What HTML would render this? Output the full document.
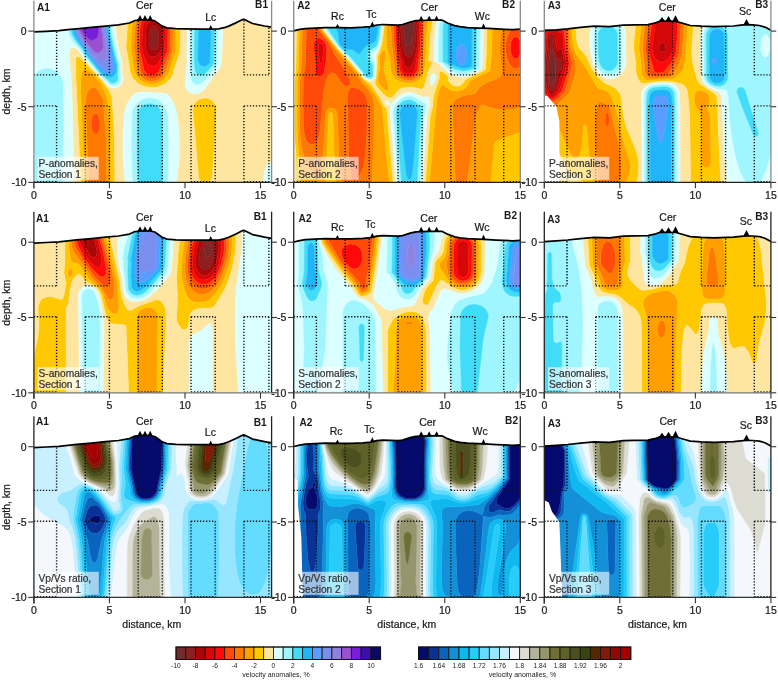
<!DOCTYPE html>
<html><head><meta charset="utf-8"><style>html,body{margin:0;padding:0;background:#fff;}svg{display:block;}text{filter:grayscale(1)}</style></head><body>
<svg width="778" height="680" viewBox="0 0 778 680">
<rect width="778" height="680" fill="#fff"/>
<clipPath id="cp00"><polygon points="33.9,31.9 46.0,31.4 59.0,30.7 70.2,29.4 76.7,28.8 91.3,27.4 105.5,26.1 118.5,24.9 129.5,23.0 135.0,20.5 139.7,19.9 145.0,19.8 150.2,19.9 154.8,20.9 158.6,23.6 161.7,25.9 166.9,27.9 175.9,28.7 184.8,28.9 200.1,29.1 207.7,29.1 218.7,28.9 224.3,27.7 228.7,26.1 236.5,22.6 241.7,19.9 243.5,19.2 245.4,19.9 252.5,23.5 264.5,26.0 271.6,27.2 271.6,182.4 33.9,182.4"/></clipPath>
<g clip-path="url(#cp00)">
<path d="M153.3 26.1l2.5 .5 1.2 1.4 1.2 3.5 .7 4.7 -.1 4.9 -.9 4.8 -1.8 3.7 -1.5 .5 -2.5 -.3 -1.5 -1.4 -1.7 -7.3 .1 -4.9 .8 -4.8 1.5 -3.6z" fill="#8c2020" stroke="#8c2020" stroke-width=".5"/>
<path d="M152.1 20.2l3.7 0 3.1 1.5 2 2.4 1.1 3.7 .1 10.9 -.7 10.9 -3.2 5.1 -3.6 2.1 -3.7 -.4 -2.4 -1.7 -3.2 -6.3 .9 -21.9 .9 -2.4 1.4 -1.8zM152.4 26.5l-1.5 1.8 -1.4 4.3 -.6 4.9 .1 4.8 1.6 6.1 1.5 1.4 2.5 .3 1.5 -.5 .9 -1.2 1.2 -3.6 .7 -4.9 -.1 -4.9 -.6 -3.6 -1.4 -3.6 -2.2 -1.7z" fill="#a80808" stroke="#a80808" stroke-width=".5"/>
<path d="M152.1 16.8l4.9 .3 4.2 2.2 2.9 3.6 1.2 4.9 -.8 23 -2.7 6 -3.6 6 -2.4 2.3 -2.5 .8 -3.6 -.5 -2.8 -2.5 -2.4 -4.8 -2.7 -9.7 .9 -20.6 .7 -3.7 1.5 -2.7 2 -2.1 2.8 -1.7zM151.3 20.5l-3.3 2.4 -1.8 3.6 -.9 21.9 3.2 6.3 2.4 1.7 3.7 .4 3.6 -2.1 3.2 -5.1 .7 -10.9 -.1 -10.9 -1.1 -3.7 -2.7 -2.9 -3.6 -1.2z" fill="#d40808" stroke="#d40808" stroke-width=".5"/>
<path d="M150.9 14.4l6.1 -.1 5.4 2.5 2.5 2.5 1.6 2.4 1.5 6.1 -.7 23 -8.5 20.6 -3 2.8 -3.7 1 -2.4 -.3 -2.4 -1 -1.6 -1.3 -1.6 -2.4 -5 -21.8 1 -21.9 .9 -3.6 1.4 -2.7 2.5 -2.7 2.7 -1.9zM152.1 16.8l-2.4 .8 -2.8 1.7 -2 2.1 -1.5 2.7 -.7 3.7 -.9 20.6 2.7 9.7 2.4 4.8 2.8 2.5 3.6 .5 2.5 -.8 2.4 -2.3 3.6 -6 2.7 -6 .8 -23 -1.2 -4.9 -2.9 -3.6 -4.2 -2.2z" fill="#ff0a0a" stroke="#ff0a0a" stroke-width=".5"/>
<path d="M150.9 11.8l3.7 -.3 3.6 .6 6.1 3 2.4 2.4 2 3 1.3 3.6 .5 3.7 -.5 23 -7 19.7 -1.7 3.3 -2.4 2.5 -3.1 1.6 -3.7 .7 -3.6 -.5 -2.4 -1 -2.9 -2.1 -2 -2.7 -1.1 -3.3 -3.5 -21.8 1 -20.7 1.2 -4.8 2.1 -3.6 2.7 -2.9 3.7 -2.2zM150.8 14.4l-3.2 1.2 -2.7 1.9 -2.5 2.7 -1.4 2.7 -.9 3.6 -1 21.9 5 21.8 1.6 2.4 1.6 1.3 2.4 1 2.4 .3 3.7 -1 3 -2.8 8.5 -20.6 .7 -23 -1.5 -6.1 -1.6 -2.4 -2.5 -2.5 -5.4 -2.5zM95.1 113.5l1.3 .1 1.2 1 1 1.7 1.3 6 0 4.9 -.8 3.6 -1.5 2.6 -1.2 .7 -2.5 -.7 -1.2 -1.6 -1.2 -3.4 -.5 -3.6 .8 -7.3 1.3 -2.4z" fill="#ff4a0a" stroke="#ff4a0a" stroke-width=".5"/>
<path d="M149.7 9.5l3.6 -.5 4.9 .4 3.6 1.2 3.7 2.2 3 2.8 2.4 3.7 1.5 3.6 .7 4.9 -.4 23 -7.3 21.8 -2.3 3.7 -2.7 2.4 -3.4 1.7 -4.9 1 -3.6 -.4 -3.6 -1.3 -3.7 -2.6 -2.5 -3.3 -1.6 -4.8 -3.2 -21.8 1.2 -20.7 1.5 -6 2.2 -3.9 3.3 -3.4 4 -2.5zM150.3 12l-3.4 1.2 -3.3 2 -2.7 2.9 -2.1 3.6 -1.2 4.8 -1 20.7 3.5 21.8 1.1 3.3 2 2.7 2.9 2.1 2.4 1 3.6 .5 3.7 -.7 3.1 -1.6 2.4 -2.5 1.7 -3.3 7 -19.7 .5 -23 -.5 -3.7 -1.3 -3.6 -2 -3 -2.4 -2.4 -3.1 -1.9 -3.4 -1.2 -3.2 -.5zM93.9 87.1l2.5 1.2 2.4 2.9 4.3 8.1 2.9 37.6 .5 48.5 -17.7 0 -3.3 -82.5 1.1 -8.5 1.3 -3.5 2.4 -2.5zM94.5 113.8l-1.8 1.7 -1.2 3.1 -.4 7.4 1.6 5.8 1.2 1.6 2.5 .7 1.2 -.7 1.5 -2.6 .8 -3.6 0 -4.9 -.9 -4.8 -1.1 -2.4 -1.5 -1.5z" fill="#ff7800" stroke="#ff7800" stroke-width=".5"/>
<path d="M142.4 9.2l1.6 -.8 20.1 0 3.8 2.4 3.6 3.8 2.8 4.7 1.5 4.8 0 26.7 -7 21.8 -2.1 4 -3.7 3.8 -3.6 2.2 -4.8 1.4 -3.7 .2 -3.6 -.6 -6.1 -2.7 -4.6 -4.6 -2.5 -6.1 -3.3 -23 1.3 -21.9 1.2 -4.8 2.5 -4.9 3 -3.6zM149.3 9.6l-3.4 1.2 -3.8 2.4 -3.3 3.4 -2.2 3.9 -1.5 6 -1.2 20.7 3.2 21.8 1.6 4.8 2.5 3.3 3.7 2.6 3.6 1.3 3.6 .4 4.9 -1 3.4 -1.7 2.7 -2.4 2.3 -3.7 7.3 -21.8 .4 -23 -.7 -4.9 -1.5 -3.6 -2.4 -3.7 -3 -2.8 -3.7 -2.2 -3.6 -1.2 -4.9 -.4zM83 69.9l2.4 -.6 3.7 1.6 3.6 3.1 6.1 6.6 2.4 3.2 6.3 14.3 2.7 38.8 .5 48.5 -4.2 0 -.5 -48.5 -2.9 -37.6 -4.3 -8.1 -2.4 -2.9 -2.5 -1.2 -3.6 1.3 -2.4 2.5 -1.3 3.5 -1.1 8.5 3.3 82.5 -4.1 0 -4 -95.8 .2 -10.9 .9 -6z" fill="#ffa000" stroke="#ffa000" stroke-width=".5"/>
<path d="M135.2 9.1l.7 -.7 8.1 0 -4 2.6 -3.6 3.8 -2.6 4.5 -1.5 4.8 -1.5 23.1 3.3 23 1.8 4.8 2.6 3.7 3.9 3 4.9 1.9 4.8 .6 4.9 -.8 4.8 -2.1 3.7 -3.1 3.3 -5.6 7 -21.8 .3 -23 -.6 -4.9 -1.8 -4.8 -2.3 -3.7 -3.5 -3.6 -3.8 -2.4 8.1 0 4.1 4.8 3 6.1 1.3 7.2 -.4 25.5 -6 17 -1.1 4.8 -1.8 3.7 -4.6 5 -3.7 2.4 -3.6 1.5 -4.8 1 -4.9 0 -4.8 -.8 -3.7 -1.4 -3.6 -2.2 -3.5 -3.1 -2.5 -3.6 -1.4 -3.7 -4.1 -25.4 1.3 -20.7 .7 -4.8 1.7 -4.9 2 -3.6zM77 56.5l2.4 .8 8.5 7.9 15.4 17.1 6.1 8.5 2.6 6.1 2.4 38.8 .5 49.7 -4.2 0 -.5 -48.5 -2.7 -38.8 -4 -9.7 -2.4 -4.9 -1.9 -2.4 -8.9 -9.3 -3.6 -2.2 -2.5 -.4 -1.4 1 -1 2.5 -.9 6 -.2 8.5 .2 15.7 3.8 82.5 -3.8 0 -4.8 -104.3 -.4 -19.4 .3 -3.6zM204.3 98l4.8 .6 3.7 2.3 2.4 3.2 1.4 4.9 -4.2 67.9 -.7 2.4 -1.4 1.9 -2.4 1.6 -2.4 .5 -2.4 -.4 -2.1 -1.2 -2.3 -3.6 -5.9 -67.9 .8 -4.8 2.2 -3.6 3.6 -2.5z" fill="#ffc800" stroke="#ffc800" stroke-width=".5"/>
<path d="M106.1 8.4l29.8 0 -3.2 3.6 -2.9 4.8 -1.4 3.7 -.9 4.8 -1.4 21.9 3.3 18.1 .4 6.1 2.5 6.1 5.3 5.5 3.6 2.2 3.7 1.4 7.2 .9 4.9 -.5 4.8 -1.5 4.9 -3 3.7 -3.8 2.7 -4.9 1.1 -4.8 6 -17 .4 -24.2 -.4 -4.9 -.9 -3.6 -2.2 -4.9 -4.9 -6 102.4 0 0 155.2 -2.4 -1.9 -2.4 .2 -2 1.7 -1.6 2.4 -2.3 8.5 -.3 10.9 -87.6 0 3.1 -24.3 .6 -16.9 -1.5 -20.7 -1.4 -9.7 -1.9 -7.2 -4 -8.5 -1.9 -2.4 -2.3 -1.7 -6.1 -1.3 -17 -.6 -6 .5 -3.9 1.8 -4.8 6.1 -3.3 7.3 -1.1 4.8 -.8 7.3 -.9 25.5 .7 19.4 2 20.6 -10.6 0 -.5 -49.7 -2.4 -38.8 -2.6 -6.1 -6.1 -8.5 -15.4 -17.1 -8.5 -7.9 -2.4 -.8 -1 1.6 -.3 3.6 .4 19.4 4.8 104.3 -6.8 0 -1.9 -82.5 -1 -23 -2 -25.5 .8 -4.8 .9 -1.3 2.4 -.9 2.4 .5 2.5 1.8 5.7 8.4 7.6 8.3 7.3 9.1 5.6 5.6 2.9 3.9 2.4 1.9 2.4 1.1 2.4 .3 3.7 -1.1 2.9 -2.5 1.4 -2.4 .6 -2.4 -.1 -3.6 -1 -3.7 0 -8.5 -4.5 -20.6 .2 -1.2 -4 -23 -3.2 -6.1zM203.2 14.4l-6.2 1.6 -4.9 3.4 -3.2 4.7 -1.6 6.1 -.6 26.7 .5 2.4 -2.2 25.4 .8 3.7 1.6 2.4 2.3 2 3.7 1.2 6 -1.1 2.4 -1.2 2.4 -2.1 15.9 -21.8 1.3 -4.9 1.5 -30.3 -1.1 -6.1 -2.5 -4.8 -4.1 -4 -6.1 -2.8zM203.5 98.1l-4.1 1.2 -3.6 2.5 -2.2 3.6 -.8 4.8 5.9 67.9 2.3 3.6 2.1 1.2 2.4 .4 2.4 -.5 2.4 -1.6 1.4 -1.9 .7 -2.4 4.2 -67.9 -1.4 -4.9 -2.9 -3.6 -4.4 -2.3z" fill="#ffe6a0" stroke="#ffe6a0" stroke-width=".5"/>
<path d="M32.1 8.4l49.4 0 -3.3 1.7 -3.7 2.9 -4.4 6.3 -1.3 3.6 -.7 4.9 1.1 7.2 4.4 7.3 6.3 6.1 5.5 8.7 14.7 17.9 6.4 6.1 2 2.6 2.4 1.5 2.4 .5 2.5 -.5 2.4 -1.7 2 -3.6 -.8 -15.8 -4.8 -19.4 -4.5 -24.2 -1.8 -3.7 -2.9 -3.6 -3 -2.6 -4.1 -2.2 7.6 0 4.6 4.8 3.2 6.1 4 23 -.2 1.2 4.5 20.6 0 8.5 1.2 4.9 -.7 4.8 -3.1 4.1 -2.4 1.4 -2.5 .5 -3.6 -.7 -2.4 -1.5 -24.6 -28 -5.7 -8.4 -2.5 -1.8 -2.4 -.5 -2.4 .9 -1.4 2.5 -.3 3.6 2 25.5 1 23 1.9 82.5 -12.3 0 1.5 -53.4 -.1 -48.5 -1.8 -6 -3.7 -4.9 -5 -3.1 -4.8 -1 -6.1 1 -4.8 3.1 -3.6 4.9 -1.8 6 0 48.5 1.7 53.4 -2.4 0 0 -177zM204.3 14.4l6 .8 4.9 2.5 4.1 4 2.5 4.8 1.1 6.1 -1.5 30.3 -1.3 4.9 -15.9 21.8 -2.4 2.1 -2.4 1.2 -6 1.1 -3.7 -1.2 -2.3 -2 -1.6 -2.4 -.8 -3.7 2.2 -25.4 -.5 -2.4 .6 -26.7 1.6 -6.1 3.4 -4.8 4.7 -3.3 3.6 -1.2zM203.1 19.3l-3.7 .9 -4 2.7 -2.7 3.6 -1.3 4.9 -.4 26.7 .5 1.2 -.6 15.9 1.2 5.8 1.3 2 2.4 1.7 4.8 -1 4.9 -4.1 10 -13 1.2 -3.7 1.3 -30.3 -.5 -3.6 -2.3 -4.7 -3.7 -3.2 -3.6 -1.5zM136.4 92.9l7.2 -.8 20.9 1.1 2.2 .8 2.4 1.8 4.4 7.1 2.2 6.1 1.3 6.1 1.6 12.1 1 13.3 -.4 19.4 -3.2 25.5 -8.3 0 .6 -41.2 -.7 -26.7 -.8 -6.1 -2.1 -4.8 -4.1 -4.8 -4.8 -2.7 -6.1 -1 -6.1 1 -4.6 2.6 -3.8 4.2 -2.5 5.5 -.7 4.9 -.4 26.6 1.5 42.5 -7.6 0 -1.8 -18.2 -.8 -15.8 .2 -20.6 1 -15.7 1.5 -7.3 2.6 -6.1 4.2 -6zM269.8 161.9l2.4 -.2 2.4 1.9 0 21.8 -11 0 -.1 -7.3 1 -7.3 2.4 -6z" fill="#dcffff" stroke="#dcffff" stroke-width=".5"/>
<path d="M79.4 9.4l2.1 -1 16.8 0 2.9 1.4 3.6 2.8 4.2 5.5 1.4 3.6 4.2 23 5 20.6 .6 14.6 -2 3.6 -2.4 1.7 -3.7 .4 -2.4 -1 -9.6 -9.6 -14.7 -17.9 -5.5 -8.7 -6.3 -6.1 -3.8 -6.1 -1 -2.4 -.7 -4.8 1 -7.3 1.6 -3.6 2.5 -3.7 2.5 -2.5zM85.3 9.6l-3.5 1.2 -3.6 2.3 -2.7 2.5 -2.5 3.7 -1.4 3.6 -.7 3.6 .2 4.9 1.1 3.6 3.6 6.1 6.9 8.5 4.4 7.3 14.1 17.5 7 5.5 2.1 2.4 1.8 .8 2.4 -.2 2.5 -1.8 .9 -2.4 -.5 -3.7 .4 -9.7 -4.8 -19.4 -5.2 -25.4 -2.1 -3.7 -2.1 -2.4 -4.8 -3.4 -6.1 -1.9 -3.6 -.1zM203.1 19.3l4.8 .3 3.6 1.5 3.7 3.2 2.3 4.7 .5 3.6 -1.3 30.3 -1.2 3.7 -10 13 -4.9 4.1 -4.8 1 -2.4 -1.7 -1.3 -2 -1.2 -5.8 .6 -15.9 -.5 -1.2 .4 -26.7 1.3 -4.9 2.7 -3.6 4 -2.7zM201.9 22.9l-2.7 1.2 -2.6 2.4 -1.3 2.5 -.7 3.6 -.4 26.7 .8 9.7 .8 3.1 1.2 1.7 3.6 1.5 2.5 -.5 2.4 -1.6 3.6 -3.7 4.1 -5.4 1.5 -31.5 -1.3 -4.8 -3.1 -3.5 -3.6 -1.6zM44.2 68.8l6.1 0 6 2.7 4.4 4.8 2.3 6 .4 47.3 -1.6 55.8 -28.5 0 -1.7 -53.4 0 -48.5 1.3 -4.8 2.8 -4.7 3.7 -3.2zM143.6 99.1l3.7 -.8 3.6 -.1 3.7 .6 3.6 1.4 3.6 2.7 2.1 2.5 2.9 6 .8 6.1 .7 26.7 -.6 41.2 -5.5 0 .3 -32.8 -.8 -38.8 -1.3 -3.6 -2.9 -3.6 -4.2 -2.4 -3.6 -.6 -3.6 .5 -4.3 2.5 -2.9 3.6 -1.3 3.6 -.3 35.2 1.2 36.4 -5.4 0 -1.4 -36.4 .5 -35.2 1.3 -4.8 2.9 -4.7 3.6 -3.3z" fill="#a0f6ff" stroke="#a0f6ff" stroke-width=".5"/>
<path d="M85.4 9.5l3.7 -.5 3.6 .1 6.1 1.9 4.8 3.4 2.1 2.4 2.1 3.7 5.2 25.4 4.8 19.4 -.4 9.7 .5 3.7 -.9 2.4 -2.5 1.8 -2.4 .2 -1.8 -.8 -2.1 -2.4 -7 -5.5 -14.1 -17.5 -4.4 -7.3 -6.9 -8.5 -3.6 -6.1 -1.1 -3.6 -.2 -4.9 .7 -3.6 1.4 -3.6 2.5 -3.7 2.7 -2.5 3.6 -2.3zM88.7 10.8l-3.3 .6 -3.6 1.5 -3.6 2.6 -2.5 2.9 -1.7 3.3 -1 3.6 -.1 4.9 .9 3.6 3.4 6.1 6.4 8.5 4.3 7.2 14.5 18 4.9 3.2 3.6 .2 2.4 -1.1 1.9 -2.1 .7 -2.4 .4 -4.8 -5 -20.7 -4.9 -24.2 -2.9 -4.9 -4.3 -3.6 -5.3 -2.1zM203.1 22.6l3.6 .1 3.6 1.6 2.5 2.4 1.6 3.5 -.8 31.5 -.8 3.2 -4.9 5.9 -3.6 3.3 -3.7 1.2 -3.6 -1.5 -1.2 -1.7 -.8 -3.1 -.8 -9.7 .4 -26.7 .7 -3.6 1.7 -2.9 2.4 -2.1zM203.4 26.5l-2.8 1.4 -2 3.5 -.6 27.9 1.4 4.2 1.2 1.5 3.7 1.3 2.4 -.8 2.9 -2.6 1.2 -30.3 -.5 -2.4 -1.8 -2.4 -2.6 -1.3zM147.3 103.8l4.8 .1 4.9 2.2 2.7 2.9 2 4.8 .8 38.8 -.3 32.8 -23.7 0 -1.2 -32.8 .1 -37.5 .9 -3.7 2.3 -3.6 3 -2.6z" fill="#40dcf8" stroke="#40dcf8" stroke-width=".5"/>
<path d="M89.1 10.7l6 .7 4.9 2.3 3.6 3.3 2.8 4.7 4.9 24.2 5 20.7 -.4 4.8 -.7 2.4 -1.9 2.1 -2.4 1.1 -3.6 -.2 -4.9 -3.2 -14.5 -18 -4.3 -7.2 -6.4 -8.5 -3.4 -6.1 -.9 -3.6 .1 -4.9 1 -3.6 1.7 -3.3 2.5 -2.9 3.6 -2.6 3.6 -1.5zM85 13.2l-5.6 3.4 -3.6 5.1 -1.4 6.1 1.2 6 3.4 6.1 6.2 8.5 4.3 7.2 14.1 16.6 1.2 .9 2.5 .7 3.6 -.9 2.4 -2 1.1 -3.1 -.1 -1.2 -9.5 -44.9 -3.4 -4.9 -5 -3.3 -6.1 -1.2zM204.3 26.4l2.4 .4 2.4 1.6 1.2 1.8 .5 2.4 -1.2 30.3 -2.9 2.6 -2.4 .8 -3.7 -1.3 -1.2 -1.5 -1.4 -4.2 .6 -27.9 2 -3.5z" fill="#20b4f8" stroke="#20b4f8" stroke-width=".5"/>
<path d="M85.4 13l6.1 -.7 4.9 1.2 5 3.3 3.4 4.9 9.5 44.9 .1 1.2 -1.1 3.1 -2.4 2 -3.6 .9 -2.5 -.7 -1.2 -.9 -14.1 -16.6 -4.3 -7.2 -6.2 -8.5 -3.4 -6.1 -1.2 -6 1.4 -6.1 3.6 -5.1 2.4 -1.9zM86.2 14.4l-4.7 2.4 -4 4.9 -1.4 4.8 .7 6.1 4.8 8.5 4.5 6.1 4.4 7.2 3.4 4.2 6.1 6.4 3.6 3 2.5 1 2.4 -.3 1.2 -.6 1 -1.5 .2 -5.2 -7.3 -38.5 -3.1 -4.8 -4.1 -2.9 -4.9 -1.3z" fill="#5a9cff" stroke="#5a9cff" stroke-width=".5"/>
<path d="M86.7 14.3l4.8 -.4 4.9 1.3 4.1 2.9 3.1 4.8 7.3 38.5 -.2 5.2 -1 1.5 -1.2 .6 -2.4 .3 -2.5 -1 -3.6 -3 -6.1 -6.4 -3.4 -4.2 -4.4 -7.2 -4.5 -6.1 -4.8 -8.5 -.7 -6.1 1.4 -4.8 4 -4.9zM88 15.6l-5 2.1 -3.6 4 -1.7 4.8 .5 5.2 4.6 8.2 9.9 14.5 6.1 5.4 2.4 1.1 2.4 -.3 2.1 -1.3 .8 -1.2 .4 -4.9 -.8 -8.6 -3.8 -20.5 -2.3 -4.2 -3.6 -2.9 -3.7 -1.4z" fill="#7a8ef0" stroke="#7a8ef0" stroke-width=".5"/>
<path d="M89.1 15.5l4.8 .5 3.7 1.7 2.8 2.8 1.9 3.6 3.8 20.5 .8 8.6 -.4 4.9 -.8 1.2 -2.1 1.3 -2.4 .3 -2.4 -1.1 -6.1 -5.4 -9.9 -14.5 -4.6 -8.2 -.5 -5.2 1.7 -4.8 3.6 -4 2.4 -1.3zM86.3 18.1l-3.3 2 -2.4 3.2 -1.1 4.5 .5 3.6 5.4 8.9 7.3 9.4 3.7 3 2.4 -.3 2.6 -1.6 1.4 -2.4 .2 -1.2 -.5 -9.7 -2.2 -13.4 -2.3 -3.6 -3.7 -2.4 -4 -.8z" fill="#9080e0" stroke="#9080e0" stroke-width=".5"/>
<path d="M86.7 17.9l3.6 -.6 4 .8 3.7 2.4 2.3 3.6 2.2 13.4 .5 9.7 -.2 1.2 -1.4 2.4 -2.6 1.6 -2.4 .3 -3.7 -3 -7.3 -9.4 -5.4 -8.9 -.5 -3.6 1.1 -4.5 2.4 -3.2zM87 20.5l-2 1.2 -2 2.4 -1 3.7 .3 2.4 1.9 3.3 3.7 4.4 2.4 1.9 2.4 .4 3.7 -1.9 1.2 -1.7 .7 -4 -.3 -7.3 -1.6 -2.8 -2.9 -2 -3.2 -.7z" fill="#9a50d0" stroke="#9a50d0" stroke-width=".5"/>
<path d="M87.9 20.2l3.6 -.3 2.4 .8 2.5 1.8 1.6 2.8 .3 7.3 -.7 4 -1.2 1.7 -3.7 1.9 -2.4 -.4 -2.4 -1.9 -3.7 -4.4 -1.9 -3.3 -.3 -2.4 1 -3.7 2 -2.4z" fill="#7820d8" stroke="#7820d8" stroke-width=".5"/>
</g>
<line x1="56.6" y1="31.8" x2="56.6" y2="74.9" stroke="#111" stroke-width="1.4" stroke-dasharray="1.3 1.7" fill="none"/>
<line x1="33.9" y1="74.9" x2="56.6" y2="74.9" stroke="#111" stroke-width="1.4" stroke-dasharray="1.3 1.7" fill="none"/>
<line x1="56.6" y1="105.9" x2="56.6" y2="181.6" stroke="#111" stroke-width="1.4" stroke-dasharray="1.3 1.7" fill="none"/>
<line x1="33.9" y1="105.9" x2="56.6" y2="105.9" stroke="#111" stroke-width="1.4" stroke-dasharray="1.3 1.7" fill="none"/>
<line x1="33.9" y1="181.6" x2="56.6" y2="181.6" stroke="#111" stroke-width="1.4" stroke-dasharray="1.3 1.7" fill="none"/>
<line x1="85.3" y1="29.0" x2="85.3" y2="74.9" stroke="#111" stroke-width="1.4" stroke-dasharray="1.3 1.7" fill="none"/>
<line x1="109.4" y1="26.7" x2="109.4" y2="74.9" stroke="#111" stroke-width="1.4" stroke-dasharray="1.3 1.7" fill="none"/>
<line x1="85.3" y1="74.9" x2="109.4" y2="74.9" stroke="#111" stroke-width="1.4" stroke-dasharray="1.3 1.7" fill="none"/>
<line x1="85.3" y1="105.9" x2="85.3" y2="181.6" stroke="#111" stroke-width="1.4" stroke-dasharray="1.3 1.7" fill="none"/>
<line x1="109.4" y1="105.9" x2="109.4" y2="181.6" stroke="#111" stroke-width="1.4" stroke-dasharray="1.3 1.7" fill="none"/>
<line x1="85.3" y1="105.9" x2="109.4" y2="105.9" stroke="#111" stroke-width="1.4" stroke-dasharray="1.3 1.7" fill="none"/>
<line x1="85.3" y1="181.6" x2="109.4" y2="181.6" stroke="#111" stroke-width="1.4" stroke-dasharray="1.3 1.7" fill="none"/>
<line x1="138.2" y1="21.0" x2="138.2" y2="74.9" stroke="#111" stroke-width="1.4" stroke-dasharray="1.3 1.7" fill="none"/>
<line x1="162.3" y1="27.1" x2="162.3" y2="74.9" stroke="#111" stroke-width="1.4" stroke-dasharray="1.3 1.7" fill="none"/>
<line x1="138.2" y1="74.9" x2="162.3" y2="74.9" stroke="#111" stroke-width="1.4" stroke-dasharray="1.3 1.7" fill="none"/>
<line x1="138.2" y1="105.9" x2="138.2" y2="181.6" stroke="#111" stroke-width="1.4" stroke-dasharray="1.3 1.7" fill="none"/>
<line x1="162.3" y1="105.9" x2="162.3" y2="181.6" stroke="#111" stroke-width="1.4" stroke-dasharray="1.3 1.7" fill="none"/>
<line x1="138.2" y1="105.9" x2="162.3" y2="105.9" stroke="#111" stroke-width="1.4" stroke-dasharray="1.3 1.7" fill="none"/>
<line x1="138.2" y1="181.6" x2="162.3" y2="181.6" stroke="#111" stroke-width="1.4" stroke-dasharray="1.3 1.7" fill="none"/>
<line x1="191.0" y1="30.0" x2="191.0" y2="74.9" stroke="#111" stroke-width="1.4" stroke-dasharray="1.3 1.7" fill="none"/>
<line x1="215.2" y1="30.0" x2="215.2" y2="74.9" stroke="#111" stroke-width="1.4" stroke-dasharray="1.3 1.7" fill="none"/>
<line x1="191.0" y1="74.9" x2="215.2" y2="74.9" stroke="#111" stroke-width="1.4" stroke-dasharray="1.3 1.7" fill="none"/>
<line x1="191.0" y1="105.9" x2="191.0" y2="181.6" stroke="#111" stroke-width="1.4" stroke-dasharray="1.3 1.7" fill="none"/>
<line x1="215.2" y1="105.9" x2="215.2" y2="181.6" stroke="#111" stroke-width="1.4" stroke-dasharray="1.3 1.7" fill="none"/>
<line x1="191.0" y1="105.9" x2="215.2" y2="105.9" stroke="#111" stroke-width="1.4" stroke-dasharray="1.3 1.7" fill="none"/>
<line x1="191.0" y1="181.6" x2="215.2" y2="181.6" stroke="#111" stroke-width="1.4" stroke-dasharray="1.3 1.7" fill="none"/>
<line x1="243.9" y1="20.4" x2="243.9" y2="74.9" stroke="#111" stroke-width="1.4" stroke-dasharray="1.3 1.7" fill="none"/>
<line x1="268.9" y1="27.7" x2="268.9" y2="74.9" stroke="#111" stroke-width="1.4" stroke-dasharray="1.3 1.7" fill="none"/>
<line x1="243.9" y1="74.9" x2="268.9" y2="74.9" stroke="#111" stroke-width="1.4" stroke-dasharray="1.3 1.7" fill="none"/>
<line x1="243.9" y1="105.9" x2="243.9" y2="181.6" stroke="#111" stroke-width="1.4" stroke-dasharray="1.3 1.7" fill="none"/>
<line x1="268.9" y1="105.9" x2="268.9" y2="181.6" stroke="#111" stroke-width="1.4" stroke-dasharray="1.3 1.7" fill="none"/>
<line x1="243.9" y1="105.9" x2="268.9" y2="105.9" stroke="#111" stroke-width="1.4" stroke-dasharray="1.3 1.7" fill="none"/>
<line x1="243.9" y1="181.6" x2="268.9" y2="181.6" stroke="#111" stroke-width="1.4" stroke-dasharray="1.3 1.7" fill="none"/>
<polyline points="33.9,31.9 46.0,31.4 59.0,30.7 70.2,29.4 76.7,28.8 91.3,27.4 105.5,26.1 118.5,24.9 129.5,23.0 135.0,20.5 139.7,19.9 145.0,19.8 150.2,19.9 154.8,20.9 158.6,23.6 161.7,25.9 166.9,27.9 175.9,28.7 184.8,28.9 200.1,29.1 207.7,29.1 218.7,28.9 224.3,27.7 228.7,26.1 236.5,22.6 241.7,19.9 243.5,19.2 245.4,19.9 252.5,23.5 264.5,26.0 271.6,27.2" fill="none" stroke="#000" stroke-width="1.7" stroke-linejoin="round"/>
<polygon points="137.4,20.3 140.0,15.1 142.6,20.3" fill="#000"/>
<polygon points="142.4,20.2 145.0,15.1 147.6,20.2" fill="#000"/>
<polygon points="147.6,20.4 150.2,15.1 152.8,20.4" fill="#000"/>
<polygon points="208.5,29.5 210.7,24.9 212.9,29.5" fill="#000"/>
<line x1="33.9" y1="0.8" x2="33.9" y2="188.4" stroke="#8a8a8a" stroke-width="1.3"/>
<line x1="271.6" y1="0.8" x2="271.6" y2="182.4" stroke="#8a8a8a" stroke-width="1.3"/>
<line x1="33.9" y1="182.4" x2="271.6" y2="182.4" stroke="#222" stroke-width="1.3"/>
<line x1="28.3" y1="31.1" x2="33.9" y2="31.1" stroke="#333" stroke-width="1.1"/>
<line x1="271.6" y1="31.1" x2="276.9" y2="31.1" stroke="#333" stroke-width="1.1"/>
<text x="26.6" y="34.9" font-size="10.50" text-anchor="end" font-weight="normal" fill="#1a1a1a" stroke="#1a1a1a" stroke-width="0.22" font-family="Liberation Sans, sans-serif" >0</text>
<line x1="28.3" y1="106.7" x2="33.9" y2="106.7" stroke="#333" stroke-width="1.1"/>
<line x1="271.6" y1="106.7" x2="276.9" y2="106.7" stroke="#333" stroke-width="1.1"/>
<text x="26.6" y="110.5" font-size="10.50" text-anchor="end" font-weight="normal" fill="#1a1a1a" stroke="#1a1a1a" stroke-width="0.22" font-family="Liberation Sans, sans-serif" >-5</text>
<line x1="28.3" y1="182.4" x2="33.9" y2="182.4" stroke="#333" stroke-width="1.1"/>
<line x1="271.6" y1="182.4" x2="276.9" y2="182.4" stroke="#333" stroke-width="1.1"/>
<text x="26.6" y="186.2" font-size="10.50" text-anchor="end" font-weight="normal" fill="#1a1a1a" stroke="#1a1a1a" stroke-width="0.22" font-family="Liberation Sans, sans-serif" >-10</text>
<line x1="33.9" y1="182.4" x2="33.9" y2="188.2" stroke="#333" stroke-width="1.1"/>
<text x="33.9" y="198.8" font-size="10.50" text-anchor="middle" font-weight="normal" fill="#1a1a1a" stroke="#1a1a1a" stroke-width="0.22" font-family="Liberation Sans, sans-serif" >0</text>
<line x1="109.4" y1="182.4" x2="109.4" y2="188.2" stroke="#333" stroke-width="1.1"/>
<text x="109.4" y="198.8" font-size="10.50" text-anchor="middle" font-weight="normal" fill="#1a1a1a" stroke="#1a1a1a" stroke-width="0.22" font-family="Liberation Sans, sans-serif" >5</text>
<line x1="185.0" y1="182.4" x2="185.0" y2="188.2" stroke="#333" stroke-width="1.1"/>
<text x="185.0" y="198.8" font-size="10.50" text-anchor="middle" font-weight="normal" fill="#1a1a1a" stroke="#1a1a1a" stroke-width="0.22" font-family="Liberation Sans, sans-serif" >10</text>
<line x1="260.5" y1="182.4" x2="260.5" y2="188.2" stroke="#333" stroke-width="1.1"/>
<text x="260.5" y="198.8" font-size="10.50" text-anchor="middle" font-weight="normal" fill="#1a1a1a" stroke="#1a1a1a" stroke-width="0.22" font-family="Liberation Sans, sans-serif" >15</text>
<text x="36.9" y="10.8" font-size="10.10" text-anchor="start" font-weight="bold" fill="#1a1a1a" font-family="Liberation Sans, sans-serif" >A1</text>
<text x="268.0" y="7.9" font-size="10.10" text-anchor="end" font-weight="bold" fill="#1a1a1a" font-family="Liberation Sans, sans-serif" >B1</text>
<text x="144.4" y="9.4" font-size="10.50" text-anchor="middle" font-weight="normal" fill="#1a1a1a" stroke="#1a1a1a" stroke-width="0.22" font-family="Liberation Sans, sans-serif" >Cer</text>
<text x="210.7" y="20.6" font-size="10.50" text-anchor="middle" font-weight="normal" fill="#1a1a1a" stroke="#1a1a1a" stroke-width="0.22" font-family="Liberation Sans, sans-serif" >Lc</text>
<rect x="37.6" y="156.8" width="61.2" height="23.0" fill="#ffffff" fill-opacity="0.6"/>
<text x="38.5" y="166.7" font-size="10.20" text-anchor="start" font-weight="normal" fill="#333" stroke="#333" stroke-width="0.22" font-family="Liberation Sans, sans-serif" >P-anomalies,</text>
<text x="38.5" y="177.9" font-size="10.20" text-anchor="start" font-weight="normal" fill="#333" stroke="#333" stroke-width="0.22" font-family="Liberation Sans, sans-serif" >Section 1</text>
<clipPath id="cp01"><polygon points="293.7,30.9 299.7,29.4 305.3,28.6 314.9,28.1 325.4,27.6 339.0,27.7 351.7,27.8 363.2,27.2 370.8,26.5 376.8,25.0 382.8,24.5 390.4,24.8 398.0,25.1 402.5,24.5 411.1,21.8 415.9,20.6 422.1,20.5 429.7,20.2 437.2,20.1 441.8,20.1 448.1,23.2 454.6,25.6 459.9,26.6 467.5,27.6 478.0,28.1 488.6,28.4 496.3,28.9 512.5,29.7 520.3,29.2 520.3,182.4 293.7,182.4"/></clipPath>
<g clip-path="url(#cp01)">
<path d="M407 20.1l2.4 0 2.5 1 1.7 1.8 .8 2.4 -1.3 8.6 -2.4 10.5 -1 1.5 -1.5 .3 -1.2 -.4 -1.2 -2.8 -3.2 -16.5 .8 -3.8 1.2 -1.3z" fill="#722a2a" stroke="#722a2a" stroke-width=".5"/>
<path d="M407 18l3.7 .2 2.4 1.1 2.2 2.4 1.2 3.6 -1.6 20.6 -.6 2.8 -2.4 6.1 -1.2 1.3 -2.5 .7 -2.4 -1.2 -1.2 -1.8 -2.4 -7.1 -1.8 -20.2 .5 -3.6 1.3 -2.1 2.4 -2zM406 20.5l-2.7 2.4 -.7 3.6 3.2 16.5 1.2 2.8 2.4 .3 1.3 -1.7 1.2 -4.3 2.5 -14.8 -1.3 -3.1 -2.2 -1.7 -2.7 -.5z" fill="#8c2020" stroke="#8c2020" stroke-width=".5"/>
<path d="M405.8 16.5l4.9 -.1 3.6 1.7 3 3.6 .8 3.6 -1 20.6 -1.6 8.8 -1.5 5.8 -2.1 5 -1.2 1.4 -2.5 1 -1.2 -.4 -2.4 -3 -2.4 -7 -2.4 -11.6 -1.1 -19.4 .4 -3.6 1.2 -2.4 2.3 -2.4zM406.8 18.1l-2.2 .7 -2.4 2 -1.3 2.1 -.5 3.6 1.8 20.2 2.4 7.1 1.2 1.8 2.4 1.2 2.5 -.7 1.2 -1.3 2.4 -6.1 .6 -2.8 1.6 -20.6 -1.2 -3.6 -2.2 -2.4 -3 -1.2z" fill="#a80808" stroke="#a80808" stroke-width=".5"/>
<path d="M404.6 15.2l4.8 -.7 4.9 1.6 3.4 3.2 1.9 4.8 -.7 21.8 -3.9 23.1 -1.9 3.3 -3.7 1.7 -3.6 -.5 -2.4 -1.8 -1 -1.5 -4.4 -24.3 -.9 -19.4 .3 -3.6 1 -2.4 1.7 -2.4zM404.8 16.8l-3.8 2.8 -2.2 4.5 1 21.8 3.6 15.7 2.4 4.7 2.4 1.6 2.5 -1 1.2 -1.4 2.1 -5 1.5 -5.8 1.6 -8.8 1 -20.6 -.8 -3.6 -3 -3.6 -4.9 -1.9zM319.8 43.4l2.4 .2 1.4 2.3 -1.4 15.5 -1.2 3.3 -1.2 -2.3 -1.7 -14 .3 -3.7z" fill="#d40808" stroke="#d40808" stroke-width=".5"/>
<path d="M405.8 13l4.9 -.1 4.8 1.9 2.4 2 1.8 2.5 1.5 4.8 -.6 21.8 -3.1 23.1 -.8 2.4 -1.7 2.4 -3.1 2.1 -2.5 .6 -3 -.2 -2.9 -1.3 -3.2 -3.6 -.8 -2.4 -3.3 -23.1 -.8 -20.6 .6 -3.6 1.3 -2.9 2.5 -2.8 2.4 -1.7zM403.5 15.6l-2.5 1.7 -1.9 2 -1.9 4.8 .8 21.8 4.4 24.3 1 1.5 2.4 1.8 3.6 .5 3.7 -1.7 1.9 -3.3 3.9 -23.1 .7 -21.8 -1.9 -4.8 -3.4 -3.2 -4.9 -1.6 -3.6 .3zM513.7 37.4l2.4 -.8 2.4 1.4 1.8 3.1 .9 3.6 .1 4.9 -1.1 4.8 -1.7 3.1 -2.4 1.4 -2.4 -.8 -1.2 -1.5 -1.5 -3.4 -.6 -3.6 .6 -7.3 1.5 -3.5zM317.3 38.3l2.5 -.3 3.6 2.2 2.5 3.3 .9 3.7 -.2 9.7 -2.3 15.7 -2.1 3 -2.4 .9 -2.5 -.4 -1.7 -2.3 .1 -8.5 -1.9 -15.7 .2 -6.1 1.8 -3.6zM319.6 43.5l-1.2 1.2 -.3 1.2 .1 3.7 1.6 12.8 1.2 2.3 1.2 -3.3 1.4 -15.5 -1.4 -2.3 -1.2 -.4z" fill="#ff0a0a" stroke="#ff0a0a" stroke-width=".5"/>
<path d="M407 10.7l6.1 .7 5.3 3 3.4 4.9 1.1 6 -.6 20.6 -2.9 24.3 -1.6 3.6 -2.4 2.5 -3.5 1.8 -3.7 .5 -3.6 -.7 -3.1 -1.6 -2.3 -2.5 -1.7 -3.6 -3.2 -24.3 -.9 -20.6 .8 -4.8 3.1 -5.1 3.7 -2.8zM405.1 13.2l-2.9 1.1 -3.3 2.5 -1.9 2.5 -1.4 3.6 .6 23 3.3 23.1 .8 2.4 3.2 3.6 2.9 1.3 3 .2 2.5 -.6 3.1 -2.1 1.7 -2.4 .8 -2.4 3.1 -23.1 .6 -21.8 -1.5 -4.8 -1.8 -2.5 -2.4 -2 -4.8 -1.9zM311.3 15.4l2.4 -.7 2.4 0 2.3 .9 .9 1.2 -.7 4.9 .4 8.5 9.3 12.1 6 11.7 9.7 14.2 6.1 11.5 .3 2.6 -.3 1.7 -1.2 1.9 -1.3 .4 -2.4 -.3 -2.4 -1.4 -5.8 -8.3 -2.7 -3 -2.4 -.6 -1.2 .5 -2.5 2.9 -2.4 5.5 -2.2 10.4 -3.8 41 -1.4 5.1 -2.3 4.2 -2.4 1.9 -2.4 .3 -2.4 -.9 -2.5 -2.7 -2.4 -8.3 -.6 -6.6 -.4 -26.7 .3 -21.8 2.3 -15.8 .8 -38.8 1.2 -4.2 1.5 -1.9zM316.9 38.7l-2.5 3.6 -.7 3.6 2 19.4 -.2 7.3 .7 2.4 1.1 1.1 2.5 .4 2.4 -.9 2.1 -3 2.3 -15.7 .2 -9.7 -.9 -3.7 -2.5 -3.3 -3.6 -2.2 -1.2 -.1zM513.7 27.6l2.4 -.5 2.4 .8 2.4 2 2.5 3.9 0 28 -3.7 5.5 -3.6 1.8 -3.6 -1.2 -3.1 -3.8 -2.5 -6 -1.2 -7.3 .1 -7.3 1.5 -7.3 2.7 -5.5zM513.7 37.5l-1.2 1.3 -1.5 3.5 -.6 7.3 .6 3.6 1.5 3.4 1.2 1.5 2.4 .8 2.4 -1.4 1.7 -3.1 1.1 -4.8 -.1 -4.9 -.9 -3.6 -1.8 -3.1 -2.4 -1.4zM350.1 88.1l1.2 -.4 3.6 .2 3.6 1.2 3.1 1.7 2.7 2.4 1.5 2.4 1.3 4.9 -.2 32.7 -1.1 17.5 -1.2 10 -1.2 6 -2.4 6.6 -3.7 5.6 -2.4 2.4 -1.2 0 -1.2 -1.4 -1.2 -3.4 -1.5 -8.1 -1.2 -14.5 -.8 -46.1 -.7 -9.7 1 -6.1z" fill="#ff4a0a" stroke="#ff4a0a" stroke-width=".5"/>
<path d="M310.1 9.3l3.6 -.8 4.9 .3 3.6 1.4 3.8 3 1.1 2.4 -.3 1.2 -1.1 1.3 -3.5 1.4 -1.7 2.2 .4 8.5 8.6 10.9 6.7 9.7 13.9 15.8 8.4 10.7 3.1 5 6.6 7.3 2.5 3.6 2.3 4.9 1.1 6 0 27.9 -2.1 53.4 -29.6 0 -3.2 -23.8 -1.9 -47.8 -1.4 -3.6 -2.8 -2 -2.4 -.3 -2.5 1 -1.3 1.3 -1.1 2.4 -1.4 25.5 -2.2 22.7 -2.4 14.3 -1.2 2.6 -1.3 .9 -2.4 -.9 -3.6 -4.3 -6.1 -12.3 -3.7 -13.3 -1.3 -9.7 -.6 -17 .2 -38.8 1.7 -20.6 1.1 -41.2 .9 -3.7 1.7 -3.8 2.4 -2.5zM310.8 15.6l-3.2 3.1 -1.2 4.2 -.8 38.8 -2.3 15.8 -.3 25.4 .5 25.5 .5 4.2 2.4 8.3 2.5 2.7 2.4 .9 2.4 -.3 2.4 -1.9 2.3 -4.2 1.4 -5.1 3.8 -41 2.2 -10.4 2.4 -5.5 2.5 -2.9 1.2 -.5 2.4 .6 2.7 3 5.8 8.3 2.4 1.4 2.4 .3 1.3 -.4 1.2 -1.9 .3 -1.7 -.3 -2.6 -6.1 -11.5 -9.7 -14.2 -6 -11.7 -9.3 -12.1 -.4 -8.5 .7 -4.9 -.9 -1.2 -2.3 -.9 -2.4 0zM349.8 88.4l-1.7 3.6 -1 6.1 .7 9.7 .8 47.3 1.4 14.5 1.3 6.9 1.2 3.4 1.2 1.4 1.2 0 2.4 -2.4 3.7 -5.6 2.4 -6.6 1.2 -6 1.2 -10 1.1 -17.5 .2 -32.7 -1.3 -4.9 -1.5 -2.4 -2.7 -2.4 -3.1 -1.7 -3.6 -1.2 -3.6 -.2zM399.8 9.3l2.2 -.9 13.5 .3 3.6 2.2 2.5 2.4 2 3.5 1.1 3.7 .3 3.6 -.8 21.8 -2.5 24.3 -1.3 3.6 -2.5 3.3 -3.6 2.4 -3.6 1.1 -4.9 -.1 -4.9 -1.8 -3.8 -3.7 -2.1 -4.8 -3.1 -24.3 -1.3 -23 1.1 -4.8 1.1 -2.5 3.1 -3.6zM406.7 10.8l-5.7 1.8 -3.9 3 -2.9 4.9 -.8 4.8 .9 20.6 3.2 24.3 1.7 3.6 3 2.9 3.6 1.6 3.6 .2 3.7 -.9 2.4 -1.4 2.3 -2.4 1.6 -3.6 2.9 -24.3 .6 -21.8 -1.7 -6 -3.3 -4.1 -4.8 -2.6zM514.9 14.3l4.8 .9 3.7 2.7 0 15.9 -2.5 -3.9 -3.6 -2.5 -3.6 .2 -2.4 1.7 -2.5 3.4 -2.2 6 -.9 6 .1 7.3 1.1 6.1 1.8 4.8 2.6 3.9 2.4 1.8 2.4 .5 2.4 -.9 2.4 -2.2 2.5 -4.2 0 44.9 -9.7 2.7 -9.7 .6 -8.5 -.9 -12.1 -3.9 -2.4 .3 -3.7 6.8 -2.4 9.5 -7.8 62.4 -.5 1.2 -10.3 0 -.8 -2.4 -3.2 -75.2 .6 -3.7 1.8 -3.6 2.8 -2.4 6.5 -2.5 10.9 -1.7 4.8 -6.4 3.4 -2.8 4.6 -2.4 9 -3.3 3.7 -2.7 1.3 -2.5 .3 -2.4 -2.3 -21.8 .4 -8.5 1.3 -8.5 2.3 -7.3 2.7 -5.1 3.6 -3.9 2.5 -1.3z" fill="#ff7800" stroke="#ff7800" stroke-width=".5"/>
<path d="M297.9 8.4l104.1 0 -3.5 1.6 -3.6 2.9 -2.1 2.7 -1.5 3.7 -.7 6 1.3 20.6 3.1 24.3 .8 2.4 2.2 3.7 2.9 2.4 3.7 1.6 3.6 .4 3.7 -.4 4 -1.6 2.8 -2.4 2.3 -3.7 .9 -3.6 2.3 -23.1 .8 -21.8 -.6 -4.8 -1.6 -4.2 -2.4 -3.1 -2.5 -2 -3.3 -1.6 19 0 -3.5 4.9 -1.6 4.8 -1.4 12.1 -.7 15.7 -1.3 13.4 .6 2.4 -1.7 10.9 -2.4 4.9 -2.5 2.6 -3.6 2 -4.8 1.1 -6.1 -.1 -4.8 -1.4 -4.6 -3 -3.4 -4.9 -.9 -3.6 -.8 -10 -3.6 -13 -.3 -14.6 .4 -10.9 -1.4 -2.8 -2.4 -.7 -47.3 .4 -7.3 1.1 -6 1.5 -.5 .5 .5 8.5 14.9 19.4 14.2 15.7 8.5 10.2 3.6 5.2 5.7 5.3 6.6 9.7 4.7 8.4 2.1 6.1 4.4 49.7 2.9 25.5 -17.8 0 2.1 -55.8 0 -25.5 -.4 -3.6 -1.1 -3.6 -4.4 -7.3 -6.6 -7.3 -3.1 -5 -8.4 -10.7 -13.9 -15.8 -6.7 -9.7 -8.6 -10.9 -.4 -8.5 1.7 -2.2 3.5 -1.4 1.1 -1.3 0 -2.4 -2 -2.4 -2.6 -1.8 -3.6 -1.4 -3.7 -.4 -4.8 .9 -3.7 2.2 -2.4 3.9 -1.5 6.3 -1 40 -1.5 15.8 -.4 13.3 .1 37.6 1.2 15.8 3.1 12.7 2.4 7.1 6.1 11.1 2.4 2.6 2.4 .9 1.3 -.9 1.2 -2.6 2.4 -14.3 2.2 -22.7 1.4 -25.5 1.2 -2.5 2.5 -1.9 3.6 0 2.4 1.6 1.2 1.6 .6 2.4 1.9 47.8 3.2 23.8 -6.4 0 -1.8 -30.3 -1.4 -41.3 -.9 -1.3 -1.2 -.2 -1.7 1.5 -3.6 71.6 -24.9 0 -.8 -23.1 -2 -20.6 -.6 -13.3 .1 -44.9 1.4 -19.4 .9 -42.4 .7 -7.3 -1 -3.6 -2.3 -2.4zM487 8.4l36.4 0 0 9.5 -4.9 -3.2 -2.4 -.4 -3.6 .7 -2.5 1.3 -2.4 2.3 -3.9 6.7 -2.5 8.5 -1.3 9.7 .1 10.9 2 17 -.3 2.4 -1.4 2.5 -3.6 2.7 -9 3.3 -4.6 2.4 -3.4 2.8 -4.8 6.4 -8.5 1.1 -6.5 1.9 -4 2.4 -2.6 3.6 -1 4.9 3.2 75.2 .8 2.4 -27.5 0 .8 -3.7 5.3 -63 2.1 -19.4 1.5 -7.6 2.3 -5.7 1.4 -1.4 1.2 .1 4.8 4.1 4.9 2.2 3.6 .3 3.7 -.7 3.6 -1.7 2.1 -1.7 1.9 -2.5 2 -3.9 18.8 -9.4 1.1 -1.2 1.1 -8.5 1.4 -35.2 -1.4 -8.4 -2 -4.9 -3 -4.8zM382.8 50.6l1.2 -.6 1.2 .7 .5 1.3 -.1 4.9 -1.8 10.9 .9 4.8 3.8 13.4 0 3.6 -.9 1.3 -2.4 -.5 -2.4 -2.1 -3.6 -4.3 -1.3 -2.9 .1 -3.6 2 -9.7 -.8 -9.7 1.2 -4.1zM482.2 105l10.9 3.6 9.7 1.4 10.9 -.6 9.7 -2.7 0 24.4 -28.6 10.6 -4.2 43.7 -24 0 .8 -2.4 7.6 -61.9 1.1 -4.9 2.1 -6 1.9 -3.6 .9 -1.1z" fill="#ffa000" stroke="#ffa000" stroke-width=".5"/>
<path d="M291.9 8.4l5 0 2.3 2.4 1 3.6 -.7 7.3 -.9 42.4 -1.3 18.2 -.3 31.5 .4 24.3 2.2 23 .9 24.3 -3.6 0 -.9 -30.3 -1.3 -14.6 -.4 -12.1 .2 -42.4 1.4 -21.9 1.1 -48.5 -.7 -2.4 -1.1 -1.2 -2.1 -1 -2.4 .2 0 -2.8zM433.7 8.4l7.2 0 -5.6 7.2 -2.3 4.9 -1.4 4.8 -1.5 12.2 -1.4 23 3.5 1.2 .1 1.2 -4.3 9.7 -4 14.5 -1.2 1.7 -1.2 .5 -8.5 -2 -6.1 0 -4.8 .7 -3.7 2 -6 7.1 -2.4 1 -3.7 -1.4 -4 -3.5 -6.2 -7.2 -1.4 -3.7 1.1 -3.6 1.3 -10.9 .1 -10.9 3.7 -9.7 1.4 -6.1 2.2 -18.2 .1 -1.2 -.7 -1 -1.2 -.5 -48.5 .3 -10.9 1.6 -.7 .8 .2 6.1 .6 1.2 14.4 18.7 11 11.7 12.1 14.4 2.4 3.7 6.8 4.8 2.2 2.5 7.1 10.9 4.2 8.5 3 3.6 6.3 71.5 1.1 4.9 -4.3 0 -2.9 -25.5 -4.4 -49.7 -2.1 -6.1 -4.7 -8.4 -6.6 -9.7 -5.7 -5.3 -3.6 -5.2 -8.5 -10.2 -14.2 -15.7 -14.9 -19.4 -.5 -8.5 .5 -.5 6 -1.5 7.3 -1.1 47.3 -.4 2.4 .7 1.4 2.8 -.4 10.9 .3 14.6 3.6 13 .8 10 .9 3.6 3.4 4.9 4.6 3 4.8 1.4 6.1 .1 4.8 -1.1 3.6 -2 2.5 -2.6 2.4 -4.9 1.7 -10.9 -.6 -2.4 1.3 -13.4 .7 -15.7 1.4 -12.1 1.6 -4.9zM382.7 50.8l-2.3 3.2 -1.2 4.1 .8 9.7 -2 9.7 -.1 3.6 1.3 2.9 3.6 4.3 2.4 2.1 2.4 .5 .9 -1.3 0 -3.6 -3.8 -13.4 -.9 -4.8 1.8 -10.9 .1 -4.9 -.5 -1.3 -1.2 -.7zM479.7 8.4l6.3 0 4.1 7.2 2 7.3 .3 4.9 -1.3 31.5 -1.2 10.9 -1.1 1.2 -18.8 9.4 -2 3.9 -1.9 2.5 -2.1 1.7 -3.6 1.7 -3.7 .7 -3.6 -.3 -4.9 -2.2 -4.8 -4.1 -1.2 -.1 -1.2 1.1 -2.5 6 -1.7 8.8 -7.4 82.5 -.6 2.4 -4.3 0 1.1 -4.9 4.6 -64.2 2.5 -9.7 .5 -7.3 1.1 -6.1 5.2 -15.7 -.4 -3.7 .6 -2.1 1.3 -.5 1.2 .3 3.6 2.5 2.3 2.3 .2 3.6 2 3.6 2.8 2 3.6 .8 2.4 -.4 2.5 -1.3 2.2 -2.3 1.1 -2.4 18.5 -9 1.2 -.7 .8 -1.2 .8 -10.9 .9 -32.8 -.9 -4.8 -1.4 -3.7 -2.8 -4.8 -3.1 -3.6zM330.7 112.3l1.2 .2 .9 1.3 1.4 41.3 1.8 30.3 -10.6 0 3.6 -71.6zM520.9 132l2.5 -.9 0 54.3 -32.8 0 4.2 -43.7z" fill="#ffc800" stroke="#ffc800" stroke-width=".5"/>
<path d="M441 8.4l5.8 0 -3.4 2.8 -2.8 3.2 -2.8 4.9 -1.7 4.8 -1.7 19.4 -.3 17 2 1.8 2.4 .6 3.2 3.7 9 7.6 3.6 1.6 4.8 1.1 3.7 .3 4.8 -1.1 7.3 -3.3 6.9 -3.8 .9 -13.4 .8 -27.8 -.3 -3.7 -1.4 -4.8 -2.1 -4.1 -2.5 -3.2 -4.2 -3.6 5.9 0 3.1 3.6 2.2 3.6 2 4.9 .9 4.8 -.9 32.8 -.8 10.9 -.8 1.2 -1.2 .7 -18.5 9 -1.1 2.4 -2.2 2.3 -2.5 1.3 -2.4 .4 -3.6 -.8 -2.8 -2 -2 -3.6 -.2 -3.6 -2.3 -2.3 -3.6 -2.5 -1.2 -.3 -1.3 .5 -.6 2.1 .4 3.7 -5.2 15.7 -1.1 6.1 -.5 7.3 -2.5 9.7 -4.6 64.2 -1.1 4.9 -3.1 0 1.3 -4.9 4 -63 .9 -5.1 2.4 -7 -1.2 -8.1 -1.2 -.8 -3.6 .9 -2.4 -.3 -8.5 -4.2 -6.1 -.4 -3.6 .9 -3.6 2.1 -8.5 8.3 -1.2 .1 -1.1 -2.2 -1.4 -.7 -1.2 -.2 -1.2 .8 0 1.3 1.2 1.4 1.2 .3 2.5 -.4 .6 2.4 -.4 8.5 5.5 65.4 1.4 4.9 -3.1 0 -1.1 -4.9 -6.3 -71.5 -3 -3.6 -4.2 -8.5 -7.1 -10.9 -2.2 -2.5 -6.8 -4.8 -2.4 -3.7 -12.1 -14.4 -11 -11.7 -14.4 -18.7 -.6 -1.2 -.2 -6.1 .7 -.8 10.9 -1.6 48.5 -.3 1.2 .5 .7 1 -.1 1.2 -2.2 18.2 -1.4 6.1 -3.7 9.7 -.1 10.9 -1.3 10.9 -1.1 3.6 1.4 3.7 6.2 7.2 4 3.5 3.7 1.4 2.4 -1 6 -7.1 3.7 -2 4.8 -.7 6.1 0 8.5 2 1.2 -.5 1.2 -1.6 4 -14.6 4.3 -9.7 -.1 -1.2 -3.5 -1.2 1.4 -23 1.5 -12.2 1.4 -4.8 2.3 -4.9zM338.6 21.7l-7.9 .3 -6.1 1.2 -.8 .9 .2 4.9 14.7 19.4 10.4 10.9 12.3 14.5 3.2 4.8 3.6 1.8 2.5 .4 3.6 -1.7 1.7 -12.5 -.6 -11 3.5 -7.2 1.5 -4.9 2.7 -21.8zM432.5 73.8l-1.8 2.5 -.2 6 .8 3.6 1.2 -.8 1.2 -2.1 2.4 -6.3 -1.2 -2.6 -1.2 -.6zM291.9 10.9l2.4 .5 1.2 .9 1.5 3.3 -1.1 48.5 -1.4 19.4 -.3 27.9 .4 26.7 1.4 17 .9 30.3 -6.2 0 0 -174.2z" fill="#ffe6a0" stroke="#ffe6a0" stroke-width=".5"/>
<path d="M445.8 9.1l1 -.7 8.2 0 -4.3 1.6 -4.9 3.5 -3.6 4.6 -2.1 4.8 -.8 4.9 -.6 20.6 .2 13.3 3.4 1.2 7.1 6.8 4.9 2.6 7.3 1.7 4.8 -.3 4.9 -1.6 6.5 -3.1 1 -1.2 .2 -1.2 1.2 -38.8 -.7 -4.9 -2.2 -5.2 -3.6 -4.5 -3.7 -2.7 -5.2 -2.1 8.2 0 .7 .4 5.5 5.6 3.4 7.3 .9 6.1 -1 35.1 -.7 6.1 -8.1 4.4 -7.3 3.1 -6 .6 -8.5 -2.2 -3.7 -2.5 -6.5 -5.8 -3.2 -3.7 -2.4 -.6 -2 -1.8 .2 -15.8 1.5 -19.4 1.5 -4.8 2.4 -4.9 2.9 -3.6zM339.2 21.7l43.9 0 -2.7 21.8 -1.5 4.9 -3.5 7.2 .6 9.7 -1.4 13.4 -2.7 1.9 -3.7 -.2 -3.6 -1.8 -3.2 -4.8 -12.3 -14.5 -10.4 -10.9 -14.7 -19.4 -.2 -4.9 .8 -.9 7.3 -1.3zM334.9 22.9l-9.1 1.5 -.7 .9 .5 3.7 13.6 18.5 10.4 10.6 12.3 14.5 3.3 4.9 4.3 1.7 3.6 -1 .7 -1.9 .7 -12.2 -.5 -2.4 -2.7 -4.8 0 -2.5 .6 -1.2 4.8 -4.1 1.6 -3.2 1.7 -7.2 2 -15.8zM433.7 73.5l1.8 1.5 .7 1.3 -.2 1.2 -2.3 5.5 -1.2 2.1 -1.2 .8 -.8 -3.6 .2 -6 1.8 -2.5zM404.6 93l3.6 -.6 3.7 .2 10.9 4.7 4.8 -.8 1.2 .8 .6 2 .6 6.1 -2.4 7 -.9 5.1 -4 63 -1.3 4.9 -3 0 1.7 -4.9 3.6 -61.8 2.3 -13.3 -.8 -1.5 -9.7 -5.7 -4.8 -1.7 -3.7 0 -2.4 .6 -4.8 2.8 -4.5 5.5 -2 6 -.1 3.7 5.2 65.4 1.8 4.9 -3 0 -1.2 -3.7 -5.7 -66.6 .2 -9.7 -.4 -1.2 -2.5 .4 -1.2 -.3 -1.2 -1.4 0 -1.2 1.2 -.9 1.2 .2 1.4 .7 1.1 2.2 1.2 -.1 8.5 -8.3z" fill="#dcffff" stroke="#dcffff" stroke-width=".5"/>
<path d="M451.9 9.4l3.1 -1 9.8 0 4 1.4 3.7 2.3 3.4 3.5 2.3 3.7 1.5 4.6 .4 5.1 -1.3 38.8 -1 1.2 -2.9 1.4 -8.5 3.3 -6 .1 -7.3 -1.9 -4.9 -3.1 -5.9 -5.9 -3.4 -1.2 -.2 -17 .6 -16.9 .5 -3.7 1.8 -4.8 2.3 -3.7 3.6 -3.6zM455.2 12l-4.5 2.1 -3.2 2.7 -2.5 3.7 -1.4 3.6 -.5 3.7 0 33.9 2.7 1.2 4.9 4.1 4.8 2.3 7.3 1.7 4.8 -.4 7.3 -2.6 .7 -1.4 1 -38.8 -.4 -3.7 -2.9 -6 -2.2 -2.5 -3.4 -2.4 -6.1 -1.8zM335.5 22.9l46.5 0 -2 15.8 -1.7 7.2 -1.6 3.2 -4.8 4.1 -.6 1.2 0 2.5 2.7 4.8 .5 2.4 -.7 12.2 -.7 1.9 -3.6 1 -4.3 -1.7 -3.3 -4.9 -12.3 -14.5 -10.4 -10.6 -13.6 -18.5 -.5 -3.7 .7 -.9 4.9 -1.1zM351.2 24.1l-19.3 .6 -2.5 .6 -2.1 1.2 0 1.3 12.9 19.4 10.5 9.7 12.2 14.5 2.8 4.9 2.5 1.2 2.8 0 1.6 -1.2 .2 -9.7 -.9 -2.9 -3.7 -4.5 -.7 -2.3 -.1 -2.5 .8 -2.4 1.3 -1.7 6 -3.5 1.5 -2.1 1.4 -4.8 2.2 -15.8zM405.8 96.7l4.9 -.2 3.6 1.1 10.9 6.3 .8 1.5 -2.3 13.3 -3.6 61.8 -1.7 4.9 -3.9 0 1.9 -2.4 .8 -2.5 3.9 -70.3 -1.1 -3.6 -2.1 -2.5 -3.6 -2.7 -3.6 -1.3 -4.9 .2 -3.6 1.8 -3.7 3.8 -2.2 5.5 -.1 3.7 5.2 65.4 .8 2.5 1.9 2.4 -3.9 0 -1.8 -4.9 -5.2 -67.9 1 -4.8 2.7 -4.9 4.1 -4z" fill="#a0f6ff" stroke="#a0f6ff" stroke-width=".5"/>
<path d="M455.5 11.9l3.6 -.6 3.7 .2 6 2.4 4.5 4.2 2.9 6 .4 3.7 -1 38.8 -.7 1.4 -7.3 2.6 -4.8 .4 -7.3 -1.7 -4.8 -2.3 -4.9 -4.1 -2.7 -1.2 0 -33.9 .5 -3.7 2.1 -4.8 2.5 -3.2 3.7 -2.7zM455.4 16.8l-2.3 1.3 -2.6 2.4 -1.5 2.4 -1.1 3.6 .2 36.4 13.5 5 3.6 .1 4.8 -.9 1.2 -.5 .4 -7.3 .3 -31.5 -.6 -3.7 -2.5 -4.1 -3.6 -2.8 -4.8 -1.2zM351.3 24.1l29.3 0 -2.2 15.8 -1.4 4.8 -1.5 2.1 -6 3.5 -1.3 1.7 -.8 2.4 .1 2.5 .7 2.3 3.7 4.5 .9 2.9 -.2 9.7 -1.6 1.2 -2.8 0 -2.5 -1.2 -2.8 -4.9 -12.2 -14.5 -10.5 -9.7 -12.9 -19.4 0 -1.3 2.1 -1.2 2.5 -.6zM365 26.5l-23.5 1.3 -4.3 1.2 -.4 1.2 1.6 3.6 .4 7.3 2.3 4.8 2.9 2.5 2.4 1 7.3 .6 4.8 3.8 1.3 -.2 3.8 -5.2 2.4 -2.5 2.2 -1.4 6.1 -2.5 1.2 -1.7 .8 -2.8 1.6 -11zM367.9 71.4l0 2.4 2 1.2 .8 -1.2 -1.2 -2 -1.3 -1zM405.8 100.3l4.9 -.2 4.8 2.1 4.5 4.4 1.1 3.6 -3.9 70.3 -.8 2.5 -1.9 2.4 -10.4 0 -1.9 -2.4 -.8 -2.5 -5.2 -67.9 1.1 -4.4 2.5 -3.9 2.4 -2.2zM406.9 104.1l-2.7 1.3 -2.5 2.4 -1.2 2.4 -.7 3.6 6 55.8 1.2 6.2 1.2 3 1.2 .5 1.3 -1 1.2 -4.4 1.2 -8.8 4.2 -52.5 -.9 -3.6 -2.1 -2.8 -3.6 -2z" fill="#40dcf8" stroke="#40dcf8" stroke-width=".5"/>
<path d="M455.5 16.8l4.9 -.8 4.8 1.2 3.6 2.8 2.5 4.1 .6 3.7 -.3 31.5 -.4 7.3 -1.2 .5 -4.8 .9 -3.6 -.1 -13.5 -5 -.2 -36.4 1.1 -3.6 1.5 -2.4 2.6 -2.4zM460 44.7l-2 2.5 -.9 2.4 -.6 3.6 .1 4.9 .8 3.6 1.4 2.4 4 .8 1.7 -.8 1.4 -3.6 .5 -3.6 -.1 -4.9 -1.1 -4.4 -1.2 -2.2 -2.4 -1.3zM365.8 26.5l12.1 0 -1.3 9.7 -1.1 4.1 -1.2 1.7 -6.1 2.5 -2.2 1.4 -2.4 2.5 -3.8 5.2 -1.3 .2 -5.9 -4.2 -5 0 -2.4 -.6 -2.4 -1.4 -2.4 -2.7 -1.6 -3.8 -.4 -7.3 -1.6 -3.6 .4 -1.2 4.3 -1.2zM368.2 70.8l2.5 3 -.8 1.2 -2 -1.2 -.2 -1.2zM407 104.1l3.7 .1 3.6 2 2.1 2.8 .9 3.6 -4.2 52.5 -1.2 8.8 -1.2 4.4 -1.3 1 -1.2 -.5 -1.2 -3 -1.2 -6.2 -6 -55.8 .7 -3.6 1.2 -2.4 2.5 -2.4z" fill="#20b4f8" stroke="#20b4f8" stroke-width=".5"/>
<path d="M460.4 44.5l2.4 -.1 1.2 1 1.2 2.2 1.1 4.4 .1 4.9 -.5 3.6 -1.4 3.6 -1.7 .8 -4 -.8 -1.4 -2.4 -.8 -3.6 -.1 -4.9 .6 -3.6 1.7 -3.7z" fill="#5a9cff" stroke="#5a9cff" stroke-width=".5"/>
</g>
<line x1="316.4" y1="29.0" x2="316.4" y2="74.9" stroke="#111" stroke-width="1.4" stroke-dasharray="1.3 1.7" fill="none"/>
<line x1="293.7" y1="74.9" x2="316.4" y2="74.9" stroke="#111" stroke-width="1.4" stroke-dasharray="1.3 1.7" fill="none"/>
<line x1="316.4" y1="105.9" x2="316.4" y2="181.6" stroke="#111" stroke-width="1.4" stroke-dasharray="1.3 1.7" fill="none"/>
<line x1="293.7" y1="105.9" x2="316.4" y2="105.9" stroke="#111" stroke-width="1.4" stroke-dasharray="1.3 1.7" fill="none"/>
<line x1="293.7" y1="181.6" x2="316.4" y2="181.6" stroke="#111" stroke-width="1.4" stroke-dasharray="1.3 1.7" fill="none"/>
<line x1="345.1" y1="28.7" x2="345.1" y2="74.9" stroke="#111" stroke-width="1.4" stroke-dasharray="1.3 1.7" fill="none"/>
<line x1="369.2" y1="27.6" x2="369.2" y2="74.9" stroke="#111" stroke-width="1.4" stroke-dasharray="1.3 1.7" fill="none"/>
<line x1="345.1" y1="74.9" x2="369.2" y2="74.9" stroke="#111" stroke-width="1.4" stroke-dasharray="1.3 1.7" fill="none"/>
<line x1="345.1" y1="105.9" x2="345.1" y2="181.6" stroke="#111" stroke-width="1.4" stroke-dasharray="1.3 1.7" fill="none"/>
<line x1="369.2" y1="105.9" x2="369.2" y2="181.6" stroke="#111" stroke-width="1.4" stroke-dasharray="1.3 1.7" fill="none"/>
<line x1="345.1" y1="105.9" x2="369.2" y2="105.9" stroke="#111" stroke-width="1.4" stroke-dasharray="1.3 1.7" fill="none"/>
<line x1="345.1" y1="181.6" x2="369.2" y2="181.6" stroke="#111" stroke-width="1.4" stroke-dasharray="1.3 1.7" fill="none"/>
<line x1="398.0" y1="26.1" x2="398.0" y2="74.9" stroke="#111" stroke-width="1.4" stroke-dasharray="1.3 1.7" fill="none"/>
<line x1="422.1" y1="21.5" x2="422.1" y2="74.9" stroke="#111" stroke-width="1.4" stroke-dasharray="1.3 1.7" fill="none"/>
<line x1="398.0" y1="74.9" x2="422.1" y2="74.9" stroke="#111" stroke-width="1.4" stroke-dasharray="1.3 1.7" fill="none"/>
<line x1="398.0" y1="105.9" x2="398.0" y2="181.6" stroke="#111" stroke-width="1.4" stroke-dasharray="1.3 1.7" fill="none"/>
<line x1="422.1" y1="105.9" x2="422.1" y2="181.6" stroke="#111" stroke-width="1.4" stroke-dasharray="1.3 1.7" fill="none"/>
<line x1="398.0" y1="105.9" x2="422.1" y2="105.9" stroke="#111" stroke-width="1.4" stroke-dasharray="1.3 1.7" fill="none"/>
<line x1="398.0" y1="181.6" x2="422.1" y2="181.6" stroke="#111" stroke-width="1.4" stroke-dasharray="1.3 1.7" fill="none"/>
<line x1="450.8" y1="25.3" x2="450.8" y2="74.9" stroke="#111" stroke-width="1.4" stroke-dasharray="1.3 1.7" fill="none"/>
<line x1="475.0" y1="28.9" x2="475.0" y2="74.9" stroke="#111" stroke-width="1.4" stroke-dasharray="1.3 1.7" fill="none"/>
<line x1="450.8" y1="74.9" x2="475.0" y2="74.9" stroke="#111" stroke-width="1.4" stroke-dasharray="1.3 1.7" fill="none"/>
<line x1="450.8" y1="105.9" x2="450.8" y2="181.6" stroke="#111" stroke-width="1.4" stroke-dasharray="1.3 1.7" fill="none"/>
<line x1="475.0" y1="105.9" x2="475.0" y2="181.6" stroke="#111" stroke-width="1.4" stroke-dasharray="1.3 1.7" fill="none"/>
<line x1="450.8" y1="105.9" x2="475.0" y2="105.9" stroke="#111" stroke-width="1.4" stroke-dasharray="1.3 1.7" fill="none"/>
<line x1="450.8" y1="181.6" x2="475.0" y2="181.6" stroke="#111" stroke-width="1.4" stroke-dasharray="1.3 1.7" fill="none"/>
<line x1="503.7" y1="30.3" x2="503.7" y2="74.9" stroke="#111" stroke-width="1.4" stroke-dasharray="1.3 1.7" fill="none"/>
<line x1="503.7" y1="74.9" x2="520.3" y2="74.9" stroke="#111" stroke-width="1.4" stroke-dasharray="1.3 1.7" fill="none"/>
<line x1="503.7" y1="105.9" x2="503.7" y2="181.6" stroke="#111" stroke-width="1.4" stroke-dasharray="1.3 1.7" fill="none"/>
<line x1="503.7" y1="105.9" x2="520.3" y2="105.9" stroke="#111" stroke-width="1.4" stroke-dasharray="1.3 1.7" fill="none"/>
<line x1="503.7" y1="181.6" x2="520.3" y2="181.6" stroke="#111" stroke-width="1.4" stroke-dasharray="1.3 1.7" fill="none"/>
<polyline points="293.7,30.9 299.7,29.4 305.3,28.6 314.9,28.1 325.4,27.6 339.0,27.7 351.7,27.8 363.2,27.2 370.8,26.5 376.8,25.0 382.8,24.5 390.4,24.8 398.0,25.1 402.5,24.5 411.1,21.8 415.9,20.6 422.1,20.5 429.7,20.2 437.2,20.1 441.8,20.1 448.1,23.2 454.6,25.6 459.9,26.6 467.5,27.6 478.0,28.1 488.6,28.4 496.3,28.9 512.5,29.7 520.3,29.2" fill="none" stroke="#000" stroke-width="1.7" stroke-linejoin="round"/>
<polygon points="335.3,28.1 337.5,23.9 339.7,28.1" fill="#000"/>
<polygon points="369.9,26.6 372.3,21.6 374.7,26.6" fill="#000"/>
<polygon points="418.6,21.0 421.2,15.7 423.8,21.0" fill="#000"/>
<polygon points="426.6,20.8 429.2,15.7 431.8,20.8" fill="#000"/>
<polygon points="434.0,20.7 436.6,15.7 439.2,20.7" fill="#000"/>
<polygon points="481.1,28.8 483.5,23.2 485.9,28.8" fill="#000"/>
<line x1="293.7" y1="0.8" x2="293.7" y2="188.4" stroke="#8a8a8a" stroke-width="1.3"/>
<line x1="520.3" y1="0.8" x2="520.3" y2="182.4" stroke="#8a8a8a" stroke-width="1.3"/>
<line x1="293.7" y1="182.4" x2="520.3" y2="182.4" stroke="#222" stroke-width="1.3"/>
<line x1="288.1" y1="31.1" x2="293.7" y2="31.1" stroke="#333" stroke-width="1.1"/>
<line x1="520.3" y1="31.1" x2="525.6" y2="31.1" stroke="#333" stroke-width="1.1"/>
<text x="286.4" y="34.9" font-size="10.50" text-anchor="end" font-weight="normal" fill="#1a1a1a" stroke="#1a1a1a" stroke-width="0.22" font-family="Liberation Sans, sans-serif" >0</text>
<line x1="288.1" y1="106.7" x2="293.7" y2="106.7" stroke="#333" stroke-width="1.1"/>
<line x1="520.3" y1="106.7" x2="525.6" y2="106.7" stroke="#333" stroke-width="1.1"/>
<text x="286.4" y="110.5" font-size="10.50" text-anchor="end" font-weight="normal" fill="#1a1a1a" stroke="#1a1a1a" stroke-width="0.22" font-family="Liberation Sans, sans-serif" >-5</text>
<line x1="288.1" y1="182.4" x2="293.7" y2="182.4" stroke="#333" stroke-width="1.1"/>
<line x1="520.3" y1="182.4" x2="525.6" y2="182.4" stroke="#333" stroke-width="1.1"/>
<text x="286.4" y="186.2" font-size="10.50" text-anchor="end" font-weight="normal" fill="#1a1a1a" stroke="#1a1a1a" stroke-width="0.22" font-family="Liberation Sans, sans-serif" >-10</text>
<line x1="293.7" y1="182.4" x2="293.7" y2="188.2" stroke="#333" stroke-width="1.1"/>
<text x="293.7" y="198.8" font-size="10.50" text-anchor="middle" font-weight="normal" fill="#1a1a1a" stroke="#1a1a1a" stroke-width="0.22" font-family="Liberation Sans, sans-serif" >0</text>
<line x1="369.2" y1="182.4" x2="369.2" y2="188.2" stroke="#333" stroke-width="1.1"/>
<text x="369.2" y="198.8" font-size="10.50" text-anchor="middle" font-weight="normal" fill="#1a1a1a" stroke="#1a1a1a" stroke-width="0.22" font-family="Liberation Sans, sans-serif" >5</text>
<line x1="444.8" y1="182.4" x2="444.8" y2="188.2" stroke="#333" stroke-width="1.1"/>
<text x="444.8" y="198.8" font-size="10.50" text-anchor="middle" font-weight="normal" fill="#1a1a1a" stroke="#1a1a1a" stroke-width="0.22" font-family="Liberation Sans, sans-serif" >10</text>
<line x1="520.3" y1="182.4" x2="520.3" y2="188.2" stroke="#333" stroke-width="1.1"/>
<text x="520.3" y="198.8" font-size="10.50" text-anchor="middle" font-weight="normal" fill="#1a1a1a" stroke="#1a1a1a" stroke-width="0.22" font-family="Liberation Sans, sans-serif" >15</text>
<text x="297.3" y="8.8" font-size="10.10" text-anchor="start" font-weight="bold" fill="#1a1a1a" font-family="Liberation Sans, sans-serif" >A2</text>
<text x="515.0" y="8.2" font-size="10.10" text-anchor="end" font-weight="bold" fill="#1a1a1a" font-family="Liberation Sans, sans-serif" >B2</text>
<text x="337.5" y="20.1" font-size="10.50" text-anchor="middle" font-weight="normal" fill="#1a1a1a" stroke="#1a1a1a" stroke-width="0.22" font-family="Liberation Sans, sans-serif" >Rc</text>
<text x="371.3" y="17.5" font-size="10.50" text-anchor="middle" font-weight="normal" fill="#1a1a1a" stroke="#1a1a1a" stroke-width="0.22" font-family="Liberation Sans, sans-serif" >Tc</text>
<text x="429.3" y="10.9" font-size="10.50" text-anchor="middle" font-weight="normal" fill="#1a1a1a" stroke="#1a1a1a" stroke-width="0.22" font-family="Liberation Sans, sans-serif" >Cer</text>
<text x="482.4" y="19.9" font-size="10.50" text-anchor="middle" font-weight="normal" fill="#1a1a1a" stroke="#1a1a1a" stroke-width="0.22" font-family="Liberation Sans, sans-serif" >Wc</text>
<rect x="297.4" y="156.8" width="61.2" height="23.0" fill="#ffffff" fill-opacity="0.6"/>
<text x="298.3" y="166.7" font-size="10.20" text-anchor="start" font-weight="normal" fill="#333" stroke="#333" stroke-width="0.22" font-family="Liberation Sans, sans-serif" >P-anomalies,</text>
<text x="298.3" y="177.9" font-size="10.20" text-anchor="start" font-weight="normal" fill="#333" stroke="#333" stroke-width="0.22" font-family="Liberation Sans, sans-serif" >Section 2</text>
<clipPath id="cp02"><polygon points="544.3,30.4 556.4,29.8 567.7,28.9 580.6,27.4 594.0,26.1 609.4,26.6 623.3,25.1 635.0,24.8 648.0,24.6 654.6,23.1 660.0,21.2 662.2,21.2 675.8,21.4 682.1,23.1 690.3,25.5 701.4,26.2 714.3,26.6 733.5,26.0 740.7,25.2 746.5,24.6 752.8,24.9 759.3,25.5 764.9,27.1 770.9,30.2 770.9,182.4 544.3,182.4"/></clipPath>
<g clip-path="url(#cp02)">
<path d="M551 49l1.2 .5 1.2 4.4 1.9 7.8 .4 6.1 -.5 9.7 -1.8 5.8 -1.2 1.7 -1.2 -.3 -1.2 -3.2 -1 -8.9 .3 -12.1z" fill="#722a2a" stroke="#722a2a" stroke-width=".5"/>
<path d="M551 34.9l1.2 .2 1 1.1 1.1 12.2 2.7 10 1.2 1.4 2.5 -2.3 1.4 4.2 -.5 7.3 -3.4 3.1 -.7 5.4 -2.9 10.9 -1.2 1.8 -1.2 .7 -1.2 -.2 -1.2 -1.1 -1.2 -2.4 -1.4 -13.4 .3 -12.1 1.4 -13.3 .2 -10.9 .7 -2zM550.9 49.6l-1.8 10.9 -.2 13.3 .9 7.7 1.2 3.2 1.2 .3 1.2 -1.7 2.1 -7 .2 -9.7 -.4 -4.9 -3.1 -12.2 -1.2 -.5z" fill="#8c2020" stroke="#8c2020" stroke-width=".5"/>
<path d="M549.8 33.5l2.4 -.3 2.3 1.8 .5 1.2 .8 8.8 1.2 4.8 1.2 1.3 2.5 -3.4 1.2 2 2.2 12 -.6 7.3 -2.5 4.8 -4 15.8 -2.4 3.3 -2.4 1.8 -1.2 -.1 -1.2 -.9 -3.2 -6.5 -1 -10.9 .2 -12.2 1.5 -15 .5 -12.9 .7 -1.6zM550.6 35l-1.3 1.2 -.2 1.3 -.2 10.9 -1.5 14.5 -.2 12.1 1.4 12.2 1.2 2.4 1.2 1.1 1.2 .2 1.2 -.7 1.2 -1.8 2.9 -10.9 .7 -5.4 3.4 -3.1 .5 -7.3 -1.4 -4.2 -2.5 2.3 -1.2 -1.4 -2.7 -10 -1.1 -12.2 -1 -1.1zM661.3 43.2l1.2 -.6 1.2 .2 1.2 1.5 1.3 6.5 -1.3 .9 -4.9 -.5 -1.6 -1.6 1.6 -4.6z" fill="#a80808" stroke="#a80808" stroke-width=".5"/>
<path d="M661.3 17.6l4.8 -.3 3.6 1.5 2.8 2.9 1 2.4 .3 2.4 -1.1 25.5 -1.7 3.1 -3.7 4.5 -2.4 1.8 -2.4 .6 -3.7 -.5 -3 -2.2 -2.5 -4.9 -1.4 -6 3.4 -24.3 2.3 -4.1zM661.1 43.5l-2.7 6.1 1.6 1.6 4.9 .5 1.3 -.9 -1.3 -6.5 -1.2 -1.5 -1.2 -.2zM552.2 19.8l2.4 -.5 2.5 1.2 1.2 2.4 -.2 8.5 1.1 1.2 2.7 .9 1 1.5 .8 13.4 2.9 14.5 -1.3 7.3 -6.1 20.6 -4.6 5.6 -2.4 1.1 -2.4 -.5 -1.6 -1.3 -3.5 -8.5 -.9 -14.6 .4 -12.1 1.5 -10.9 .5 -13.4 1.1 -3.3 2.6 -3.9 .5 -7.3zM549.4 33.8l-1.6 2.4 -.5 12.9 -1.5 15 -.2 12.2 1 10.9 3.2 6.5 1.2 .9 1.2 .1 2.4 -1.8 2.4 -3.3 4 -15.8 2.5 -4.8 .6 -7.3 -2.2 -12 -1.2 -2 -2.5 3.4 -1.2 -1.3 -1.2 -4.8 -.8 -8.8 -.5 -1.2 -2.3 -1.8z" fill="#d40808" stroke="#d40808" stroke-width=".5"/>
<path d="M663.7 13.2l4.8 .6 3.7 1.8 2.6 2.5 2.2 4 .8 4.4 -1.6 25.5 -.4 1.8 -4.8 9.1 -6.7 8.5 -1.9 1.2 -4.8 .5 -2.4 -.6 -1.8 -2.3 -.2 -2.4 -2.8 -8.5 -2.1 -10.9 3.7 -26.7 2 -3.5 2.4 -2.4 3.6 -1.9zM660.3 18.1l-3.1 2.4 -1.9 3.6 -3.4 25.5 2.1 6.5 2.4 3.9 2.4 1.5 3.7 .5 2.4 -.6 2.4 -1.8 3.7 -4.5 1.7 -3.1 1.1 -25.5 -.3 -2.4 -1 -2.4 -2.8 -2.9 -2.4 -1.2 -2.4 -.5zM551 14.4l3.6 -.5 3.6 .9 2.9 2 2 3.2 .6 2.9 .1 7.3 .9 4.8 .6 10.9 4.1 17 -1.7 8.5 -5.5 19.4 -6.4 7.3 -3.6 1.5 -2.4 -.5 -1.8 -1 -2.6 -3.7 -2.7 -8.4 -.8 -12.2 .2 -13.3 1.7 -14.6 .9 -24.2 .8 -2.4 1.6 -2.5zM551.2 20.5l-1.2 2.4 -.1 6.1 -2.6 3.9 -1.1 3.3 -.5 13.4 -1.5 10.9 -.4 13.3 .9 13.4 3.5 8.5 1.6 1.3 2.4 .5 2.4 -1.1 4.6 -5.6 6.1 -20.6 1.3 -7.3 -2.9 -14.5 -.8 -13.4 -1 -1.5 -2.7 -.9 -1.1 -1.2 .2 -8.5 -1.2 -2.4 -2.5 -1.2 -1.2 .1z" fill="#ff0a0a" stroke="#ff0a0a" stroke-width=".5"/>
<path d="M660 10.5l6.1 -.5 4.9 1.3 4.8 3.2 3.6 5.1 1.2 3.3 .4 3.6 -1.7 26.7 -4.7 10.9 -5.8 9.7 -1.8 1.2 -3.3 .9 -8.5 .5 -4.5 -1.4 -1.8 -2.4 -3.6 -24.2 2.8 -24.3 .9 -3.6 2 -3.7 2.1 -2.4 3.3 -2.4zM663.3 13.2l-3.3 .7 -3.6 1.9 -2.4 2.4 -2 3.5 -3.7 26.7 2.1 10.9 2.8 8.5 .2 2.4 1.8 2.3 2.4 .6 4.8 -.5 1.9 -1.2 6.7 -8.5 4.8 -9.1 .4 -1.8 1.6 -25.5 -.8 -4.4 -2.2 -4 -2.6 -2.5 -4.9 -2.1zM549.8 11.8l4.8 -.8 4.3 1 3.8 2.4 2.8 4.1 1.1 4.4 .9 21.8 4.7 18.2 -1.4 8.5 -6.1 20.6 -7.7 8 -2.4 1.5 -3.6 .9 -2.5 -1.1 -3.6 -3.6 -1.5 -3.3 -2.1 -7.3 .5 -65.4 1.1 -3.6 1.6 -2.5 2.6 -2.4zM550.8 14.4l-3.7 2.4 -1.6 2.5 -.8 2.4 -.9 24.2 -1.7 14.6 -.2 13.3 .8 12.2 2.7 8.4 2.6 3.7 1.8 1 2.4 .5 3.6 -1.5 6.4 -7.3 5.5 -19.4 1.7 -8.5 -4.1 -17 -.6 -10.9 -.9 -4.8 -.1 -7.3 -.6 -2.9 -2 -3.2 -2.9 -2 -3.6 -.9zM606.7 112.7l1.2 .1 .5 1 .8 2.5 .2 3.6 -.6 4.9 -.9 1.9 -1.2 .1 -1.2 -3 -.4 -3.9 .4 -4.2z" fill="#ff4a0a" stroke="#ff4a0a" stroke-width=".5"/>
<path d="M549.8 9.2l4.8 -.6 4.9 1 4.8 3 3.2 4.2 1.4 4.9 1.2 23 5.7 19.4 -.1 6.1 -1 6.1 -5.2 16.9 -10.7 9.7 -1.9 2.5 -2.3 1.5 -2.4 .6 -2.4 -.2 -2.5 -1.1 -2.9 -3.3 -3.1 -8.4 0 -7.4 2.6 8.6 1.3 2.4 2.1 2.2 2.5 1.7 2.4 .4 4.8 -2.4 7.7 -8 6.1 -20.6 1.4 -8.5 -4.9 -19.4 -1.1 -23 -1.9 -4.2 -3.6 -3.4 -4.9 -1.8 -4.8 .3 -3.9 1.8 -3.5 3.6 -1.2 2.5 -.7 3.6 -.4 22.3 0 -29.3 3.6 -4.2zM655.2 9.1l1.6 -.7 15.3 0 1.3 .5 3.6 2.4 3 3.1 2.2 3.7 1.6 4.8 .3 4.9 -1.9 26.6 -3.7 10.9 -4.9 8.5 -2.3 2.5 -3.5 1.2 -11.4 .9 -6 -.2 -2 -.7 -1.5 -1.2 -2 -4.9 -.1 -4.8 -2.4 -19.4 2.7 -24.3 1.5 -4.8 2.3 -3.7 2.7 -2.8zM659.3 10.8l-2.9 1.2 -3.3 2.4 -2.1 2.4 -2 3.7 -.9 3.6 -2.8 24.3 3.6 24.2 1.8 2.4 4.5 1.4 7.3 -.3 4.8 -1.2 2.4 -2.3 4.9 -8.5 4.7 -10.9 1.6 -25.4 -.1 -3.7 -1.4 -4.5 -2.4 -3.8 -2.4 -2.4 -3.6 -2.1 -3.7 -1.1 -3.6 -.2zM600.7 101.4l7.2 3.7 1.8 2.7 1.5 4.8 2.4 12.2 5.2 19 2.5 15.1 .5 8.3 -.7 9.7 -2.6 8.5 -18.8 0 -1.4 -4.9 -2.9 -36.3 -.3 -19.4 .6 -9.7 1.1 -7.3 1.4 -4.3 1.3 -1.7zM606.1 113.8l-.9 3.7 .1 4.8 1.4 4.5 1.2 -.1 1.4 -4.4 -.1 -6 -1.3 -3.5 -1.2 -.1z" fill="#ff7800" stroke="#ff7800" stroke-width=".5"/>
<path d="M543.7 9.3l1.5 -.9 17.9 0 4.8 4.2 2 3 1.3 3.7 1.5 24.2 1.3 5.2 2.4 5.7 9.7 13.7 10.9 18.7 2.1 1.6 5.2 1.5 3.6 2 2.2 2.5 1.8 3.7 4.5 12.3 8.5 36 4.3 12.3 1.2 4.9 .2 4.8 -.8 5.7 -5 11.3 -6.3 0 1.8 -4.9 1.2 -7.2 .3 -7.3 -.6 -7.3 -3.6 -20.4 -4.3 -14.8 -2.4 -12.1 -1.2 -3.6 -1.8 -2.7 -7.2 -3.7 -1.2 .4 -2 3.6 -1.2 4.8 -1.2 12.1 .1 17 2.3 35.2 .8 6 1.4 4.9 -5.4 0 -2.5 -8.5 -1.8 -10.9 -3.5 -40 -1.6 -1.1 -1.3 1.1 -1.7 19.4 -1.8 8.5 -2.5 4.2 -2.4 .8 -2.4 -1.6 -2.4 -3.5 -17.9 -38.7 -2 -2.5 -6.6 -4.8 -2.6 -3.7 0 -9.6 3.8 9.6 3.4 2.8 3.7 .6 2.4 -.6 2.3 -1.5 1.9 -2.5 10.7 -9.7 5.2 -16.9 1.1 -8.5 -.1 -4.9 -4.1 -11.9 -1.5 -6.3 -1.2 -23 -1.4 -4.9 -2.6 -3.6 -2.9 -2.4 -3.8 -1.7 -3.6 -.5 -3.6 .3 -3.7 1.3 -3.6 2.6 -2.4 3.1 0 -4.4zM649.1 8.9l.6 -.5 7.1 0 -4 2.2 -2.4 2.1 -2.4 2.9 -1.9 3.7 -1.2 4.8 -2.5 23.1 2.7 25.4 1.8 3.7 1.5 1.2 2 .7 6 .2 11.4 -.9 3.5 -1.2 2.3 -2.5 4.9 -8.5 3.7 -10.9 1.9 -27.9 -.9 -6 -2.3 -4.9 -3.9 -4.3 -4.9 -2.9 7 0 4.5 4.8 2.6 4.9 1.3 4.8 .2 4.9 -1.6 26.6 -1.6 10.9 -.7 2.5 -1.5 2.4 -5 6.1 -3.5 2.4 -4.1 .6 -21.8 1 -1.9 -.4 -1.7 -1.1 -2.2 -3.8 -.9 -3.6 0 -6.1 -2.4 -18.1 2.4 -23.1 1 -4.8 1.6 -3.7 2.3 -3.6zM697.6 90.8l3.7 -.5 4.1 1.7 2.9 2.4 1.7 3.7 -.3 4.1 -2.2 6.8 2.8 6.1 .7 47.2 -1 3.7 -2.7 1.8 -2.4 -.1 -1.2 -.7 -1.2 -1.2 -.9 -2.2 -.3 -46.1 -1 -4.9 -2.7 -3.3 -2.4 -4.4 -1.2 -5.6 .7 -4.9 1.4 -2.4z" fill="#ffa000" stroke="#ffa000" stroke-width=".5"/>
<path d="M542.5 8.4l2.7 0 -3.9 3.1 0 -3.1zM563.1 8.4l6.3 0 4.3 6 1.7 6.1 1 18.2 1.2 6.1 2.5 4.3 6 6.8 5.3 11.9 2.7 4.8 4.1 5 4.9 4.4 2.4 1.6 7.3 3.1 3.6 2.4 2.4 2.7 1.5 2.6 1.1 3.7 2.3 18.5 2.4 10.1 9.7 23.1 2.4 8.7 .6 7.5 -.4 8.5 -1.4 6.8 -1.7 4.1 -10.5 0 5 -11.3 .8 -5.7 -.2 -4.8 -1.2 -4.9 -4.3 -12.3 -7.3 -31.6 -4.6 -14.3 -2.9 -6.1 -2 -2.4 -3.8 -2.1 -5.2 -1.5 -2.1 -1.6 -10.9 -18.7 -9.7 -13.7 -2.4 -5.7 -1.3 -5.2 -1.1 -21.8 -.7 -3.6 -3 -5.5zM641.9 8.4l7.8 0 -4.5 4.8 -3.3 7.3 -3.1 26.7 2.4 18.1 -.1 4.9 .6 3.6 2.5 4.9 1.8 1.2 1.9 .4 21.8 -1 4.1 -.6 3.5 -2.4 5.9 -7.3 1.3 -3.7 1.6 -10.9 1.6 -29.1 -.7 -4.8 -1.9 -4.9 -2.4 -3.6 -3.6 -3.6 8 0 3.7 6 1.8 4.9 .8 6 -1.6 23.1 .3 10.9 1.7 8.5 3.1 10.9 1.7 3.6 2.5 2.4 13.3 8.5 1.9 2.5 1 3.6 1.2 38.8 2.3 47.3 -30.2 0 -.8 -70.3 -2.2 -23.1 -.5 -2.4 -1.6 -2.7 -2.2 -2.2 -2.4 -1.2 -11.2 -2.2 -12.1 .1 -14.5 2.1 -2.8 -1.2 -2.4 -3.6 -1.9 -6.1 -.1 -8.5 -2.5 -18.2 2.9 -26.6 2.3 -6.1zM697.6 90.8l-1.5 1.2 -1.4 2.4 -.7 4.9 1.2 5.6 2.4 4.4 2.7 3.3 1 4.9 .3 46.1 .9 2.2 1.2 1.2 1.2 .7 2.4 .1 2.7 -1.8 1 -3.7 -.7 -47.2 -2.8 -6.1 2.2 -6.8 .3 -4.1 -1.7 -3.7 -2.9 -2.4 -4.1 -1.7zM541.3 104.1l2.6 3.7 6.6 4.8 2 2.5 17.9 38.7 2.4 3.5 2.4 1.6 2.4 -.8 2.5 -4.2 1.8 -8.5 1.7 -19.4 1.3 -1.1 1.6 1.1 3.5 40 1.8 10.9 2.5 8.5 -8.2 0 -4.8 -4.9 -9.7 -5.2 -3.7 -4.3 -4.5 -8.7 -22.1 -48.5z" fill="#ffc800" stroke="#ffc800" stroke-width=".5"/>
<path d="M570.4 8.4l71.4 0 -3.8 6 -2 6.1 -2.6 25.4 2.5 18.2 -.1 6.1 .7 4.8 2.7 6.1 2.7 2.2 2.4 .1 14.5 -2.1 12.2 .1 10.9 2.5 2.8 2.1 2 2.8 .9 3.2 2.2 24.3 .8 69.1 -10.5 0 -.1 -81.3 -.7 -12.1 -1.5 -3.6 -3.2 -3.4 -3.6 -1.6 -6.1 -.7 -9.7 .6 -6.3 1.4 -4.1 2.5 -2 2.4 -.9 2.4 -.7 10.9 .2 34 1.1 29.1 -.6 19.4 -6.6 0 1.7 -4.1 1.4 -6.8 .4 -8.5 -.6 -7.5 -2.4 -8.7 -9.7 -23.1 -2.5 -10.4 -2.8 -20.6 -1.8 -3.7 -2.6 -2.9 -3.6 -2.4 -8.5 -3.8 -7.3 -6.6 -5 -7.3 -5.9 -13.1 -7.3 -8.5 -1.2 -2.7 -1.2 -5.4 -.8 -17.6 -.6 -3.6 -2 -4.9 -3.6 -4.8zM601.8 18.1l-3.6 1.6 -3.6 2.9 -2.2 2.7 -1.9 3.7 -1.2 6 .1 8.5 .9 7.3 2.9 13.3 3.9 7.3 3.6 3.6 3.6 2.3 3.6 1.2 4.9 .2 3.6 -1.2 3.7 -2.5 3.1 -3.6 2.2 -4.8 .7 -4.9 -.5 -30.3 -1.2 -3.6 -2.2 -3.7 -2.3 -2.4 -3.5 -2.5 -3.6 -1.4 -3.7 -.7 -3.6 .1zM687.9 8.4l31.2 0 -.7 6 -1 2.4 -1.2 1.3 -6.5 3 -3.6 2.4 -2.7 3 -1.9 3.7 -1 4.8 .1 30.3 .9 12.2 1.8 4.8 2.2 2.4 3 2.2 10.1 5.1 2.1 2.4 .9 2.5 .6 4.8 2.1 51.2 2.8 32.5 -6.3 0 -3.7 -87.3 -.8 -2.4 -1.9 -2.5 -13.3 -8.5 -2.5 -2.4 -1.7 -3.6 -3.1 -10.9 -1.7 -8.5 -.3 -10.9 1.6 -20.6 -.1 -4.9 -2.5 -8.5 -3.7 -6zM541.3 113.8l22.1 48.5 4.5 8.5 3.7 4.5 9.7 5.2 4.8 4.9 -44.8 0z" fill="#ffe6a0" stroke="#ffe6a0" stroke-width=".5"/>
<path d="M719.4 8.4l13.8 0 -2 12.1 -.9 2.8 -1.2 1.1 -10.9 -1.4 -6 1 -4.3 2.5 -2.9 3.7 -1.3 4.8 .4 42.5 2 4.7 3.6 3.2 6.1 2.6 9.7 1.6 1.7 1.2 .6 1.2 3.2 37.6 4.2 24.7 3.6 13.1 3.7 8.9 3.6 5.8 3.8 3.3 -22.8 0 -2.8 -32.5 -2.1 -51.2 -.6 -4.8 -.9 -2.5 -2.1 -2.4 -8.9 -4.3 -4.8 -3.5 -2.3 -3.1 -1.1 -3.6 -1.1 -24.3 .1 -18.2 .6 -3.6 2.3 -4.9 2.7 -3 3.6 -2.4 6.5 -3 1.2 -1.3 1 -2.4zM772.8 8.4l1.2 0 0 9.4zM601.9 18l3.6 -.8 4.9 0 3.6 1 3.6 1.7 3.6 3 1.9 2.4 2.5 6.1 .5 30.3 -.7 4.9 -2.2 4.8 -3.1 3.6 -3.7 2.5 -3.6 1.2 -4.9 -.2 -3.6 -1.2 -3.6 -2.3 -3.6 -3.6 -3.9 -7.3 -2.9 -13.3 -.9 -7.3 -.1 -8.5 1.2 -6 1.9 -3.7 2.2 -2.7 3.6 -2.9zM602.3 22.9l-2.8 1.6 -2.5 2.4 -2 3.3 -.9 3.6 .1 15.8 1.5 12.1 2.3 6.1 3.9 4.2 4.8 2.4 4.9 0 3.6 -1.5 2.4 -1.9 2.4 -3.2 1.3 -3.7 -.1 -31.5 -2.4 -5.3 -2.4 -2.5 -2.4 -1.6 -6.1 -1.4zM764.3 34.4l2.4 0 1.8 1.8 1.6 3.7 .6 4.8 -.2 3.7 -1.1 4.8 -1.5 2.7 -2.4 1.6 -2.4 -1.2 -1.2 -1.9 -1.5 -7.2 .2 -4.9 .9 -3.6 1.6 -3.2zM654 83.4l10.9 -.7 7.3 1.1 2.4 1.2 2.4 2.2 2.3 4.8 .7 12.1 .1 81.3 -3.3 0 .1 -82.5 -.4 -9.7 -1.2 -3.6 -3.1 -3.3 -3.7 -1.4 -4.8 -.4 -8.5 .6 -4.8 1.3 -3.7 2.7 -1.9 4.1 -.4 9.7 .6 63.1 -.3 19.4 -2.8 0 .6 -19.4 -1.2 -31.5 .1 -40.1 .8 -3.6 2.6 -3.6 4.1 -2.5zM774 135.1l0 50.3 -18.3 0 3.1 -2.4 3.1 -4.3 4.6 -10.3 3.8 -13.6z" fill="#dcffff" stroke="#dcffff" stroke-width=".5"/>
<path d="M734 8.4l38.4 0 1.6 9.4 0 117.3 -3.7 19.7 -3.8 13.6 -4.6 10.3 -3.1 4.3 -3.1 2.4 -5.8 0 -3.8 -3.3 -4.9 -8.4 -3.6 -10.1 -3.6 -14.9 -2.4 -14.7 -1.7 -15.3 -1.5 -23 -1.2 -4.9 -1.7 -1.2 -8.5 -1.2 -6.4 -2.4 -4.4 -3.7 -1.4 -2.4 -.7 -2.4 -.4 -41.3 .8 -4.8 1.2 -2.4 2.2 -2.5 5.5 -2.9 4.8 -.6 9.7 1.6 1.7 -.5 1.6 -3.6 2 -12.1zM713 26.5l-2.4 1.3 -2.1 1.8 -1.7 3 -.5 2.4 .3 42.5 1.5 3.6 2.5 2.4 4 2 4.8 .6 2.5 -.6 3.1 -2 1.8 -2.4 .9 -2.4 -.3 -43.7 -1 -3.6 -3.3 -3.7 -4.9 -1.7zM763.6 35l-1.7 2.5 -.8 2.4 -.6 3.6 -.1 4.9 1.5 6 1.2 1.9 2.4 1.2 2.4 -1.6 1.5 -2.7 1.1 -4.8 .2 -4.9 -1 -4.8 -1.8 -3.3 -2.4 -1.3zM738.3 88.4l-1.3 2.4 .2 2.4 8.7 23.1 7.5 18.5 1.2 1.4 2.4 0 1.2 -1.5 .1 -1.5 -13.6 -43.6 -1 -1.3 -2.5 -1zM603.1 22.6l6 -.8 3.7 .9 2.4 1.2 3.9 3.9 1.4 2.4 .9 3.6 .2 27.9 -.6 3.6 -1.7 3.7 -2.1 2.4 -3.2 2.2 -3.6 1 -3.7 -.2 -2.4 -.9 -4.4 -3.3 -3.1 -4.9 -1.7 -7.2 -1.1 -12.2 .3 -13.3 1.3 -3.6 1.7 -2.5 2.7 -2.4zM604.1 26.5l-3.5 2.5 -1.6 2.4 -.8 2.4 0 17 1.1 10.9 1.3 3.6 2.5 3.1 3.6 2 3.7 .1 2.4 -.9 2.2 -1.8 1.6 -2.5 .8 -2.4 -.1 -29.1 -1.4 -3.6 -3.1 -3 -4.9 -1.4zM658.8 84.7l7.3 -.1 4.9 1.1 3.5 2.7 2 4.8 .4 9.7 -.1 82.5 -2.6 0 .4 -82.5 -.5 -8.5 -1.1 -3.6 -2 -2.4 -2.8 -1.2 -4.5 -.4 -7.4 .4 -4.7 1.2 -3 2.4 -1.4 3.6 -.5 8.5 .4 82.5 -2.4 0 -.1 -91 1 -3.6 3.2 -3.6 4 -1.7z" fill="#a0f6ff" stroke="#a0f6ff" stroke-width=".5"/>
<path d="M604.3 26.5l4.8 -.6 3.7 1.3 3.1 3 1.4 3.6 .1 29.1 -.8 2.4 -1.6 2.5 -2.2 1.8 -2.4 .9 -3.7 -.1 -3.6 -2 -2.5 -3.1 -1.3 -3.6 -1.1 -10.9 0 -17 .8 -2.4 1.6 -2.4zM713.4 26.4l4.8 -.4 4.9 1.7 3.3 3.7 1 3.6 .3 43.7 -.9 2.4 -1.8 2.4 -3.1 2 -2.5 .6 -4.8 -.6 -4 -2 -2.5 -2.4 -1.5 -3.6 -.3 -42.5 .5 -2.4 1.7 -3 2.1 -1.8zM712.8 30.2l-2.2 2.4 -.8 2.4 -.6 26.7 .6 14.6 .5 2.4 1.9 2.6 2.4 1.4 3.6 .6 3.7 -1.6 1.5 -1.8 .8 -2.4 -.4 -42.5 -1.6 -3.6 -2.8 -1.9 -3.6 -.4zM656.4 87.2l8.5 -.4 3.6 .5 3.7 2.3 1.7 3.6 .7 9.7 -.4 82.5 -3.1 0 0 -55.8 .9 -25.5 -.3 -6 -.7 -4.1 -1.3 -2.1 -2.4 -1.5 -3.6 -.4 -7.3 .5 -3.6 1 -1.8 1.7 -1.2 3.7 -.5 6 .9 24.3 0 58.2 -3.1 0 -.4 -82.5 .4 -7.2 .8 -3.7 1.8 -2.4 3.1 -1.7zM738.8 88l1.2 -.6 2.5 .2 1.2 .8 1.2 1.8 13.4 43 -.1 1.5 -1.2 1.5 -2.4 0 -1.2 -1.4 -11.3 -28.2 -5.2 -14.6 .5 -2.4z" fill="#40dcf8" stroke="#40dcf8" stroke-width=".5"/>
<path d="M713.4 29.9l3.6 -.9 3.6 1.1 2.5 2.5 .7 2.4 .4 42.5 -.8 2.4 -1.5 1.8 -3.7 1.6 -3.6 -.6 -2.4 -1.4 -1.9 -2.6 -.5 -2.4 -.6 -14.6 .6 -26.7 1.2 -3zM714 58.1l-1 1.2 -.3 2.4 .7 2.6 1.2 .7 1.7 -2.1 .1 -2.4 -1.3 -2.4zM655.2 90.6l8.5 -.6 3.6 .4 2.5 1.6 1.5 3.7 .7 7.2 -.9 24.3 0 58.2 -20.9 0 0 -58.2 -.9 -25.5 .5 -4.8 1.2 -3.7 1.8 -1.7zM659.8 95.7l-3.4 .7 -1.9 1.7 -1.1 2.4 -.4 3.6 2.2 16.9 4 20.7 .8 1.2 1.3 0 .8 -1.2 3.5 -18.2 2.7 -20.6 -.7 -3.6 -1.5 -2.3 -2.4 -1.1z" fill="#20b4f8" stroke="#20b4f8" stroke-width=".5"/>
<path d="M714.6 57.8l1.5 1.5 .4 2.4 -.7 2.3 -1.2 1 -1.2 -.7 -.7 -2.6 .7 -3.3zM660 95.6l3.7 .3 2.4 1.1 1.5 2.3 .7 3.6 -2.7 20.6 -3.5 18.2 -.8 1.2 -1.3 0 -.8 -1.2 -4 -20.7 -2.2 -16.9 .4 -3.6 1.1 -2.4 1.9 -1.7z" fill="#5a9cff" stroke="#5a9cff" stroke-width=".5"/>
<polygon points="539.8,94.6 547.3,96.1 556.4,106.7 559.4,121.8 559.4,186.9 539.8,186.9" fill="#ffffff"/>
</g>
<line x1="567.0" y1="29.9" x2="567.0" y2="74.9" stroke="#111" stroke-width="1.4" stroke-dasharray="1.3 1.7" fill="none"/>
<line x1="544.3" y1="74.9" x2="567.0" y2="74.9" stroke="#111" stroke-width="1.4" stroke-dasharray="1.3 1.7" fill="none"/>
<line x1="567.0" y1="105.9" x2="567.0" y2="181.6" stroke="#111" stroke-width="1.4" stroke-dasharray="1.3 1.7" fill="none"/>
<line x1="544.3" y1="105.9" x2="567.0" y2="105.9" stroke="#111" stroke-width="1.4" stroke-dasharray="1.3 1.7" fill="none"/>
<line x1="544.3" y1="181.6" x2="567.0" y2="181.6" stroke="#111" stroke-width="1.4" stroke-dasharray="1.3 1.7" fill="none"/>
<line x1="595.7" y1="27.2" x2="595.7" y2="74.9" stroke="#111" stroke-width="1.4" stroke-dasharray="1.3 1.7" fill="none"/>
<line x1="619.8" y1="26.5" x2="619.8" y2="74.9" stroke="#111" stroke-width="1.4" stroke-dasharray="1.3 1.7" fill="none"/>
<line x1="595.7" y1="74.9" x2="619.8" y2="74.9" stroke="#111" stroke-width="1.4" stroke-dasharray="1.3 1.7" fill="none"/>
<line x1="595.7" y1="105.9" x2="595.7" y2="181.6" stroke="#111" stroke-width="1.4" stroke-dasharray="1.3 1.7" fill="none"/>
<line x1="619.8" y1="105.9" x2="619.8" y2="181.6" stroke="#111" stroke-width="1.4" stroke-dasharray="1.3 1.7" fill="none"/>
<line x1="595.7" y1="105.9" x2="619.8" y2="105.9" stroke="#111" stroke-width="1.4" stroke-dasharray="1.3 1.7" fill="none"/>
<line x1="595.7" y1="181.6" x2="619.8" y2="181.6" stroke="#111" stroke-width="1.4" stroke-dasharray="1.3 1.7" fill="none"/>
<line x1="648.6" y1="25.4" x2="648.6" y2="74.9" stroke="#111" stroke-width="1.4" stroke-dasharray="1.3 1.7" fill="none"/>
<line x1="672.7" y1="22.3" x2="672.7" y2="74.9" stroke="#111" stroke-width="1.4" stroke-dasharray="1.3 1.7" fill="none"/>
<line x1="648.6" y1="74.9" x2="672.7" y2="74.9" stroke="#111" stroke-width="1.4" stroke-dasharray="1.3 1.7" fill="none"/>
<line x1="648.6" y1="105.9" x2="648.6" y2="181.6" stroke="#111" stroke-width="1.4" stroke-dasharray="1.3 1.7" fill="none"/>
<line x1="672.7" y1="105.9" x2="672.7" y2="181.6" stroke="#111" stroke-width="1.4" stroke-dasharray="1.3 1.7" fill="none"/>
<line x1="648.6" y1="105.9" x2="672.7" y2="105.9" stroke="#111" stroke-width="1.4" stroke-dasharray="1.3 1.7" fill="none"/>
<line x1="648.6" y1="181.6" x2="672.7" y2="181.6" stroke="#111" stroke-width="1.4" stroke-dasharray="1.3 1.7" fill="none"/>
<line x1="701.4" y1="27.2" x2="701.4" y2="74.9" stroke="#111" stroke-width="1.4" stroke-dasharray="1.3 1.7" fill="none"/>
<line x1="725.6" y1="27.2" x2="725.6" y2="74.9" stroke="#111" stroke-width="1.4" stroke-dasharray="1.3 1.7" fill="none"/>
<line x1="701.4" y1="74.9" x2="725.6" y2="74.9" stroke="#111" stroke-width="1.4" stroke-dasharray="1.3 1.7" fill="none"/>
<line x1="701.4" y1="105.9" x2="701.4" y2="181.6" stroke="#111" stroke-width="1.4" stroke-dasharray="1.3 1.7" fill="none"/>
<line x1="725.6" y1="105.9" x2="725.6" y2="181.6" stroke="#111" stroke-width="1.4" stroke-dasharray="1.3 1.7" fill="none"/>
<line x1="701.4" y1="105.9" x2="725.6" y2="105.9" stroke="#111" stroke-width="1.4" stroke-dasharray="1.3 1.7" fill="none"/>
<line x1="701.4" y1="181.6" x2="725.6" y2="181.6" stroke="#111" stroke-width="1.4" stroke-dasharray="1.3 1.7" fill="none"/>
<line x1="754.3" y1="26.0" x2="754.3" y2="74.9" stroke="#111" stroke-width="1.4" stroke-dasharray="1.3 1.7" fill="none"/>
<line x1="754.3" y1="74.9" x2="770.9" y2="74.9" stroke="#111" stroke-width="1.4" stroke-dasharray="1.3 1.7" fill="none"/>
<line x1="754.3" y1="105.9" x2="754.3" y2="181.6" stroke="#111" stroke-width="1.4" stroke-dasharray="1.3 1.7" fill="none"/>
<line x1="754.3" y1="105.9" x2="770.9" y2="105.9" stroke="#111" stroke-width="1.4" stroke-dasharray="1.3 1.7" fill="none"/>
<line x1="754.3" y1="181.6" x2="770.9" y2="181.6" stroke="#111" stroke-width="1.4" stroke-dasharray="1.3 1.7" fill="none"/>
<polyline points="544.3,30.4 556.4,29.8 567.7,28.9 580.6,27.4 594.0,26.1 609.4,26.6 623.3,25.1 635.0,24.8 648.0,24.6 654.6,23.1 660.0,21.2 662.2,21.2 675.8,21.4 682.1,23.1 690.3,25.5 701.4,26.2 714.3,26.6 733.5,26.0 740.7,25.2 746.5,24.6 752.8,24.9 759.3,25.5 764.9,27.1 770.9,30.2" fill="none" stroke="#000" stroke-width="1.7" stroke-linejoin="round"/>
<polygon points="658.6,21.8 662.0,17.1 665.4,21.8" fill="#000"/>
<polygon points="665.1,21.8 668.5,16.1 671.9,21.8" fill="#000"/>
<polygon points="672.1,21.8 675.5,15.2 678.9,21.8" fill="#000"/>
<polygon points="743.3,25.1 746.5,19.0 749.7,25.1" fill="#000"/>
<line x1="544.3" y1="0.8" x2="544.3" y2="188.4" stroke="#8a8a8a" stroke-width="1.3"/>
<line x1="770.9" y1="0.8" x2="770.9" y2="182.4" stroke="#8a8a8a" stroke-width="1.3"/>
<line x1="544.3" y1="182.4" x2="770.9" y2="182.4" stroke="#222" stroke-width="1.3"/>
<line x1="538.7" y1="31.1" x2="544.3" y2="31.1" stroke="#333" stroke-width="1.1"/>
<line x1="770.9" y1="31.1" x2="776.2" y2="31.1" stroke="#333" stroke-width="1.1"/>
<text x="537.0" y="34.9" font-size="10.50" text-anchor="end" font-weight="normal" fill="#1a1a1a" stroke="#1a1a1a" stroke-width="0.22" font-family="Liberation Sans, sans-serif" >0</text>
<line x1="538.7" y1="106.7" x2="544.3" y2="106.7" stroke="#333" stroke-width="1.1"/>
<line x1="770.9" y1="106.7" x2="776.2" y2="106.7" stroke="#333" stroke-width="1.1"/>
<text x="537.0" y="110.5" font-size="10.50" text-anchor="end" font-weight="normal" fill="#1a1a1a" stroke="#1a1a1a" stroke-width="0.22" font-family="Liberation Sans, sans-serif" >-5</text>
<line x1="538.7" y1="182.4" x2="544.3" y2="182.4" stroke="#333" stroke-width="1.1"/>
<line x1="770.9" y1="182.4" x2="776.2" y2="182.4" stroke="#333" stroke-width="1.1"/>
<text x="537.0" y="186.2" font-size="10.50" text-anchor="end" font-weight="normal" fill="#1a1a1a" stroke="#1a1a1a" stroke-width="0.22" font-family="Liberation Sans, sans-serif" >-10</text>
<line x1="544.3" y1="182.4" x2="544.3" y2="188.2" stroke="#333" stroke-width="1.1"/>
<text x="544.3" y="198.8" font-size="10.50" text-anchor="middle" font-weight="normal" fill="#1a1a1a" stroke="#1a1a1a" stroke-width="0.22" font-family="Liberation Sans, sans-serif" >0</text>
<line x1="619.8" y1="182.4" x2="619.8" y2="188.2" stroke="#333" stroke-width="1.1"/>
<text x="619.8" y="198.8" font-size="10.50" text-anchor="middle" font-weight="normal" fill="#1a1a1a" stroke="#1a1a1a" stroke-width="0.22" font-family="Liberation Sans, sans-serif" >5</text>
<line x1="695.4" y1="182.4" x2="695.4" y2="188.2" stroke="#333" stroke-width="1.1"/>
<text x="695.4" y="198.8" font-size="10.50" text-anchor="middle" font-weight="normal" fill="#1a1a1a" stroke="#1a1a1a" stroke-width="0.22" font-family="Liberation Sans, sans-serif" >10</text>
<line x1="770.9" y1="182.4" x2="770.9" y2="188.2" stroke="#333" stroke-width="1.1"/>
<text x="770.9" y="198.8" font-size="10.50" text-anchor="middle" font-weight="normal" fill="#1a1a1a" stroke="#1a1a1a" stroke-width="0.22" font-family="Liberation Sans, sans-serif" >15</text>
<text x="547.7" y="9.4" font-size="10.10" text-anchor="start" font-weight="bold" fill="#1a1a1a" font-family="Liberation Sans, sans-serif" >A3</text>
<text x="768.1" y="7.9" font-size="10.10" text-anchor="end" font-weight="bold" fill="#1a1a1a" font-family="Liberation Sans, sans-serif" >B3</text>
<text x="667.3" y="10.6" font-size="10.50" text-anchor="middle" font-weight="normal" fill="#1a1a1a" stroke="#1a1a1a" stroke-width="0.22" font-family="Liberation Sans, sans-serif" >Cer</text>
<text x="745.1" y="14.6" font-size="10.50" text-anchor="middle" font-weight="normal" fill="#1a1a1a" stroke="#1a1a1a" stroke-width="0.22" font-family="Liberation Sans, sans-serif" >Sc</text>
<rect x="548.0" y="156.8" width="61.2" height="23.0" fill="#ffffff" fill-opacity="0.6"/>
<text x="548.9" y="166.7" font-size="10.20" text-anchor="start" font-weight="normal" fill="#333" stroke="#333" stroke-width="0.22" font-family="Liberation Sans, sans-serif" >P-anomalies,</text>
<text x="548.9" y="177.9" font-size="10.20" text-anchor="start" font-weight="normal" fill="#333" stroke="#333" stroke-width="0.22" font-family="Liberation Sans, sans-serif" >Section 3</text>
<clipPath id="cp10"><polygon points="33.9,243.1 46.0,242.5 59.0,241.8 70.2,240.6 76.7,239.9 91.3,238.6 105.5,237.2 118.5,236.0 129.5,234.1 135.0,231.6 139.7,231.0 145.0,230.9 150.2,231.0 154.8,232.0 158.6,234.7 161.7,237.0 166.9,239.1 175.9,239.8 184.8,240.1 200.1,240.2 207.7,240.2 218.7,240.1 224.3,238.8 228.7,237.2 236.5,233.7 241.7,231.0 243.5,230.4 245.4,231.0 252.5,234.6 264.5,237.1 271.6,238.3 271.6,392.8 33.9,392.8"/></clipPath>
<g clip-path="url(#cp10)">
<path d="M206.7 243.6l2.4 -.6 1.2 .7 1.6 3.7 -.1 3.6 -.8 2.4 -1.9 3.1 -1.2 .8 -1.2 0 -1.2 -1.5 -1 -4.8 .6 -4.8z" fill="#722a2a" stroke="#722a2a" stroke-width=".5"/>
<path d="M206.7 237.4l3.6 -.4 2.8 1.9 2.2 4.8 .5 6.1 -1.4 7.2 -3.2 8.5 -3.3 3.7 -3.6 .7 -2.5 -1.1 -1.6 -2.1 -1.1 -3.6 0 -3.7 1 -9.6 1.2 -4.8 2.4 -4.9zM206.6 243.7l-1.8 3.7 -.3 3.6 1 4.8 1.2 1.5 1.2 0 1.2 -.8 1.9 -3.1 .8 -2.4 .1 -3.6 -1.6 -3.7 -2.4 -.7z" fill="#8c2020" stroke="#8c2020" stroke-width=".5"/>
<path d="M210.3 231.7l2.5 .7 2.2 1.7 2.6 4.5 1.4 6.4 -.5 8.4 -2.9 10.9 -2.8 6 -2.5 2.8 -2.4 1.6 -2.4 .7 -2.4 -.1 -2.5 -1 -2.4 -2.2 -2.4 -5 -.5 -6.5 1.5 -10.8 1.9 -7.3 3.1 -5.9 3.7 -3.5 2.4 -1.2zM206.2 237.7l-3.1 3.3 -1.8 4 -1.2 4.8 -1.1 10.8 .3 3.7 1.3 3.2 2.5 2 2.4 .5 3.6 -1.8 2.4 -3.4 3.3 -9 1.1 -7.2 -.9 -6.1 -2.2 -4 -1.3 -1 -2.4 -.7zM85.4 233.7l2.5 -.7 2.4 .4 2.4 1.5 1.2 1.6 3.2 15.7 -.7 3.6 -1.3 1.3 -2.4 .3 -2.7 -1.6 -7.7 -14.5 -.3 -2.4 .7 -2.4z" fill="#a80808" stroke="#a80808" stroke-width=".5"/>
<path d="M206.7 227.8l3.6 -.9 2.5 .3 2.4 1.2 3 3.3 1.8 3.5 1.2 4.4 .5 10.2 -2.5 12.1 -2 6 -2.4 4.8 -2.8 3.6 -2.9 2.3 -2.4 1 -3.6 .3 -2.5 -.7 -2.4 -1.4 -3.6 -4.5 -1.8 -5.4 -.2 -7.3 1.8 -13.2 2.6 -8.2 4.7 -7.5zM209.6 231.7l-4.1 1.4 -4.4 4.6 -2.9 6.2 -1.8 8.3 -1.1 9.7 .7 6 2.7 4.8 1.9 1.6 2.5 1 2.4 .1 2.4 -.7 2.4 -1.6 2.5 -2.8 3.2 -7.2 2.7 -10.9 .1 -8.5 -1.5 -6 -3.3 -4.5 -2.5 -1.3zM87.9 230.5l2.4 .2 2.5 1 2.3 2.1 1.5 2.7 3.9 14.5 1.2 8.4 -.5 5.8 -1.2 1.5 -1.2 .6 -2.4 -.3 -2.5 -1.6 -6.6 -7.2 -7.6 -15.7 -.1 -4.8 1.6 -3.6 3 -2.6zM84.8 234.1l-1.8 1.9 -.7 1.7 -.3 2.4 .9 2.4 7.1 13.3 2.7 1.6 2.4 -.3 1.3 -1.3 .7 -3.6 -3.2 -15.7 -1.2 -1.6 -2.4 -1.5 -2.4 -.4z" fill="#d40808" stroke="#d40808" stroke-width=".5"/>
<path d="M207.9 223l3.6 -.5 3.2 .7 2.9 1.9 2.6 3 2.3 4.7 1.2 4.9 .7 6 -.2 6.1 -.9 6 -1.9 7.3 -2.5 7.2 -2.5 5.2 -2.4 3.4 -3.7 3.2 -3.6 1.8 -3.6 .4 -3.7 -.8 -2.4 -1.5 -2.4 -2.3 -2.2 -3.4 -2.2 -7.2 -.1 -8.5 2 -14.4 3.2 -9.7 2.7 -4.8 2.7 -3.6 3.6 -3.2zM206.2 228.1l-3.1 2.2 -2.5 2.7 -4 7.1 -2.4 8.5 -1.7 13.3 .5 7.2 2.7 6 3.7 3.5 4.9 1.4 3.6 -.8 2.4 -1.4 2.5 -2.2 2.4 -3.5 2.4 -5.4 2.4 -7.8 1.2 -5.5 .6 -6 -1 -9.7 -1.2 -3.6 -2 -3.3 -2.4 -2.4 -2.4 -1.2 -3.7 -.2zM84.2 229.2l4.9 -.8 3.6 .9 3.4 2.4 2.3 3.6 4.2 14.5 3.4 16.9 .1 6.3 -.8 2.1 -1.7 1.7 -2.4 .1 -2.4 -1.3 -7.3 -7.6 -7.2 -9.8 -6.6 -13.2 -.8 -3.7 1.2 -6 2.5 -3.7zM87.8 230.5l-3.6 1 -3 2.6 -1.6 3.6 .1 4.8 7.6 15.7 6.6 7.2 2.5 1.6 2.4 .3 1.2 -.6 1.2 -1.5 .5 -5.8 -1.2 -8.4 -3.9 -14.5 -1.5 -2.7 -2.3 -2.1 -2.5 -1z" fill="#ff0a0a" stroke="#ff0a0a" stroke-width=".5"/>
<path d="M204.3 220.5l1.6 -.9 11.1 0 3 2.4 2.7 3.6 2.5 6.1 1.3 6 .4 7.3 -.6 7.2 -1.7 8.4 -3.1 9.7 -3.2 7.2 -3.1 4.7 -3.7 3.5 -3.6 2.3 -4.8 1 -3.7 -.5 -2.4 -1.1 -2.4 -1.7 -2.9 -3.3 -3.3 -7.3 -.9 -4.8 -.1 -4.8 1.7 -16.9 2.9 -10.9 5 -9.8 3.6 -4.4zM207.4 223.2l-3.1 1.7 -3.7 3.2 -2.6 3.6 -2.7 4.8 -3.5 10.9 -1.8 14.5 .4 8.4 2.7 7.2 4.4 4.9 3.1 1.5 2.5 .4 3.6 -.4 3.6 -1.8 3.7 -3.2 2.4 -3.4 2.5 -5.2 2.9 -8.4 1.7 -7.3 .8 -6 0 -6.1 -.8 -6 -1.5 -4.8 -2 -3.8 -2.4 -2.8 -3.6 -2.1 -3.7 -.5zM85.4 226.7l4.9 -.2 4.4 1.6 4 3.6 1.8 3.6 6.8 24 2.7 13.4 .5 6 -.3 3.7 -.6 2.4 -2.3 1.8 -1.2 -.1 -3.7 -2 -7.3 -7.3 -12.8 -17.8 -2.9 -6 -4.6 -7.2 -.6 -2.5 .3 -2.4 1 -4.8 1.6 -3.6 3.5 -4zM84 229.3l-3.5 2.4 -2.4 3.6 -1.2 6 .8 3.7 6.6 13.2 7.2 9.8 7.3 7.6 2.4 1.3 2.4 -.1 1.7 -1.7 .8 -2.1 -.1 -6.3 -3.4 -16.9 -4.2 -14.5 -2.3 -3.6 -3.4 -2.4 -4.8 -.9z" fill="#ff4a0a" stroke="#ff4a0a" stroke-width=".5"/>
<path d="M199.4 219.8l6.5 -.2 -4.1 2.8 -3.6 3.9 -2.8 4.2 -2.9 6 -3.2 10.9 -1.9 16.9 .3 7.2 1.5 6 2.9 5.5 3.7 3.6 3.6 1.9 3.7 .5 4.8 -1 3.6 -2.3 3.7 -3.5 3.1 -4.7 4.9 -12 2 -7.3 1.3 -7.2 .4 -7.3 -.4 -6 -1.3 -6 -1.8 -4.8 -3.3 -4.9 -3.1 -2.4 6.3 0 .8 1.2 3.6 8.5 1.7 10.8 -.2 8.5 -1.4 9.6 -3.1 10.9 -3.8 9.6 -3.3 5.6 -4.8 5.5 -4.9 3.5 -4.8 1.4 -3.7 -.2 -3.6 -1.4 -2.4 -1.6 -3 -3.1 -2.2 -3.6 -1.9 -4.8 -1.7 -9.7 1.3 -18.1 2.4 -12.1 4.4 -10.8 3.1 -5.1zM86.7 224.3l4.8 .2 4.9 2 4.1 4 2.3 4.8 7.4 26.6 4.4 20.5 -.5 12 -.8 2.8 -2.4 2.5 -1.2 .1 -1.2 -.7 -7.2 -11.9 -8.6 -8.6 -18.6 -26.4 -2.2 -4.8 -.5 -2.4 .2 -2.5 2.1 -7.2 1.6 -3.6 2.9 -3.6 2.4 -1.8zM84.8 226.9l-4.7 2.4 -3.1 3.8 -1.5 3.4 -1 4.8 -.3 2.4 .6 2.5 4.6 7.2 2.9 6 12.8 17.8 7.3 7.3 3.7 2 1.2 .1 2.3 -1.8 .6 -2.4 .3 -3.7 -.5 -6 -3.3 -15.7 -6.6 -22.9 -2.5 -3.8 -3.7 -2.7 -4.8 -1.2z" fill="#ff7800" stroke="#ff7800" stroke-width=".5"/>
<path d="M194.6 219.6l5 0 -3.8 4.6 -3.1 5.1 -4.4 10.8 -2.4 12.1 -1.3 18.1 1.3 8.4 2.9 7.3 4.6 5.5 4.8 2.7 3.6 .6 3.7 -.5 3.6 -1.6 3.7 -2.9 3.6 -3.9 3.2 -4.7 5.1 -12.1 3.8 -14.5 .9 -13.3 -.5 -6 -1.2 -6 -1.7 -4.9 -2.7 -4.8 5 0 2.1 6 1.4 7.3 .5 10.8 -1 10.9 -2 9.7 -3.9 12 -3.9 8.5 -6.3 9 -6.1 6.4 -2.4 1.3 -2.4 .6 -9.7 -.1 -2.5 -.7 -2.7 -2 -2.6 -3.7 -2.1 -4.8 -2 -7.2 -1.2 -7.3 .3 -14.4 1.2 -12.1 1.3 -7.3 4.5 -13.2 3.1 -6.1zM85.4 221.8l6.1 .1 6.1 2.3 4.3 3.9 2.8 4.8 4.2 14.5 8.6 35 1.5 25.3 -.8 4.3 -2.4 2 -3.7 -.7 -3.6 -3.7 -2.4 -4.9 -3.6 -11.5 -2.8 -4.8 -9.6 -8.4 -10.7 -14.9 -2.4 -1.7 -4.9 -.9 -1.2 -2.4 -2.4 -15.1 3.3 -12.1 1.9 -3.6 3.3 -3.7 3.6 -2.3zM85.7 224.4l-2.7 .7 -3.6 2 -4.1 4.6 -1.6 3.6 -2.1 7.2 -.2 2.5 .7 3.1 2 4.1 18.7 26.5 8.5 8.5 7.2 11.9 1.2 .7 1.2 -.1 2.4 -2.5 .8 -2.8 .5 -12 -4.7 -21.8 -7.5 -26.5 -2.4 -4.3 -3.6 -3.3 -4.9 -2zM69.7 268.8l1.2 -.3 1.2 .9 .8 2.1 -.8 3.3 -2.4 2.8 -1.2 -.8 -.9 -4.1 .6 -2.4zM146.1 307.4l4.8 0 3.1 1.5 3 3.6 1 3.7 -1 79.6 -19.9 0 -.7 -56.7 .4 -21.7 .8 -3.4 1.6 -2.7 2.9 -2.4z" fill="#ffa000" stroke="#ffa000" stroke-width=".5"/>
<path d="M77 220.4l1.5 -.8 19.6 0 5.1 3.6 3.7 4.9 1.5 3.6 1.9 7.2 9.6 42.3 .7 8.4 1.3 7.2 2.3 7 3.7 5.9 2.4 .8 9.7 -5.1 17 -5.8 3.6 1.2 3.7 4.8 1.6 4.5 .5 4.9 -3.5 80.8 -5.9 0 1.1 -78.4 -.6 -3.7 -1.2 -2.4 -1.7 -1.9 -2.5 -1.6 -2.4 -.6 -3.6 .2 -3.7 1.3 -2 1.4 -2.1 2.4 -1.1 2.5 -.5 3.6 -.3 15.7 .7 61.5 -8.3 0 -2.7 -68.8 -.6 -1.4 -1.3 -.8 -10.9 -.7 -2.4 -.9 -2.4 -1.9 -1.2 -2.1 -2.5 -8.4 -3.5 -15.2 -2.1 -4.8 -1.6 -2.3 -3.7 -2.8 -8.1 -4.5 -5.2 -6.4 -2.4 -.9 -4.9 5.2 -1.7 3.3 -1.9 9.7 -1.4 12 -2.3 3.6 .3 88.1 -33.1 0 .6 -37.4 1 -7.2 3.1 -14.5 1 -8.5 .1 -8.4 -1 -10.9 .4 -3.6 2.2 -4.8 2.4 -2.2 2.4 -1.1 3.7 -.7 3.6 .3 8.5 3 1.2 -.9 1.1 -2.1 1.4 -6 1 -8.4 -2 -9.7 1.1 -13.3 -.3 -14.4 .4 -3.7 1.7 -7.2 2.6 -6 3.9 -4.9zM84.4 222l-5 2 -3.7 2.8 -2.8 3.7 -1.6 3.6 -2.8 10.9 2.4 15.1 1.2 2.4 4.9 .9 2.4 1.7 10.7 14.9 9.6 8.4 2.8 4.8 3.6 11.5 2.4 4.9 3.6 3.7 3.7 .7 2.4 -2 .8 -4.3 -1.5 -25.3 -8.6 -35 -4.2 -14.5 -3.5 -5.7 -4.8 -3.7 -6.1 -1.8zM69.4 269.1l-1.2 1.2 -.6 2.4 .9 4.1 1.2 .8 2.4 -2.8 .8 -3.3 -.8 -2.1 -1.2 -.9zM187.3 219.6l7 0 -6.1 10.9 -3.9 12 -2.1 14.5 -.8 18.1 1.6 9.7 2.6 8.4 2.9 5 3.6 3.1 3.7 .8 7.3 .1 3.2 -.5 2.4 -1.2 4.1 -3.9 4.8 -6 3.9 -5.8 2.4 -4.8 5.4 -15.7 1.8 -8.5 .9 -7.2 .3 -8.5 -.5 -7.2 -1.4 -7.3 -2.1 -6 5.6 0 1.6 9.7 .5 12 -1 13.3 -3.3 15.7 -4.9 14.5 -5 9.6 -6.6 10.6 -2.4 2.4 -2.5 .7 -12.1 .5 -3.6 1.2 -2.3 1.5 -1.8 2.4 -.9 2.5 -1.1 9.6 -1.2 2.5 -2.4 1.6 -2.5 -.7 -2.2 -2.2 -2.3 -3.6 -1.3 -3.6 -.2 -3.6 1.2 -16.9 -1.1 -21.8 1.6 -24.1 1.4 -10.9 3.4 -13.2z" fill="#ffc800" stroke="#ffc800" stroke-width=".5"/>
<path d="M32.1 219.6l46.4 0 -5.2 3.6 -3.9 4.9 -2.6 6 -1.7 7.2 -.4 3.7 .3 14.4 -1.1 13.3 2 9.7 -1 8.4 -1.4 6 -1.1 2.1 -1.2 .9 -8.5 -3 -3.6 -.3 -3.7 .7 -3.7 2.1 -1.9 2.4 -1.1 2.4 -.7 4.8 1 12.1 -.3 9.6 -1.2 8.5 -2.9 13.3 -1 8.4 -.4 35 -2.3 0 0 -176.2zM98.8 219.6l32.1 0 -6.2 6 -4.8 8.5 -1.5 4.8 -.9 6.1 .1 8.4 1.8 12.6 3 14 .8 9.6 1.3 4.8 2.2 3.8 2.4 2 3.6 1.2 3.7 .2 7.2 -1.4 6.1 -3.6 12.4 -11.8 5.8 -7.4 2.9 -4.7 1 -6 1.9 -32.6 -.6 -3.6 -2 -4.9 -4.8 -6 20.9 0 -4.3 9.7 -3.4 13.2 -1.4 10.9 -1.6 24.1 1.1 21.8 -1.2 16.9 .2 3.6 1.3 3.6 2.3 3.6 2.2 2.2 2.5 .7 2.4 -1.6 1.2 -2.5 1.1 -9.6 .9 -2.5 1.6 -2.2 2.5 -1.7 3.6 -1.2 12.1 -.5 2.5 -.7 3 -3.3 8.7 -14.5 3.3 -7.2 3.5 -10.9 2.4 -9.6 1.4 -8.5 .9 -9.7 0 -8.4 -.8 -8.4 -1.3 -7.3 9.2 0 -.9 26.6 -5.6 39.8 -1.2 18.1 .4 47.1 2.9 44.6 -26.1 0 -.2 -64 -.9 -6 -1.2 -2.3 -1.2 -.3 -7.3 6.8 -9.7 5.3 -2.3 3.8 -.6 6 0 50.7 -26.3 0 3.5 -80.8 -1.3 -7.3 -1.7 -3.6 -1.8 -2.4 -2.2 -1.6 -2.4 -.5 -17 5.8 -9.7 5.1 -2.4 -.8 -1.2 -1.4 -2.5 -4.5 -2.4 -7.3 -1.2 -6.9 -.7 -8.4 -11.5 -49.5 -1.5 -3.6 -2.1 -3.1 -3.6 -3.5 -3.1 -1.9zM78.2 273.9l2.4 .9 5.2 6.4 8.1 4.5 3.7 2.8 1.6 2.3 2.1 4.8 3.5 15.2 2.5 8.4 1.2 2.1 2.4 1.9 2.4 .9 10.9 .7 1.3 .8 .6 1.4 2.7 68.8 -25.8 0 .8 -66.4 -1.3 -16.9 -2.5 -13.6 -2.5 -6.9 -1.7 -2.4 -3.1 -2.3 -3.6 -1.4 -2.4 -.2 -2.5 .6 -2.9 2.1 -2.2 3.6 -.7 3.6 1.3 100.2 -13.4 0 -.3 -88.1 2.3 -3.6 1.4 -12 1.9 -9.7 1.7 -3.3z" fill="#ffe6a0" stroke="#ffe6a0" stroke-width=".5"/>
<path d="M130.3 220l.6 -.4 11.7 0 -3.8 1.7 -3.6 2.7 -2.8 2.9 -2.4 3.6 -1.9 4.8 -4.7 19.3 -.4 3.6 .6 1.2 0 7.3 1.7 13.3 .6 9.6 2.2 4.8 2.2 2 2.4 1.2 3.7 .7 3.6 -.3 3.6 -1.1 2.5 -1.5 11.3 -11.8 8.6 -10.9 1.1 -2.4 .7 -3.6 1.6 -27.8 -.2 -4.8 -1.6 -4.8 -2.3 -3.7 -3.5 -3.3 -4.9 -2.7 9.4 0 4.8 6 2 4.9 .6 3.6 -1.9 32.6 -1.5 7.2 -9.3 12.1 -11.3 10.6 -6.1 3.6 -6 1.4 -4.9 -.2 -3.6 -1.2 -2.4 -2 -2.2 -3.8 -1.3 -4.8 -.8 -9.6 -2.9 -13.3 -1.7 -10.9 -.3 -10.8 1.9 -9.7 4.4 -8.4zM244.3 219.6l30.3 0 0 176.2 -35.9 0 -2.9 -45.8 -.6 -25.4 .2 -22.9 1.2 -15.7 5.5 -38.6 1 -27.8zM85.4 285.9l2.5 -.2 3.6 1 3.6 2.4 1.7 1.7 2.3 4.8 3.1 14.5 1 7.3 .6 12 -.8 66.4 -3.9 0 1 -70 -.1 -8.8 -.8 -8.1 -1.6 -7.8 -3.1 -7.9 -1.8 -2.5 -2.4 -1.2 -2.4 -.4 -2 .5 -1.7 1.2 -1.5 2.4 -.6 2.4 1.4 100.2 -3.8 0 -1.3 -100.2 .7 -3.6 1.3 -2.4 2.2 -2.4zM209.1 323.2l1.2 .3 1.2 2.3 .9 6 .2 64 -23.4 0 0 -50.7 .6 -6 2.3 -3.8 9.7 -5.3z" fill="#dcffff" stroke="#dcffff" stroke-width=".5"/>
<path d="M140 220.7l2.6 -1.1 14.3 0 3.7 1.8 3.7 3.1 3.3 4.8 1.6 4.8 .2 4.8 -1.6 27.8 -1.1 4.8 -10.3 13.3 -9.1 9.7 -4.9 2.9 -6 .9 -3.7 -.7 -2.4 -1.2 -2.4 -2.3 -1.6 -3.3 -.8 -3.6 -.2 -7.2 -1.6 -12.1 -.1 -8.5 -.6 -1.2 1.8 -10.8 4.6 -15.7 4.5 -6.6zM145.7 222l-3.3 1.1 -3.6 2.3 -2.8 2.7 -2.4 3.6 -1.6 4.8 -4.2 21.7 -.2 1.2 .8 1.2 -.6 10.9 .7 16.9 1 2.4 1.9 2.4 2.5 1.5 2.5 .5 4.8 -.6 4.1 -2.6 8.1 -8.4 9.7 -12.1 1.6 -4.8 1.7 -29 -1.2 -6 -3.4 -5.2 -4.8 -3.5 -6.1 -1.5zM86.7 289.3l2.4 -.1 2.4 .8 1.4 .8 1.6 2.4 3.1 7.9 1.9 10.2 .6 15.7 -1 68.8 -15.6 0 -1.4 -100.2 1.2 -3.6 .9 -1.2z" fill="#a0f6ff" stroke="#a0f6ff" stroke-width=".5"/>
<path d="M146.1 221.9l6 -.3 5.2 1.6 4.9 3.7 3 4.8 1.2 6 -1.7 29 -1.6 4.8 -9.7 12.1 -8.1 8.4 -4.1 2.6 -4.8 .6 -2.5 -.5 -2.5 -1.5 -1.9 -2.4 -1 -2.4 -.7 -16.9 .6 -10.9 -.8 -1.2 .2 -1.2 4.2 -21.7 1.6 -4.8 2.4 -3.6 2.8 -2.7 3.6 -2.3zM147.8 224.4l-2.9 .8 -3.3 1.7 -2.8 2.4 -1.8 2.4 -1.8 4.8 -2.7 15.7 -1.3 8.4 .8 1.3 -.9 10.8 .7 13.3 1.4 3.6 3.2 1.6 3.6 -.6 8.5 -6.3 12.2 -14 1.2 -3.6 1.7 -29 -.6 -3.7 -2.4 -4.7 -3.6 -3.1 -4.9 -1.7z" fill="#40dcf8" stroke="#40dcf8" stroke-width=".5"/>
<path d="M148.5 224.3l4.8 .4 4.7 2.2 3.4 3.6 1.7 3.6 .5 3.6 -1.7 29 -1.2 3.6 -12.2 14 -8.5 6.3 -3.6 .6 -3.2 -1.6 -1.2 -2.4 -.9 -12.1 .9 -13.2 -.8 -1.3 4 -24.1 1.8 -4.8 3 -3.6 3.6 -2.4zM145.5 228.1l-4.3 2.9 -2.5 4.3 -3.9 24.1 -.2 1.2 .7 1.3 -.6 8.4 .4 7.2 1.3 3.6 2.4 1.5 4.8 -1 4.9 -2.8 9.6 -9.7 1 -3.6 1.5 -27.8 -.6 -3.6 -2.3 -3.6 -3.5 -2.4 -4.5 -.9z" fill="#20b4f8" stroke="#20b4f8" stroke-width=".5"/>
<path d="M146.1 227.8l4.8 -.6 3.7 1 3.1 2.3 2.3 3.6 .6 3.6 -1.6 29 -.9 2.4 -9.6 9.7 -4.9 2.8 -4.8 1 -2.4 -1.5 -1.3 -3.6 -.4 -6 .6 -9.6 -.7 -1.3 .3 -2.4 3.8 -22.9 1.1 -2.4 2 -2.4zM146.9 231.7l-3.2 2.4 -1.2 2.4 -4.2 25.4 .8 1.2 .7 7.2 1.4 2 1.2 .4 4.9 -.9 3.6 -1.6 3.7 -2.8 .7 -1.9 1.1 -29 -1 -2.4 -2.9 -2.4 -2.8 -.6z" fill="#5a9cff" stroke="#5a9cff" stroke-width=".5"/>
<path d="M147.3 231.5l3.6 -.3 2.4 .9 2.1 2 1 2.4 -1.1 29 -.7 1.9 -3.7 2.8 -3.6 1.6 -4.9 .9 -1.2 -.4 -1.4 -2 -1.4 -9.7 4.1 -24.1 2.3 -3.6z" fill="#7a8ef0" stroke="#7a8ef0" stroke-width=".5"/>
</g>
<line x1="56.6" y1="243.0" x2="56.6" y2="285.9" stroke="#111" stroke-width="1.4" stroke-dasharray="1.3 1.7" fill="none"/>
<line x1="33.9" y1="285.9" x2="56.6" y2="285.9" stroke="#111" stroke-width="1.4" stroke-dasharray="1.3 1.7" fill="none"/>
<line x1="56.6" y1="316.7" x2="56.6" y2="392.0" stroke="#111" stroke-width="1.4" stroke-dasharray="1.3 1.7" fill="none"/>
<line x1="33.9" y1="316.7" x2="56.6" y2="316.7" stroke="#111" stroke-width="1.4" stroke-dasharray="1.3 1.7" fill="none"/>
<line x1="33.9" y1="392.0" x2="56.6" y2="392.0" stroke="#111" stroke-width="1.4" stroke-dasharray="1.3 1.7" fill="none"/>
<line x1="85.3" y1="240.2" x2="85.3" y2="285.9" stroke="#111" stroke-width="1.4" stroke-dasharray="1.3 1.7" fill="none"/>
<line x1="109.4" y1="237.8" x2="109.4" y2="285.9" stroke="#111" stroke-width="1.4" stroke-dasharray="1.3 1.7" fill="none"/>
<line x1="85.3" y1="285.9" x2="109.4" y2="285.9" stroke="#111" stroke-width="1.4" stroke-dasharray="1.3 1.7" fill="none"/>
<line x1="85.3" y1="316.7" x2="85.3" y2="392.0" stroke="#111" stroke-width="1.4" stroke-dasharray="1.3 1.7" fill="none"/>
<line x1="109.4" y1="316.7" x2="109.4" y2="392.0" stroke="#111" stroke-width="1.4" stroke-dasharray="1.3 1.7" fill="none"/>
<line x1="85.3" y1="316.7" x2="109.4" y2="316.7" stroke="#111" stroke-width="1.4" stroke-dasharray="1.3 1.7" fill="none"/>
<line x1="85.3" y1="392.0" x2="109.4" y2="392.0" stroke="#111" stroke-width="1.4" stroke-dasharray="1.3 1.7" fill="none"/>
<line x1="138.2" y1="232.2" x2="138.2" y2="285.9" stroke="#111" stroke-width="1.4" stroke-dasharray="1.3 1.7" fill="none"/>
<line x1="162.3" y1="238.2" x2="162.3" y2="285.9" stroke="#111" stroke-width="1.4" stroke-dasharray="1.3 1.7" fill="none"/>
<line x1="138.2" y1="285.9" x2="162.3" y2="285.9" stroke="#111" stroke-width="1.4" stroke-dasharray="1.3 1.7" fill="none"/>
<line x1="138.2" y1="316.7" x2="138.2" y2="392.0" stroke="#111" stroke-width="1.4" stroke-dasharray="1.3 1.7" fill="none"/>
<line x1="162.3" y1="316.7" x2="162.3" y2="392.0" stroke="#111" stroke-width="1.4" stroke-dasharray="1.3 1.7" fill="none"/>
<line x1="138.2" y1="316.7" x2="162.3" y2="316.7" stroke="#111" stroke-width="1.4" stroke-dasharray="1.3 1.7" fill="none"/>
<line x1="138.2" y1="392.0" x2="162.3" y2="392.0" stroke="#111" stroke-width="1.4" stroke-dasharray="1.3 1.7" fill="none"/>
<line x1="191.0" y1="241.1" x2="191.0" y2="285.9" stroke="#111" stroke-width="1.4" stroke-dasharray="1.3 1.7" fill="none"/>
<line x1="215.2" y1="241.1" x2="215.2" y2="285.9" stroke="#111" stroke-width="1.4" stroke-dasharray="1.3 1.7" fill="none"/>
<line x1="191.0" y1="285.9" x2="215.2" y2="285.9" stroke="#111" stroke-width="1.4" stroke-dasharray="1.3 1.7" fill="none"/>
<line x1="191.0" y1="316.7" x2="191.0" y2="392.0" stroke="#111" stroke-width="1.4" stroke-dasharray="1.3 1.7" fill="none"/>
<line x1="215.2" y1="316.7" x2="215.2" y2="392.0" stroke="#111" stroke-width="1.4" stroke-dasharray="1.3 1.7" fill="none"/>
<line x1="191.0" y1="316.7" x2="215.2" y2="316.7" stroke="#111" stroke-width="1.4" stroke-dasharray="1.3 1.7" fill="none"/>
<line x1="191.0" y1="392.0" x2="215.2" y2="392.0" stroke="#111" stroke-width="1.4" stroke-dasharray="1.3 1.7" fill="none"/>
<line x1="243.9" y1="231.5" x2="243.9" y2="285.9" stroke="#111" stroke-width="1.4" stroke-dasharray="1.3 1.7" fill="none"/>
<line x1="268.9" y1="238.8" x2="268.9" y2="285.9" stroke="#111" stroke-width="1.4" stroke-dasharray="1.3 1.7" fill="none"/>
<line x1="243.9" y1="285.9" x2="268.9" y2="285.9" stroke="#111" stroke-width="1.4" stroke-dasharray="1.3 1.7" fill="none"/>
<line x1="243.9" y1="316.7" x2="243.9" y2="392.0" stroke="#111" stroke-width="1.4" stroke-dasharray="1.3 1.7" fill="none"/>
<line x1="268.9" y1="316.7" x2="268.9" y2="392.0" stroke="#111" stroke-width="1.4" stroke-dasharray="1.3 1.7" fill="none"/>
<line x1="243.9" y1="316.7" x2="268.9" y2="316.7" stroke="#111" stroke-width="1.4" stroke-dasharray="1.3 1.7" fill="none"/>
<line x1="243.9" y1="392.0" x2="268.9" y2="392.0" stroke="#111" stroke-width="1.4" stroke-dasharray="1.3 1.7" fill="none"/>
<polyline points="33.9,243.1 46.0,242.5 59.0,241.8 70.2,240.6 76.7,239.9 91.3,238.6 105.5,237.2 118.5,236.0 129.5,234.1 135.0,231.6 139.7,231.0 145.0,230.9 150.2,231.0 154.8,232.0 158.6,234.7 161.7,237.0 166.9,239.1 175.9,239.8 184.8,240.1 200.1,240.2 207.7,240.2 218.7,240.1 224.3,238.8 228.7,237.2 236.5,233.7 241.7,231.0 243.5,230.4 245.4,231.0 252.5,234.6 264.5,237.1 271.6,238.3" fill="none" stroke="#000" stroke-width="1.7" stroke-linejoin="round"/>
<polygon points="137.4,231.5 140.0,226.2 142.6,231.5" fill="#000"/>
<polygon points="142.4,231.4 145.0,226.2 147.6,231.4" fill="#000"/>
<polygon points="147.6,231.5 150.2,226.2 152.8,231.5" fill="#000"/>
<polygon points="208.5,240.7 210.7,236.0 212.9,240.7" fill="#000"/>
<line x1="33.9" y1="211.7" x2="33.9" y2="398.8" stroke="#222" stroke-width="1.3"/>
<line x1="271.6" y1="211.7" x2="271.6" y2="392.8" stroke="#222" stroke-width="1.3"/>
<line x1="33.9" y1="392.8" x2="271.6" y2="392.8" stroke="#777" stroke-width="1.3"/>
<line x1="28.3" y1="242.2" x2="33.9" y2="242.2" stroke="#333" stroke-width="1.1"/>
<line x1="271.6" y1="242.2" x2="276.9" y2="242.2" stroke="#333" stroke-width="1.1"/>
<text x="26.6" y="246.0" font-size="10.50" text-anchor="end" font-weight="normal" fill="#1a1a1a" stroke="#1a1a1a" stroke-width="0.22" font-family="Liberation Sans, sans-serif" >0</text>
<line x1="28.3" y1="317.5" x2="33.9" y2="317.5" stroke="#333" stroke-width="1.1"/>
<line x1="271.6" y1="317.5" x2="276.9" y2="317.5" stroke="#333" stroke-width="1.1"/>
<text x="26.6" y="321.3" font-size="10.50" text-anchor="end" font-weight="normal" fill="#1a1a1a" stroke="#1a1a1a" stroke-width="0.22" font-family="Liberation Sans, sans-serif" >-5</text>
<line x1="28.3" y1="392.8" x2="33.9" y2="392.8" stroke="#333" stroke-width="1.1"/>
<line x1="271.6" y1="392.8" x2="276.9" y2="392.8" stroke="#333" stroke-width="1.1"/>
<text x="26.6" y="396.6" font-size="10.50" text-anchor="end" font-weight="normal" fill="#1a1a1a" stroke="#1a1a1a" stroke-width="0.22" font-family="Liberation Sans, sans-serif" >-10</text>
<line x1="33.9" y1="392.8" x2="33.9" y2="398.6" stroke="#333" stroke-width="1.1"/>
<text x="33.9" y="409.2" font-size="10.50" text-anchor="middle" font-weight="normal" fill="#1a1a1a" stroke="#1a1a1a" stroke-width="0.22" font-family="Liberation Sans, sans-serif" >0</text>
<line x1="109.4" y1="392.8" x2="109.4" y2="398.6" stroke="#333" stroke-width="1.1"/>
<text x="109.4" y="409.2" font-size="10.50" text-anchor="middle" font-weight="normal" fill="#1a1a1a" stroke="#1a1a1a" stroke-width="0.22" font-family="Liberation Sans, sans-serif" >5</text>
<line x1="185.0" y1="392.8" x2="185.0" y2="398.6" stroke="#333" stroke-width="1.1"/>
<text x="185.0" y="409.2" font-size="10.50" text-anchor="middle" font-weight="normal" fill="#1a1a1a" stroke="#1a1a1a" stroke-width="0.22" font-family="Liberation Sans, sans-serif" >10</text>
<line x1="260.5" y1="392.8" x2="260.5" y2="398.6" stroke="#333" stroke-width="1.1"/>
<text x="260.5" y="409.2" font-size="10.50" text-anchor="middle" font-weight="normal" fill="#1a1a1a" stroke="#1a1a1a" stroke-width="0.22" font-family="Liberation Sans, sans-serif" >15</text>
<text x="35.9" y="221.7" font-size="10.10" text-anchor="start" font-weight="bold" fill="#1a1a1a" font-family="Liberation Sans, sans-serif" >A1</text>
<text x="266.7" y="220.3" font-size="10.10" text-anchor="end" font-weight="bold" fill="#1a1a1a" font-family="Liberation Sans, sans-serif" >B1</text>
<text x="144.5" y="220.5" font-size="10.50" text-anchor="middle" font-weight="normal" fill="#1a1a1a" stroke="#1a1a1a" stroke-width="0.22" font-family="Liberation Sans, sans-serif" >Cer</text>
<text x="210.4" y="231.7" font-size="10.50" text-anchor="middle" font-weight="normal" fill="#1a1a1a" stroke="#1a1a1a" stroke-width="0.22" font-family="Liberation Sans, sans-serif" >Lc</text>
<rect x="37.6" y="367.2" width="61.2" height="23.0" fill="#ffffff" fill-opacity="0.6"/>
<text x="38.5" y="377.1" font-size="10.20" text-anchor="start" font-weight="normal" fill="#333" stroke="#333" stroke-width="0.22" font-family="Liberation Sans, sans-serif" >S-anomalies,</text>
<text x="38.5" y="388.3" font-size="10.20" text-anchor="start" font-weight="normal" fill="#333" stroke="#333" stroke-width="0.22" font-family="Liberation Sans, sans-serif" >Section 1</text>
<clipPath id="cp11"><polygon points="293.7,242.0 299.7,240.6 305.3,239.7 314.9,239.2 325.4,238.7 339.0,238.8 351.7,238.9 363.2,238.4 370.8,237.6 376.8,236.1 382.8,235.6 390.4,235.9 398.0,236.2 402.5,235.6 411.1,232.9 415.9,231.8 422.1,231.6 429.7,231.4 437.2,231.3 441.8,231.3 448.1,234.4 454.6,236.8 459.9,237.8 467.5,238.7 478.0,239.2 488.6,239.6 496.3,240.1 512.5,240.8 520.3,240.4 520.3,392.8 293.7,392.8"/></clipPath>
<g clip-path="url(#cp11)">
<path d="M461.6 241l2.4 0 2.4 1 1.5 1.7 .9 2.5 -.7 26.5 -1.7 3.3 -3.6 1.4 -3.3 -1.1 -1.6 -1.8 -.5 -1.8 -.4 -7.2 .1 -19.3 .8 -2.5 .9 -1.2z" fill="#d40808" stroke="#d40808" stroke-width=".5"/>
<path d="M461.6 237.6l3.6 .2 3.6 1.8 2.4 2.9 1 3.7 -.6 27.7 -.9 2.4 -1.9 2.4 -2.4 1.6 -3.6 .7 -4.9 -1.4 -3.2 -3.3 -1.1 -3.6 -.5 -7.2 .6 -19.3 .5 -2.5 2.5 -3.8 2.4 -1.6zM460.7 241.3l-2.8 2.4 -.8 2.5 .1 24.1 .2 2.4 .9 2.4 2.1 1.7 2.4 .6 3.6 -1.4 1.7 -3.3 .7 -26.5 -1.2 -2.9 -2.4 -2 -2.4 -.4zM346.4 244.9l3.7 -.9 4.8 .6 3.6 2 2.6 3.2 1.5 4.8 -.2 6 -1.9 4.9 -3.2 3.1 -3.6 .5 -3.6 -1.8 -3.7 -3.4 -3.6 -5.7 -1.4 -4.8 .3 -3.6 1.3 -2.4z" fill="#ff0a0a" stroke="#ff0a0a" stroke-width=".5"/>
<path d="M461.6 235.1l4.8 .5 4 2.1 2.9 3.6 1.3 4.9 -.7 28.9 -1.8 3.6 -2.4 2.5 -3.3 1.7 -3.6 .6 -5 -1.1 -2.3 -1.4 -2.4 -2.6 -2.1 -4.5 -1 -8.4 1.2 -19.3 .8 -3.7 1.3 -2.4 2.2 -2.4 2.4 -1.5zM460.9 237.7l-4.2 2.2 -2.5 3.8 -.5 2.5 -.5 20.5 .6 7.2 1.7 3.6 3 2.5 4.3 1 3.6 -.7 2.4 -1.6 1.9 -2.4 .9 -2.4 .6 -27.7 -1 -3.7 -2.4 -2.9 -3.6 -1.8zM339.2 237.7l16.9 -.3 15.8 .8 .6 .7 -3 25 -3.5 17.3 -.2 6 -2.4 2.6 -1.2 -.1 -1.8 -4.9 -2.3 -3.6 -15.3 -17 -14.8 -24.1 .2 -1.4zM346.3 245l-3.3 2.4 -1.3 2.4 -.3 3.6 1.4 4.8 3.6 5.7 3.7 3.4 3.6 1.8 3.6 -.5 3.2 -3.1 1.9 -4.9 .2 -6 -1.5 -4.8 -2.6 -3.2 -3.6 -2 -4.8 -.6z" fill="#ff4a0a" stroke="#ff4a0a" stroke-width=".5"/>
<path d="M462.8 232.8l4.8 .9 4.9 2.9 3.2 4.7 1.1 6.1 -.3 25.3 -.7 3.6 -1.9 3.7 -2.6 2.7 -3.7 2.1 -4.8 .9 -6.1 -1.4 -3 -1.9 -2.4 -2.4 -3.1 -6.1 -1.9 -9.6 2.2 -9.7 .6 -9.6 1.6 -4.9 2.4 -3.2 2.4 -1.9 3.6 -1.6zM460.6 235.3l-5.1 2.4 -2.2 2.4 -1.4 2.8 -.7 3.3 -1.1 20.5 .9 7.2 2.3 4.8 2.2 2.3 2.4 1.5 2.5 .7 3.6 .2 3.6 -1 2.4 -1.5 2.5 -2.7 1.4 -3.1 .7 -28.9 -1.3 -4.9 -3.3 -3.8 -4.8 -2.2zM328.2 235.3l23.1 -.5 24.5 .5 -3.8 29 -4.3 25.3 -5.5 3.3 -1.2 -.9 -4.7 -8.4 -15.9 -19.6 -15.3 -22.7 -.1 -4.8 .8 -.9zM339.1 237.7l-10.9 1 -.2 1.4 14.8 24.1 15.3 17 2.3 3.6 1.8 4.9 1.2 .1 2.4 -2.6 .2 -6 3.5 -17.3 3 -25 -.6 -.7 -15.8 -.8zM407 322l3.7 -.3 1.4 .5 .5 1.2 -1.9 1.4 -3.7 -.1 -1.2 -1.3z" fill="#ff7800" stroke="#ff7800" stroke-width=".5"/>
<path d="M457.9 231.3l3.7 -.7 3.6 .1 6.1 2.2 3.1 2.4 2 2.4 1.8 3.6 .8 3.7 -.3 27.7 -1 4.8 -2 3.7 -3.2 3.3 -3.7 2.1 -4.8 1.2 -6.1 -.6 -3.6 -1.6 -2.7 -2 -3.4 -3.6 -7.6 -10.9 -1.3 -3.6 .4 -2.4 3.7 -4 1.9 -3.3 .9 -3.6 .8 -8.5 1.7 -4.8 4.1 -4.8zM462.1 232.9l-3 .5 -3.6 1.6 -2.4 1.9 -2.4 3.3 -1.6 4.8 -.6 9.6 -2.2 9.7 1.9 9.6 3.1 6.1 2.4 2.4 3 1.9 6.1 1.4 4.8 -.9 3.7 -2.1 2.6 -2.7 1.9 -3.7 .7 -3.6 .3 -26.5 -1.1 -4.9 -3.4 -4.8 -4.7 -2.8zM323.4 233.9l6.1 -.7 18.1 -.2 29.1 .2 1.2 .4 -4 30.7 -4.5 26.5 -7.2 3.9 -1.2 -.1 -1.2 -1.4 -4.9 -8.4 -15.5 -19.3 -14.8 -21.4 -1.3 -2.8zM327.9 235.3l-2.1 .3 -.8 .9 .1 4.8 15.3 22.7 15.9 19.6 4.7 8.4 1.2 .9 5.5 -3.3 4.3 -25.3 3.8 -29 -24.5 -.5zM407 316.1l4.9 -.2 4.7 1.5 2.7 2.4 1.6 3.6 .8 8.4 .4 64 -29 0 1.7 -30.2 1.1 -33.8 1 -7.2 .6 -2.4 2.3 -2.9 3.1 -1.9zM406.6 322.2l-.8 1.2 1.2 1.3 3.7 .1 1.9 -1.4 -.5 -1.2 -1.4 -.5z" fill="#ffa000" stroke="#ffa000" stroke-width=".5"/>
<path d="M460.4 228l6 .2 6.1 2.2 4.8 4.1 3.4 5.6 1.1 6.1 -.4 22.9 -.4 6 -1.7 4.9 -3.2 4.5 -3.6 3 -4.9 2.1 -4.8 .7 -3.7 -.3 -4.8 -1.5 -10.9 -7.6 -2.4 -.3 -1.3 .5 -3.2 4.9 -8 18.1 -.9 .8 -1.2 .2 -2.4 -.6 -1.2 -1.7 -.5 -3.5 2.7 -8.5 3.8 -5.9 4.7 -4.9 1.6 -16.9 1.9 -3.7 4 -3.7 1.5 -2.3 1.1 -3.6 .9 -7.3 1.2 -3.6 2.5 -4.1 3.7 -3.4 3.6 -2zM457 231.7l-5.1 3.2 -3.2 4 -1.7 4.8 -.8 8.5 -.9 3.6 -1.9 3.3 -3.7 4 -.4 2.4 1.3 3.6 7.6 10.9 3.4 3.6 2.7 2 3.6 1.6 3.7 .6 3.6 -.1 4.8 -1.6 3.6 -2.5 2.9 -3.6 1.6 -3.7 .7 -4.8 .2 -26.5 -.8 -3.7 -1.8 -3.6 -2 -2.4 -3.1 -2.4 -3.7 -1.7 -3.6 -.6 -3.6 .2zM325.8 231.6l26.7 -.5 25.4 .2 1.5 .4 .7 1.2 -.1 1.2 -4.1 30.2 -4.4 26.5 -.8 1.7 -3.7 2.8 -4.8 1.3 -2.4 -.8 -1.3 -1.2 -6 -9.8 -13.7 -16.9 -12.5 -18.1 -4.1 -6.8 -.4 -1.7 -.1 -8.4 .5 -.7zM323.2 234.1l.1 7.2 1.3 2.8 14.8 21.4 15.5 19.3 4.9 8.4 1.2 1.4 1.2 .1 7.2 -3.9 4.5 -26.5 4 -30.7 -1.2 -.4 -31.5 -.2 -17 .3zM404.6 312.4l6.1 -.9 6 1 2.4 1.3 2.5 2.2 2.7 5 1.9 10.8 .5 64 -4.6 0 -.4 -64 -.8 -8.4 -.8 -2.4 -2.2 -2.7 -3.6 -1.9 -3.6 -.6 -4.9 .5 -3.6 1.4 -3 2.1 -2.1 3.6 -1.2 8.4 -1.1 33.8 -1.7 30.2 -5.8 0 .5 -65.2 2.8 -7.2 2.1 -3.6 5.8 -4.8z" fill="#ffc800" stroke="#ffc800" stroke-width=".5"/>
<path d="M456.7 224.4l3.7 -.8 4.8 0 7.3 1.9 3.6 2.1 3.5 2.9 4.2 6 1.7 4.8 .6 6.1 -1.1 25.3 -1.9 7.3 -2.9 4.8 -3.5 3.6 -4.2 2.8 -4.9 1.7 -4.8 .7 -4.9 -.3 -3.6 -.9 -8.5 -3.6 -2.4 .1 -1.2 .8 -1.8 2.3 -6.6 15.7 -4.5 6 -.7 4.9 1.6 13.2 .8 64 -4.3 0 -.5 -64 -1.5 -9.6 -1.3 -3.6 -2.8 -3.6 -2.7 -2 -3.6 -1.2 -3.6 -.3 -4.9 .6 -4.8 1.6 -4.3 2.5 -4 3.6 -4.2 8.4 -.8 3.6 -.4 64 -4.2 0 -1.9 -76 -6.4 -12.1 -2.6 -3.6 -4 -2.9 -8.4 -2.9 -3.6 -2.7 -6.1 -8.8 -15.3 -18.9 -6.9 -10.9 -7.1 -13.3 -.4 -1.2 -.2 -10.8 .8 -1.5 1.2 -.8 8.5 -1.2 47.2 0 2.5 .6 1.2 1 1 1.9 0 2.4 -3.9 31.4 -5.1 30.1 0 2.5 2.2 3.6 7.7 6 4.1 2.2 3.7 .5 10.9 -3.2 9.7 -1.2 2.9 -1.9 1.9 -3.4 4.4 -11.1 9 -10.9 2.7 -18.1 1.7 -3.6 4.7 -7.2 1.8 -9.7 1.9 -4.8 2.4 -3.6 2.9 -3 3.7 -2.4zM460.2 228.1l-4.7 1.3 -3.6 2 -3.7 3.4 -2.5 4.1 -1.2 3.6 -.9 7.3 -1.1 3.6 -1.5 2.3 -4 3.7 -1.9 3.7 -1.6 16.9 -4.7 4.9 -3.8 5.9 -2.7 8.5 .5 3.5 1.2 1.7 2.4 .6 1.2 -.2 .9 -.8 8 -18.1 3.2 -4.9 1.3 -.5 2.4 .3 10.9 7.6 4.8 1.5 3.7 .3 4.8 -.7 4.9 -2.1 3.6 -3 3.2 -4.5 1.7 -4.9 .4 -6 .4 -22.9 -1.1 -6.1 -3.4 -5.6 -4.8 -4.1 -6.1 -2.2zM324.9 231.7l-2.7 .5 -.5 .7 .2 9.6 5.9 9.7 11.9 16.9 12.8 15.7 6 9.8 1.3 1.2 2.4 .8 4.8 -1.3 3.7 -2.8 .8 -1.7 4.4 -26.5 4.1 -30.2 .1 -1.2 -.7 -1.2 -1.5 -.4 -26.6 -.2z" fill="#ffe6a0" stroke="#ffe6a0" stroke-width=".5"/>
<path d="M291.9 219.6l103.4 0 -5 6 -2.4 7.3 -.5 6 -.4 33.8 2.2 1.2 7.1 10.9 .6 6 1.8 3.6 3.5 3.3 4.8 1.5 3.7 -.5 2.8 -1.9 2.7 -3.6 1.7 -3.9 9.7 -10.6 .4 -1.2 2.2 -16.9 3.4 -12 .8 -12.1 -.6 -4.8 -1.7 -4.8 -2.3 -3.7 -3.5 -3.6 97.1 0 0 11.6 -6.1 -.5 -6 1.5 -6.1 4.2 -3.6 4.9 -1.7 4.9 -1.5 14.4 -2.9 12.5 -3.4 9.3 -3.9 6.3 -3.6 4 -2.6 1.7 -15.6 3.7 -7.3 2.8 -3.8 3.2 -3 4.8 -1.8 7.3 -2.9 28.9 -.3 10.9 1.2 13.3 5.2 26.5 -22.7 0 -.8 -64 -1.4 -10.8 -.1 -4.8 1.2 -3.7 3.9 -4.8 6 -14.5 1.4 -2.4 2.2 -1.9 2.4 -.1 10.9 4.3 3.7 .5 4.8 -.2 4.8 -1.2 4.9 -2.4 3.6 -3.1 3.4 -4.3 2.1 -4.9 1 -4.8 1.1 -27.7 -.9 -4.9 -1.4 -3.6 -4.1 -5.8 -3.6 -3.1 -3.6 -2.1 -4.9 -1.5 -3.6 -.5 -4.9 .3 -3.6 .9 -3.6 1.6 -4.3 3 -2.3 2.4 -2.4 3.6 -1.9 4.8 -1.8 9.7 -4.7 7.2 -1.7 3.6 -2.7 18.1 -9 10.9 -5.6 13.6 -1.2 1.4 -2.4 1.4 -9.7 1.2 -9.4 2.9 -2.7 .3 -3.7 -.9 -2.9 -1.8 -7.7 -6 -2.2 -3.6 0 -2.5 5.1 -30.1 3.9 -31.4 0 -2.4 -1 -1.9 -1.2 -1 -2.5 -.6 -32.7 -.1 -18.2 .3 -4.8 1 -1.2 .8 -1 2.7 .8 10.8 5.7 10.9 7.5 12.1 16.1 20.1 6.1 8.8 3.6 2.7 8.4 2.9 4 2.9 2.6 3.6 6.4 12.1 1.9 76 -7.3 0 -.5 -72.4 -.7 -3.6 -3.3 -7.3 -5.5 -6.2 -2.9 -2.2 -4.4 -2.2 -3.6 -1.3 -2.4 -.2 -3.3 1.3 -2.8 2.6 -2.1 3.4 -1.3 4.8 -.1 83.3 -26.6 0 9.1 -47.1 2.3 -65.1 -4.2 -12.1 -1.3 -15.7 -3.4 -12.1 -.3 -8.4 -1.5 -6 -2.1 -2.5 -3.6 -1 -4.9 .8 -3.6 2.4 -2.8 3.9 -.9 3.6 -.1 36.2 -.8 12.1 2.7 10.8 2.4 18.1 1 33.8 -1.8 48.3 -11.8 0 0 -176.2zM523.4 305.2l0 40.3 -2.4 -30.5 .6 -6.1zM523.4 363.6l0 32.2 -12.1 0 4.6 -7.2 3.3 -7.3 2.6 -8.4z" fill="#dcffff" stroke="#dcffff" stroke-width=".5"/>
<path d="M394.9 219.9l10.9 -.3 -4.8 2.1 -3.5 2.7 -2.8 3.7 -2 4.8 -.7 4.8 0 35 1.5 1.2 4.5 7.3 3.9 4.8 .1 2.4 .9 2.4 2.9 2.5 2.4 .5 3.7 -1.6 2.2 -3.8 5 -3.5 6.1 -6.1 .9 -2.5 3.2 -26.5 0 -15.7 -1.7 -4.8 -3.5 -4.9 -3.7 -2.9 -4.6 -1.9 10.5 0 5.1 6 1.7 3.7 1 3.6 .3 4.8 -.6 9.7 -3.6 13.2 -2.6 18 -9 9.8 -2.4 4.8 -2.7 3.6 -4.1 2.2 -4.8 -.2 -2.4 -1.1 -2.5 -2.1 -2.8 -4.8 -.6 -6 -7.1 -10.9 -2.2 -1.2 .8 -38.6 1.9 -7.2 2.2 -3.7zM306.4 226.6l3.7 -.8 3.6 .4 2.4 1.6 1.2 2.3 1.3 6 .2 7.6 2.4 7.3 1.2 6 1.1 14.5 3.5 9.7 .8 3.6 -1.3 25.3 -1.1 38.6 -9.1 47.1 -13.8 0 1.8 -48.3 -1.2 -37.4 -2.2 -14.5 -2.7 -10.8 .8 -12.1 0 -35 .6 -3.6 1 -2.4 2.2 -2.7zM308.6 231.7l-3 2.4 -1 2.4 -.4 35 -1.8 13.3 1.6 5.2 3.6 8.1 2.5 2.3 2.4 .3 2.4 -.8 1.9 -1.8 1 -3.7 2.5 -4.8 1.5 -6 -3.8 -14.5 -.4 -16.9 -1.8 -16.9 -.9 -1.9 -2.1 -1.7 -1.5 -.4zM513.7 231.4l4.8 -.7 4.9 .5 0 5.8 -4.9 -.8 -4.8 1 -4.4 2.9 -2.7 3.6 -1.4 4.9 -.7 12 -2.4 21.8 .5 3.6 1.4 3.9 2.4 3.3 2.4 1.8 3.7 1.3 3.6 .2 3.6 -.5 3.7 -1.4 0 10.6 -1.8 3.7 -.6 6.1 2.4 30.5 0 18.1 -1.3 8.1 -2.5 8.4 -3.5 8.1 -4.8 7.6 -34.4 0 5.9 -54.3 1.5 -8.4 3.6 -14.5 .3 -3.6 -2 -4.9 -4 -3.6 -4.9 -1.9 -6 -.1 -3.7 1.2 -3.6 2.7 -2.1 2.9 -1.2 3.7 -.7 16.8 .2 24.2 .8 24.1 1.2 15.7 -8.5 0 -5.2 -26.5 -1.2 -12.1 .5 -13.3 2.7 -27.7 1 -4.9 2.9 -6 2 -2.4 2.7 -2 7.3 -2.8 15.6 -3.7 2.6 -1.7 3.6 -4 3.9 -6.3 3.4 -9.3 2.5 -10 1.7 -15.7 1.4 -4.9 2 -3.6 3.3 -3.6 3.6 -2.5zM352.5 300.4l2.4 .2 3.6 1.3 4.4 2.2 3.1 2.4 5.9 7 3.1 7.5 .8 74.8 -32.9 0 .1 -83.3 1.3 -4.8 2.1 -3.4 2.8 -2.6zM359.9 324.6l-.9 2.4 1 32.6 1 1.7 1.2 0 1.3 -1.7 .8 -32.6 -.9 -2.5 -1.2 -.6z" fill="#a0f6ff" stroke="#a0f6ff" stroke-width=".5"/>
<path d="M403.4 220.4l2.4 -.8 10 0 4.6 1.9 3.7 2.9 2.8 3.7 1.7 3.6 1 4.8 -.3 13.3 -3.4 27.7 -5.5 6.3 -6.3 4.6 -2.2 3.8 -3.7 1.6 -2.4 -.5 -2.4 -1.8 -1.2 -2.4 -.3 -3.1 -3.9 -4.8 -4.5 -7.3 -1.5 -1.2 .4 -38.6 1.6 -4.8 2.4 -3.7 3.4 -3.1zM405.5 223.2l-3.3 1.7 -2.4 2 -2.7 3.6 -1.3 3.6 -.5 3.6 0 35 .4 1.2 7.7 9.3 3.6 2 4.9 .5 4.8 -1.8 7.1 -6.4 2.3 -25.3 .1 -15.7 -.7 -3.6 -1.5 -3.2 -2.2 -2.8 -2.7 -2.2 -3.6 -1.7 -3.6 -.7zM308.9 231.6l2.4 -.3 2.4 .9 1.6 1.9 .8 2.4 .1 6 1.4 9.7 .4 16.9 3.8 14.5 -1.5 6 -2.5 4.8 -1 3.7 -1.9 1.8 -2.4 .8 -2.4 -.3 -2.5 -2.3 -3.6 -8.1 -1.6 -5.2 1.8 -13.3 .4 -35 1.8 -3.4zM309.7 243.7l-1.9 3.7 -.1 21.7 -.5 7.2 -1.4 8.5 3.1 4.5 2.4 1 2.1 -.7 1.5 -1.4 2.2 -4.6 -2.5 -14.5 -.5 -21.7 -1.6 -3.4 -1.2 -1zM516.1 236.5l3.6 -.3 3.7 .8 0 3.8 -3.7 -1 -4.8 .7 -3 2 -2.5 3.7 -.6 2.4 -2.4 31.4 .3 3.6 .9 2.4 1.6 2.4 2.1 1.8 2.4 1.2 3.6 .6 3.6 -.5 2.5 -1.1 0 4.2 -4.9 1.6 -3.6 .3 -3.6 -.5 -2.5 -1 -3.5 -3 -2.4 -4.8 -.8 -6 3.6 -35 1.6 -3.7 2 -2.4 3.2 -2.3zM468.8 305.2l6.1 -.9 6.1 1.5 2.9 1.9 2.3 2.4 2 4.9 -.3 3.6 -3.6 14.5 -1.5 8.4 -5.9 54.3 -14.7 0 -.6 -6.1 -1.5 -39.7 .4 -33.8 .8 -3.7 1.5 -2.7 2.4 -2.5zM361 324l2.4 .5 .9 2.5 -.8 32.6 -1.3 1.7 -1.2 0 -1 -1.7 -1 -32.6 .8 -2.3z" fill="#40dcf8" stroke="#40dcf8" stroke-width=".5"/>
<path d="M405.8 223.1l3.6 -.8 3.7 .1 6 2.3 2.7 2.2 2.2 2.8 1.5 3.2 .7 3.6 -.1 15.7 -2.3 25.3 -7.1 6.4 -4.8 1.8 -4.9 -.5 -3.6 -2 -7.7 -9.3 -.4 -1.2 0 -35 .5 -3.6 1.3 -3.6 2.7 -3.6 2.4 -2zM408 225.6l-3.4 1.4 -2.9 2.3 -1.9 2.8 -1.2 3.2 -.2 38.6 5 5.2 2.4 1.8 3.6 1.1 3.7 .2 4.8 -2 3.5 -2.7 .4 -1.2 1.2 -20.5 .1 -19.3 -1.5 -4.8 -3.7 -4.1 -4.8 -2.1zM516.1 240.1l3.6 -.3 3.7 1 0 4 -2.5 -1.4 -3.6 -.2 -3.2 1.8 -1.6 2.4 -2.8 32.6 .2 2.4 1 2.4 2.8 2.7 2.4 1 2.4 .1 2.4 -.5 2.5 -1.3 0 3.6 -2.5 1.1 -3.6 .5 -3.6 -.6 -3.7 -2.1 -2.4 -3.3 -1.2 -4.8 2.6 -33.8 1 -2.4 1.9 -2.5zM310.1 243.3l1.2 -.3 1.2 1 1.6 3.4 .5 21.7 2.5 14.5 -2.2 4.6 -1.5 1.4 -2.1 .7 -2.4 -1 -3.1 -4.5 1.4 -8.5 .5 -7.2 .1 -21.7 1.1 -2.8z" fill="#20b4f8" stroke="#20b4f8" stroke-width=".5"/>
<path d="M408.2 225.6l4.9 -.1 4.8 2.1 3.7 4.1 1.5 4.8 -.1 19.3 -1.2 20.5 -.4 1.2 -3.5 2.7 -4.8 2 -3.7 -.2 -3.6 -1.1 -2.4 -1.8 -5 -5.2 .2 -38.6 1.4 -3.6 2.2 -2.9 2.7 -1.9zM408.1 229.3l-3.8 2.4 -1.6 2.4 -.7 2.4 -.1 37.4 5.1 3.7 3.7 1 3.6 0 3.1 -1.1 1.4 -1.2 .8 -16.9 0 -22.9 -1.3 -3.6 -2.8 -2.7 -3.6 -1.3zM516.1 243.6l3.6 -.5 3.7 1.7 0 30.9 -2.4 -25.9 -1.3 -1.8 -1.2 -.2 -1.2 .6 -.5 1.4 -3.3 24.1 -.3 7.3 1.7 2.8 2.4 1.1 2.4 -.1 2.4 -1.4 1.3 -2.4 0 5.6 -2.5 1.3 -2.4 .5 -3.6 -.5 -2.4 -1.5 -2.2 -3 -.6 -2.4 2.5 -32.6 1.5 -3.2z" fill="#5a9cff" stroke="#5a9cff" stroke-width=".5"/>
<path d="M408.2 229.2l3.7 -.3 3.6 1.3 2.8 2.7 1.3 3.6 0 22.9 -.8 16.9 -1.4 1.2 -3.1 1.1 -3.6 0 -3.7 -1 -5.1 -3.7 .1 -37.4 .7 -2.4 1.6 -2.4zM409.2 245l-1 1.9 -.9 4.1 -.2 7.2 1.1 6.4 1.2 2.4 1.3 .6 1.2 -.4 1.8 -4.1 .8 -4.9 0 -4.8 -.7 -4.8 -1.4 -3.6 -.5 -.8 -1.2 -.4zM517.3 248.4l1.2 -.6 1.2 .2 1.3 1.8 2.4 25.9 0 5.5 -.5 1.2 -2 2 -2.4 .8 -2.3 -.4 -1.3 -.8 -1.3 -1.6 -.5 -2.4 3.7 -30.2z" fill="#7a8ef0" stroke="#7a8ef0" stroke-width=".5"/>
<path d="M409.4 244.5l1.3 -.7 1.2 .4 1.2 1.9 1.4 7.3 0 4.8 -.8 4.9 -1.8 4.1 -1.2 .4 -1.3 -.6 -1.2 -2.4 -1.2 -7 .6 -7.8z" fill="#9080e0" stroke="#9080e0" stroke-width=".5"/>
</g>
<line x1="316.4" y1="240.1" x2="316.4" y2="285.9" stroke="#111" stroke-width="1.4" stroke-dasharray="1.3 1.7" fill="none"/>
<line x1="293.7" y1="285.9" x2="316.4" y2="285.9" stroke="#111" stroke-width="1.4" stroke-dasharray="1.3 1.7" fill="none"/>
<line x1="316.4" y1="316.7" x2="316.4" y2="392.0" stroke="#111" stroke-width="1.4" stroke-dasharray="1.3 1.7" fill="none"/>
<line x1="293.7" y1="316.7" x2="316.4" y2="316.7" stroke="#111" stroke-width="1.4" stroke-dasharray="1.3 1.7" fill="none"/>
<line x1="293.7" y1="392.0" x2="316.4" y2="392.0" stroke="#111" stroke-width="1.4" stroke-dasharray="1.3 1.7" fill="none"/>
<line x1="345.1" y1="239.8" x2="345.1" y2="285.9" stroke="#111" stroke-width="1.4" stroke-dasharray="1.3 1.7" fill="none"/>
<line x1="369.2" y1="238.8" x2="369.2" y2="285.9" stroke="#111" stroke-width="1.4" stroke-dasharray="1.3 1.7" fill="none"/>
<line x1="345.1" y1="285.9" x2="369.2" y2="285.9" stroke="#111" stroke-width="1.4" stroke-dasharray="1.3 1.7" fill="none"/>
<line x1="345.1" y1="316.7" x2="345.1" y2="392.0" stroke="#111" stroke-width="1.4" stroke-dasharray="1.3 1.7" fill="none"/>
<line x1="369.2" y1="316.7" x2="369.2" y2="392.0" stroke="#111" stroke-width="1.4" stroke-dasharray="1.3 1.7" fill="none"/>
<line x1="345.1" y1="316.7" x2="369.2" y2="316.7" stroke="#111" stroke-width="1.4" stroke-dasharray="1.3 1.7" fill="none"/>
<line x1="345.1" y1="392.0" x2="369.2" y2="392.0" stroke="#111" stroke-width="1.4" stroke-dasharray="1.3 1.7" fill="none"/>
<line x1="398.0" y1="237.2" x2="398.0" y2="285.9" stroke="#111" stroke-width="1.4" stroke-dasharray="1.3 1.7" fill="none"/>
<line x1="422.1" y1="232.6" x2="422.1" y2="285.9" stroke="#111" stroke-width="1.4" stroke-dasharray="1.3 1.7" fill="none"/>
<line x1="398.0" y1="285.9" x2="422.1" y2="285.9" stroke="#111" stroke-width="1.4" stroke-dasharray="1.3 1.7" fill="none"/>
<line x1="398.0" y1="316.7" x2="398.0" y2="392.0" stroke="#111" stroke-width="1.4" stroke-dasharray="1.3 1.7" fill="none"/>
<line x1="422.1" y1="316.7" x2="422.1" y2="392.0" stroke="#111" stroke-width="1.4" stroke-dasharray="1.3 1.7" fill="none"/>
<line x1="398.0" y1="316.7" x2="422.1" y2="316.7" stroke="#111" stroke-width="1.4" stroke-dasharray="1.3 1.7" fill="none"/>
<line x1="398.0" y1="392.0" x2="422.1" y2="392.0" stroke="#111" stroke-width="1.4" stroke-dasharray="1.3 1.7" fill="none"/>
<line x1="450.8" y1="236.4" x2="450.8" y2="285.9" stroke="#111" stroke-width="1.4" stroke-dasharray="1.3 1.7" fill="none"/>
<line x1="475.0" y1="240.1" x2="475.0" y2="285.9" stroke="#111" stroke-width="1.4" stroke-dasharray="1.3 1.7" fill="none"/>
<line x1="450.8" y1="285.9" x2="475.0" y2="285.9" stroke="#111" stroke-width="1.4" stroke-dasharray="1.3 1.7" fill="none"/>
<line x1="450.8" y1="316.7" x2="450.8" y2="392.0" stroke="#111" stroke-width="1.4" stroke-dasharray="1.3 1.7" fill="none"/>
<line x1="475.0" y1="316.7" x2="475.0" y2="392.0" stroke="#111" stroke-width="1.4" stroke-dasharray="1.3 1.7" fill="none"/>
<line x1="450.8" y1="316.7" x2="475.0" y2="316.7" stroke="#111" stroke-width="1.4" stroke-dasharray="1.3 1.7" fill="none"/>
<line x1="450.8" y1="392.0" x2="475.0" y2="392.0" stroke="#111" stroke-width="1.4" stroke-dasharray="1.3 1.7" fill="none"/>
<line x1="503.7" y1="241.4" x2="503.7" y2="285.9" stroke="#111" stroke-width="1.4" stroke-dasharray="1.3 1.7" fill="none"/>
<line x1="503.7" y1="285.9" x2="520.3" y2="285.9" stroke="#111" stroke-width="1.4" stroke-dasharray="1.3 1.7" fill="none"/>
<line x1="503.7" y1="316.7" x2="503.7" y2="392.0" stroke="#111" stroke-width="1.4" stroke-dasharray="1.3 1.7" fill="none"/>
<line x1="503.7" y1="316.7" x2="520.3" y2="316.7" stroke="#111" stroke-width="1.4" stroke-dasharray="1.3 1.7" fill="none"/>
<line x1="503.7" y1="392.0" x2="520.3" y2="392.0" stroke="#111" stroke-width="1.4" stroke-dasharray="1.3 1.7" fill="none"/>
<polyline points="293.7,242.0 299.7,240.6 305.3,239.7 314.9,239.2 325.4,238.7 339.0,238.8 351.7,238.9 363.2,238.4 370.8,237.6 376.8,236.1 382.8,235.6 390.4,235.9 398.0,236.2 402.5,235.6 411.1,232.9 415.9,231.8 422.1,231.6 429.7,231.4 437.2,231.3 441.8,231.3 448.1,234.4 454.6,236.8 459.9,237.8 467.5,238.7 478.0,239.2 488.6,239.6 496.3,240.1 512.5,240.8 520.3,240.4" fill="none" stroke="#000" stroke-width="1.7" stroke-linejoin="round"/>
<polygon points="335.3,239.3 337.5,235.0 339.7,239.3" fill="#000"/>
<polygon points="369.9,237.7 372.3,232.8 374.7,237.7" fill="#000"/>
<polygon points="418.6,232.1 421.2,226.8 423.8,232.1" fill="#000"/>
<polygon points="426.6,231.9 429.2,226.8 431.8,231.9" fill="#000"/>
<polygon points="434.0,231.8 436.6,226.8 439.2,231.8" fill="#000"/>
<polygon points="481.1,239.9 483.5,234.4 485.9,239.9" fill="#000"/>
<line x1="293.7" y1="211.7" x2="293.7" y2="398.8" stroke="#222" stroke-width="1.3"/>
<line x1="520.3" y1="211.7" x2="520.3" y2="392.8" stroke="#222" stroke-width="1.3"/>
<line x1="293.7" y1="392.8" x2="520.3" y2="392.8" stroke="#777" stroke-width="1.3"/>
<line x1="288.1" y1="242.2" x2="293.7" y2="242.2" stroke="#333" stroke-width="1.1"/>
<line x1="520.3" y1="242.2" x2="525.6" y2="242.2" stroke="#333" stroke-width="1.1"/>
<text x="286.4" y="246.0" font-size="10.50" text-anchor="end" font-weight="normal" fill="#1a1a1a" stroke="#1a1a1a" stroke-width="0.22" font-family="Liberation Sans, sans-serif" >0</text>
<line x1="288.1" y1="317.5" x2="293.7" y2="317.5" stroke="#333" stroke-width="1.1"/>
<line x1="520.3" y1="317.5" x2="525.6" y2="317.5" stroke="#333" stroke-width="1.1"/>
<text x="286.4" y="321.3" font-size="10.50" text-anchor="end" font-weight="normal" fill="#1a1a1a" stroke="#1a1a1a" stroke-width="0.22" font-family="Liberation Sans, sans-serif" >-5</text>
<line x1="288.1" y1="392.8" x2="293.7" y2="392.8" stroke="#333" stroke-width="1.1"/>
<line x1="520.3" y1="392.8" x2="525.6" y2="392.8" stroke="#333" stroke-width="1.1"/>
<text x="286.4" y="396.6" font-size="10.50" text-anchor="end" font-weight="normal" fill="#1a1a1a" stroke="#1a1a1a" stroke-width="0.22" font-family="Liberation Sans, sans-serif" >-10</text>
<line x1="293.7" y1="392.8" x2="293.7" y2="398.6" stroke="#333" stroke-width="1.1"/>
<text x="293.7" y="409.2" font-size="10.50" text-anchor="middle" font-weight="normal" fill="#1a1a1a" stroke="#1a1a1a" stroke-width="0.22" font-family="Liberation Sans, sans-serif" >0</text>
<line x1="369.2" y1="392.8" x2="369.2" y2="398.6" stroke="#333" stroke-width="1.1"/>
<text x="369.2" y="409.2" font-size="10.50" text-anchor="middle" font-weight="normal" fill="#1a1a1a" stroke="#1a1a1a" stroke-width="0.22" font-family="Liberation Sans, sans-serif" >5</text>
<line x1="444.8" y1="392.8" x2="444.8" y2="398.6" stroke="#333" stroke-width="1.1"/>
<text x="444.8" y="409.2" font-size="10.50" text-anchor="middle" font-weight="normal" fill="#1a1a1a" stroke="#1a1a1a" stroke-width="0.22" font-family="Liberation Sans, sans-serif" >10</text>
<line x1="520.3" y1="392.8" x2="520.3" y2="398.6" stroke="#333" stroke-width="1.1"/>
<text x="520.3" y="409.2" font-size="10.50" text-anchor="middle" font-weight="normal" fill="#1a1a1a" stroke="#1a1a1a" stroke-width="0.22" font-family="Liberation Sans, sans-serif" >15</text>
<text x="298.6" y="222.1" font-size="10.10" text-anchor="start" font-weight="bold" fill="#1a1a1a" font-family="Liberation Sans, sans-serif" >A2</text>
<text x="517.0" y="219.4" font-size="10.10" text-anchor="end" font-weight="bold" fill="#1a1a1a" font-family="Liberation Sans, sans-serif" >B2</text>
<text x="337.4" y="230.5" font-size="10.50" text-anchor="middle" font-weight="normal" fill="#1a1a1a" stroke="#1a1a1a" stroke-width="0.22" font-family="Liberation Sans, sans-serif" >Rc</text>
<text x="370.2" y="228.2" font-size="10.50" text-anchor="middle" font-weight="normal" fill="#1a1a1a" stroke="#1a1a1a" stroke-width="0.22" font-family="Liberation Sans, sans-serif" >Tc</text>
<text x="428.8" y="222.1" font-size="10.50" text-anchor="middle" font-weight="normal" fill="#1a1a1a" stroke="#1a1a1a" stroke-width="0.22" font-family="Liberation Sans, sans-serif" >Cer</text>
<text x="482.0" y="231.4" font-size="10.50" text-anchor="middle" font-weight="normal" fill="#1a1a1a" stroke="#1a1a1a" stroke-width="0.22" font-family="Liberation Sans, sans-serif" >Wc</text>
<rect x="297.4" y="367.2" width="61.2" height="23.0" fill="#ffffff" fill-opacity="0.6"/>
<text x="298.3" y="377.1" font-size="10.20" text-anchor="start" font-weight="normal" fill="#333" stroke="#333" stroke-width="0.22" font-family="Liberation Sans, sans-serif" >S-anomalies,</text>
<text x="298.3" y="388.3" font-size="10.20" text-anchor="start" font-weight="normal" fill="#333" stroke="#333" stroke-width="0.22" font-family="Liberation Sans, sans-serif" >Section 2</text>
<clipPath id="cp12"><polygon points="544.3,241.6 556.4,240.9 567.7,240.0 580.6,238.6 594.0,237.3 609.4,237.8 623.3,236.2 635.0,235.9 648.0,235.7 654.6,234.2 660.0,232.4 662.2,232.4 675.8,232.5 682.1,234.2 690.3,236.6 701.4,237.4 714.3,237.8 733.5,237.1 740.7,236.4 746.5,235.8 752.8,236.0 759.3,236.6 764.9,238.2 770.9,241.4 770.9,392.8 544.3,392.8"/></clipPath>
<g clip-path="url(#cp12)">
<path d="M605.5 242.1l1.2 -.5 2.4 0 2.5 1.9 2.4 5.1 1.1 4.8 .6 9.7 -2.9 7.9 -1.2 2.1 -1.2 .5 -2.5 -1.2 -2.4 -2.3 -3.6 -4.6 -1.1 -2.4 -.2 -7.3 .9 -6 1.6 -4.6z" fill="#ff4a0a" stroke="#ff4a0a" stroke-width=".5"/>
<path d="M603.1 227.9l2.4 -.7 3.6 -.1 4.9 1.6 2.4 1.8 1.9 2.4 1.6 4.8 .9 24.2 -1.4 6 -1.4 9.6 .3 3.7 -1.8 3.6 -3.7 1.7 -4.9 -.5 -3.2 -2.4 -1.7 -4.9 -6.6 -14.4 -.1 -27.8 2 -4.8 2.4 -2.4zM605.1 242.5l-2 2.7 -1.9 5.8 -.6 4.8 .2 7.3 1.1 2.4 3.6 4.6 2.4 2.3 2.5 1.2 1.2 -.5 1.2 -2.1 2.9 -7.9 -.6 -9.7 -1.1 -4.8 -2.4 -5.1 -2.5 -1.9 -2.4 0zM711 247.9l1.2 -.3 1.2 .4 .9 1.8 4.7 30.2 -.8 3.6 -1.2 1.8 -2.4 1.5 -2.4 .4 -2.5 -.5 -1.2 -.9 -1.5 -2.3 -.8 -3.6 2.9 -25.4 .8 -4.8zM661.3 320.4l2.4 .9 1.2 1.8 1.1 6.3 -1.4 6.1 -2.1 2.2 -1.2 .2 -1.3 -.5 -1.5 -1.9 -1.2 -6.1 1.1 -6 1.6 -2.4z" fill="#ff7800" stroke="#ff7800" stroke-width=".5"/>
<path d="M603.1 222.9l3.6 -.6 3.7 .2 6 2.1 5.1 4.7 2.8 6 .8 26.6 -1.5 4.8 -1.2 7.2 .6 9.7 -.6 2.4 -1.1 1.8 -2.5 1.7 -2.4 .8 -3.6 .3 -4.9 -.6 -2.4 -.8 -2.6 -2 -2.5 -3.6 -1.2 -4.9 -6.5 -14.4 -.9 -25.4 .6 -4.8 1.4 -3.6 2.6 -3.6 3.1 -2.4zM602.8 228.1l-2.1 1.2 -2.4 2.4 -2 4.8 .1 27.8 6.6 14.4 1.7 4.9 3.2 2.4 4.9 .5 3.7 -1.7 1.8 -3.6 -.3 -3.7 1.4 -9.6 1.4 -6 -.9 -24.2 -1.6 -4.8 -1.9 -2.4 -2.4 -1.8 -2.4 -1.1 -3.7 -.6zM714.6 235.3l3.6 .9 2.6 1.5 2.3 2.7 1.3 3.3 .7 16.9 .1 32.6 -1.3 3.6 -2 1.6 -4 .9 -9.4 .1 -4 -1.3 -1.7 -2.5 -.6 -2.4 -.5 -13.2 1.7 -35 1 -3.7 2.9 -3.6 3.7 -1.9zM710.2 248.6l-2.3 14.5 -1.7 16.9 .8 3.6 1.5 2.3 1.2 .9 2.5 .5 2.4 -.4 2.4 -1.5 1.2 -1.8 .8 -3.6 -4.7 -30.2 -.4 -1.2 -1.7 -1zM661.3 290.8l6 -.4 4.2 1.6 4.3 4.3 2 5.4 -2.3 48.3 -.3 45.8 -27.6 0 -.2 -72.4 -.9 -7.2 -3.3 -10.9 -.1 -3.6 1.8 -3.6 4.2 -3.6 3.7 -1.5zM660.1 321l-2.1 3.6 -.7 6 1.5 5.5 2.5 1.8 2.4 -1.1 1.2 -2 1.1 -6.6 -.6 -3.6 -1.7 -3.3 -1.2 -.8z" fill="#ffa000" stroke="#ffa000" stroke-width=".5"/>
<path d="M595.8 220.4l1.2 -.8 21.9 0 4.8 3.6 2.9 3.7 2.8 6 .9 6 .2 23 -.9 1.2 -1.5 6 -.4 3.6 .5 3.6 2.8 4.1 7.2 7.7 2.5 1.8 2.4 .5 10.9 -1.6 13.3 -3.9 8.5 -.9 1.2 -.7 3.2 -10.6 4.4 -9.6 2.6 -13.3 3.1 -8.5 3.1 -4.8 4.2 -4.9 4.9 -4.2 4.8 -3.2 6.1 -2.9 6 -1.6 11.9 -.1 5.1 1.2 4.8 2 4.9 2.7 4.8 3.7 3.7 3.8 2.4 3.8 3.1 9.4 1.8 11.1 2.1 23.9 2.5 20.5 -.1 9.6 -1 8.5 -6 22.8 -2.9 19.4 -.7 .9 -1.2 .6 -1.2 -.2 -1.2 -1 -3.7 -10.1 -3.6 -4.9 -1.2 -.7 -2.5 -.2 -7.2 2 -1.2 -.3 -1.2 -1 -1.3 -2.4 -1.6 -6.8 -1.5 -12.1 -.9 -15.7 -.5 -2.4 -1.5 -2.7 -2.4 -1.6 -2.5 -.3 -10.9 .3 -3.4 .7 -1.6 1.2 -1.8 3.6 -1.7 15.1 -1.2 6.2 -1.2 3.1 -1.2 1 -1.2 -.3 -7.3 -8.2 -1.2 -.3 -1.2 1.3 -1.2 3.4 -1.2 6.6 -1.3 14.4 -.5 44.6 -6.1 0 .2 -44.6 2.5 -47.1 -.3 -3.6 -1.4 -3.7 -1.8 -2.4 -2.9 -2.4 -3 -1.3 -4.8 -.3 -10.9 2.6 -3.7 1.5 -3.2 2.3 -1.9 2.5 -1 3.6 .5 3.6 3 9.7 .9 7.2 .2 72.4 -6.1 0 0 -66.4 -.9 -10.8 -1.2 -3.7 -3.6 -5.4 -8.5 -6 -6 -5.7 -4.9 -2.7 -13.3 -2.9 -2.4 -1.9 -2.9 -4.3 -2.1 -7.3 -6.6 -14.4 -1.2 -25.4 .4 -6 1.5 -4.8 2.4 -4.1zM602.1 223.2l-3.9 2.1 -2.4 2.2 -2 3 -1.4 3.6 -.6 4.8 .9 25.4 6.5 14.4 1.2 4.9 2.5 3.6 2.6 2 2.4 .8 4.9 .6 3.6 -.3 2.4 -.8 2.5 -1.7 1.1 -1.8 .6 -2.4 -.6 -9.7 1.2 -7.2 1.5 -4.8 -.8 -26.6 -2.8 -6 -2.7 -2.9 -2.7 -2 -3.3 -1.4 -3.7 -.7 -3.6 .1zM714.6 235.3l-3.6 .5 -3.7 1.9 -2.9 3.6 -1 3.7 -1.7 35 .5 13.2 .6 2.4 1.7 2.5 4 1.3 9.4 -.1 4 -.9 2 -1.6 1.3 -3.6 -.1 -32.6 -.7 -16.9 -1.3 -3.3 -2.3 -2.7 -2.6 -1.5z" fill="#ffc800" stroke="#ffc800" stroke-width=".5"/>
<path d="M582.5 219.6l14.5 0 -4.2 3.6 -3 4.9 -1.5 4.8 -.4 6 1.5 26.6 6.3 13.2 1.2 4.9 1.6 3.6 2.2 3.1 2.4 1.9 12.1 2.5 4.9 2.2 7.2 6.6 8 5.4 2.9 3.8 1.7 3.5 1.1 4.8 .5 7.2 0 67.6 -18.6 0 0 -73.6 -.9 -14.5 -1.3 -3.6 -1.6 -2.4 -4.7 -3.6 -6.5 -1.5 -9.7 .4 -1.2 -.4 -1.7 -2.2 -2.7 -7.2 -1.6 -7.5 -6 -14.2 -2.5 -29zM620.1 219.6l31.9 0 -4.1 2.6 -4.2 4.7 -2.2 4.8 -.9 6 0 15.7 1.1 2.4 .9 10.9 1.5 8.4 .1 4.9 .9 2.4 1.6 1.8 2.4 1.2 2.5 .3 3.6 -.4 3.6 -1.2 3.2 -1.7 2.9 -2.6 4 -4.7 8.9 -13.2 .6 -3.7 1 -20.5 -.3 -4.8 -1.1 -3.6 -2.2 -4 -3 -3.3 -3.8 -2.4 50.9 0 -7.7 2.2 -7.3 3.8 -7.3 6 -5.1 6.1 -2.2 3.6 -2.4 5.9 -3.3 15.9 -4 8.4 -3 10.9 -.9 1.2 -9.4 1.3 -13.3 3.9 -10.9 1.6 -2.4 -.5 -2.5 -1.8 -7.2 -7.7 -2.8 -4.1 -.5 -3.6 .4 -3.6 1.5 -6 .9 -1.2 -.4 -25.4 -1.1 -4.8 -2.4 -4.8 -2.9 -3.7 -4.8 -3.6zM731.6 219.6l42.4 0 0 25.5 -1.2 1.1 -.3 4.8 .3 5.6 1.2 1.8 0 137.4 -47.3 0 -.5 -21.7 -1.9 -16.8 -1.2 -6.2 -4.9 -16.7 -1.2 -14.6 -1.2 -1.9 -2.4 -.9 -2.4 1 -1.1 1.8 -1.4 13.8 -3.6 14.4 -1.2 7.1 -1.5 16.6 -.3 24.1 -20.6 0 .5 -44.6 1.3 -14.4 1.2 -6.6 1.2 -3.4 1.2 -1.3 1.2 .3 7.3 8.2 1.2 .3 1.2 -1 1.2 -3.1 1.2 -6.2 1.7 -15.1 1.8 -3.6 1.6 -1.2 3.4 -.7 10.9 -.3 2.5 .3 2.4 1.6 1.5 2.7 .5 2.4 .9 15.7 1.5 12.1 1.6 6.8 1.3 2.4 1.2 1 1.2 .3 7.2 -2 2.5 .2 1.2 .7 3.6 4.9 3.7 10.1 1.2 1 1.2 .2 1.9 -1.5 2.6 -18.1 6.1 -22.9 1.3 -12.1 -.2 -9.6 -5.7 -50.7 -1.2 -5.5 -1.9 -5.4 -2.1 -3.6 -3.2 -3.8 -4.9 -4 -4.8 -2.9 -4.9 -2.2z" fill="#ffe6a0" stroke="#ffe6a0" stroke-width=".5"/>
<path d="M541.5 220.8l-.2 1.5 0 -2.7 .4 0zM569.2 219.6l13 0 .4 18.1 2.4 27.8 6 14.2 1.6 7.5 3.2 8.3 1.2 1.1 1.2 .4 9.7 -.4 6.1 1.3 4.8 3.5 2.9 5.1 1.2 14.5 0 74.8 -5.3 0 0 -76 -.8 -12.1 -1.1 -2.4 -2.4 -2.4 -2.9 -1.4 -3.7 -.4 -3.2 .6 -2.4 1.2 -2.1 2.4 -.8 2.4 -.7 43.5 1 44.6 -19.1 0 1.7 -18.1 1.1 -26.5 .4 -31.4 -.6 -23 -2.2 -21.7 -8.6 -36.2 -3.1 -19.3zM650.4 220.5l1.6 -.9 17.7 .3 3.7 2.6 3.4 4.4 2 4.8 .6 4.8 -1 21.7 -.6 3.7 -8.9 13.2 -4 4.7 -2.9 2.6 -3.2 1.7 -3.6 1.2 -3.6 .4 -4 -.9 -1.6 -1.2 -1.4 -2.4 -2.9 -25.4 -1.1 -2.4 .1 -16.9 .8 -4.8 3.1 -6.1 2.1 -2.4zM655.9 223.2l-3.1 1.5 -2.9 2.2 -2 2.4 -1.7 3.6 -.8 4.8 0 16.9 .8 1.2 1.2 10.9 1.7 6.5 2.5 3.5 2.4 1.3 2.4 .2 3.6 -.8 3.7 -2.6 4.8 -5.7 5.9 -8.5 1 -22.9 -.4 -3.6 -1.2 -3.6 -4.1 -4.9 -2.4 -1.5 -3.6 -1.3 -3.7 -.3zM774 245.1l0 13.3 -1.2 -1.8 -.3 -5.6 .3 -4.8zM712.2 317.2l2.4 0 1.8 1.4 .6 1.2 1.2 14.6 4.9 16.7 1.2 6.2 1.9 16.8 .5 21.7 -9.8 0 -.8 -31.4 -1.5 -16.9 -1.2 -4.6 -1.2 6.4 -1.4 16.3 -.6 30.2 -8.3 0 .3 -24.1 1.4 -15.7 1.3 -8 3.6 -14.4 1.4 -13.8 .6 -1.2z" fill="#dcffff" stroke="#dcffff" stroke-width=".5"/>
<path d="M542.5 219.6l25.6 0 4.1 24.1 6.9 27.8 2.6 21.7 .9 29 -.9 44.6 -2.3 29 -17.6 0 0 -51.9 -1.1 -2.5 -2.5 1.6 -2.4 .3 -1.3 -.6 -1.4 -2.4 -.4 -33.8 .2 -2.4 1.7 -1.9 5.5 -.5 .6 -1.2 -.1 -4.9 -1.3 -3.6 -5.3 -4.8 -1.9 -6 -.5 -26.6 -.6 -1.8 -1.2 -.5 -1.3 .4 -.7 1.9 -.3 24.1 -.6 4.9 .8 4.8 -2 4.8 -.6 3.6 -.3 54.4 .8 44.6 -4.3 0 0 -173.5 .4 -2.7zM656.4 223.1l3.6 -.6 3.7 .3 3.6 1.3 2.4 1.5 4.1 4.9 1.2 3.6 .4 3.6 -1 22.9 -5.9 8.5 -4.8 5.7 -3.7 2.6 -3.6 .8 -2.4 -.2 -2.4 -1.3 -2.1 -2.8 -1.3 -3.6 -2 -14.5 -.8 -1.2 0 -16.9 .8 -4.8 2.6 -4.8 4 -3.4zM656 226.9l-4.4 3.3 -2.5 4.8 -.3 19.6 2.3 9.7 1.6 3.6 2.5 2.1 3.6 .8 2.5 -.6 3.6 -2.5 4.8 -5.4 1.8 -2.9 .6 -22.9 -1.5 -4.8 -2.1 -2.6 -2.4 -1.8 -4.8 -1.4zM604.3 301.4l4.8 -.2 3.7 1.3 2.9 2.8 1.3 3.6 .6 11.8 0 75.1 -19.1 0 -1 -43.4 .6 -43.5 .4 -2.4 1.3 -2.4 2.1 -1.7zM713.4 342.9l1.2 4.6 1.5 16.9 .8 31.4 -6.7 0 .6 -30.2 1.4 -16.3z" fill="#a0f6ff" stroke="#a0f6ff" stroke-width=".5"/>
<path d="M656.4 226.7l2.4 -.6 3.7 0 4.8 2 3.3 3.6 1.5 4.8 -.6 22.9 -1.8 2.9 -4.8 5.4 -3.6 2.5 -2.5 .6 -3.6 -.8 -2.5 -2.1 -1.6 -3.6 -2.3 -9.7 0 -16.9 .6 -3.6 3 -4.8zM657 230.5l-2.9 2.4 -1.5 3.6 0 19.3 2.5 4.8 1.3 1.3 2.4 1 2.5 .3 3.6 -1.4 2.8 -2.4 .3 -1.2 .4 -21.7 -1.4 -3.6 -2.8 -2.4 -4.2 -.9zM548.5 252.7l1.3 -.4 1.2 .5 .6 1.8 .2 24.1 1.6 7 1.2 2.3 4.7 4 1.3 3.6 .1 4.9 -.6 1.2 -5.5 .5 -1.7 1.9 -.2 2.4 .4 33.8 1.4 2.4 1.3 .6 2.4 -.3 2.5 -1.6 1.1 2.5 0 51.9 -16.2 0 -.8 -41 .2 -53.1 .4 -7.3 2.3 -6 -.8 -4.8 .6 -4.9 .3 -24.1z" fill="#40dcf8" stroke="#40dcf8" stroke-width=".5"/>
<path d="M657.6 230.2l3.7 -.6 3.6 1.3 2.4 2.5 1.1 3.1 -.4 21.7 -.3 1.2 -2.8 2.4 -3.6 1.4 -2.5 -.3 -2.4 -1 -1.3 -1.3 -2.5 -4.8 0 -19.3 1.5 -3.6z" fill="#20b4f8" stroke="#20b4f8" stroke-width=".5"/>
</g>
<line x1="567.0" y1="241.1" x2="567.0" y2="285.9" stroke="#111" stroke-width="1.4" stroke-dasharray="1.3 1.7" fill="none"/>
<line x1="544.3" y1="285.9" x2="567.0" y2="285.9" stroke="#111" stroke-width="1.4" stroke-dasharray="1.3 1.7" fill="none"/>
<line x1="567.0" y1="316.7" x2="567.0" y2="392.0" stroke="#111" stroke-width="1.4" stroke-dasharray="1.3 1.7" fill="none"/>
<line x1="544.3" y1="316.7" x2="567.0" y2="316.7" stroke="#111" stroke-width="1.4" stroke-dasharray="1.3 1.7" fill="none"/>
<line x1="544.3" y1="392.0" x2="567.0" y2="392.0" stroke="#111" stroke-width="1.4" stroke-dasharray="1.3 1.7" fill="none"/>
<line x1="595.7" y1="238.4" x2="595.7" y2="285.9" stroke="#111" stroke-width="1.4" stroke-dasharray="1.3 1.7" fill="none"/>
<line x1="619.8" y1="237.6" x2="619.8" y2="285.9" stroke="#111" stroke-width="1.4" stroke-dasharray="1.3 1.7" fill="none"/>
<line x1="595.7" y1="285.9" x2="619.8" y2="285.9" stroke="#111" stroke-width="1.4" stroke-dasharray="1.3 1.7" fill="none"/>
<line x1="595.7" y1="316.7" x2="595.7" y2="392.0" stroke="#111" stroke-width="1.4" stroke-dasharray="1.3 1.7" fill="none"/>
<line x1="619.8" y1="316.7" x2="619.8" y2="392.0" stroke="#111" stroke-width="1.4" stroke-dasharray="1.3 1.7" fill="none"/>
<line x1="595.7" y1="316.7" x2="619.8" y2="316.7" stroke="#111" stroke-width="1.4" stroke-dasharray="1.3 1.7" fill="none"/>
<line x1="595.7" y1="392.0" x2="619.8" y2="392.0" stroke="#111" stroke-width="1.4" stroke-dasharray="1.3 1.7" fill="none"/>
<line x1="648.6" y1="236.6" x2="648.6" y2="285.9" stroke="#111" stroke-width="1.4" stroke-dasharray="1.3 1.7" fill="none"/>
<line x1="672.7" y1="233.5" x2="672.7" y2="285.9" stroke="#111" stroke-width="1.4" stroke-dasharray="1.3 1.7" fill="none"/>
<line x1="648.6" y1="285.9" x2="672.7" y2="285.9" stroke="#111" stroke-width="1.4" stroke-dasharray="1.3 1.7" fill="none"/>
<line x1="648.6" y1="316.7" x2="648.6" y2="392.0" stroke="#111" stroke-width="1.4" stroke-dasharray="1.3 1.7" fill="none"/>
<line x1="672.7" y1="316.7" x2="672.7" y2="392.0" stroke="#111" stroke-width="1.4" stroke-dasharray="1.3 1.7" fill="none"/>
<line x1="648.6" y1="316.7" x2="672.7" y2="316.7" stroke="#111" stroke-width="1.4" stroke-dasharray="1.3 1.7" fill="none"/>
<line x1="648.6" y1="392.0" x2="672.7" y2="392.0" stroke="#111" stroke-width="1.4" stroke-dasharray="1.3 1.7" fill="none"/>
<line x1="701.4" y1="238.4" x2="701.4" y2="285.9" stroke="#111" stroke-width="1.4" stroke-dasharray="1.3 1.7" fill="none"/>
<line x1="725.6" y1="238.4" x2="725.6" y2="285.9" stroke="#111" stroke-width="1.4" stroke-dasharray="1.3 1.7" fill="none"/>
<line x1="701.4" y1="285.9" x2="725.6" y2="285.9" stroke="#111" stroke-width="1.4" stroke-dasharray="1.3 1.7" fill="none"/>
<line x1="701.4" y1="316.7" x2="701.4" y2="392.0" stroke="#111" stroke-width="1.4" stroke-dasharray="1.3 1.7" fill="none"/>
<line x1="725.6" y1="316.7" x2="725.6" y2="392.0" stroke="#111" stroke-width="1.4" stroke-dasharray="1.3 1.7" fill="none"/>
<line x1="701.4" y1="316.7" x2="725.6" y2="316.7" stroke="#111" stroke-width="1.4" stroke-dasharray="1.3 1.7" fill="none"/>
<line x1="701.4" y1="392.0" x2="725.6" y2="392.0" stroke="#111" stroke-width="1.4" stroke-dasharray="1.3 1.7" fill="none"/>
<line x1="754.3" y1="237.1" x2="754.3" y2="285.9" stroke="#111" stroke-width="1.4" stroke-dasharray="1.3 1.7" fill="none"/>
<line x1="754.3" y1="285.9" x2="770.9" y2="285.9" stroke="#111" stroke-width="1.4" stroke-dasharray="1.3 1.7" fill="none"/>
<line x1="754.3" y1="316.7" x2="754.3" y2="392.0" stroke="#111" stroke-width="1.4" stroke-dasharray="1.3 1.7" fill="none"/>
<line x1="754.3" y1="316.7" x2="770.9" y2="316.7" stroke="#111" stroke-width="1.4" stroke-dasharray="1.3 1.7" fill="none"/>
<line x1="754.3" y1="392.0" x2="770.9" y2="392.0" stroke="#111" stroke-width="1.4" stroke-dasharray="1.3 1.7" fill="none"/>
<polyline points="544.3,241.6 556.4,240.9 567.7,240.0 580.6,238.6 594.0,237.3 609.4,237.8 623.3,236.2 635.0,235.9 648.0,235.7 654.6,234.2 660.0,232.4 662.2,232.4 675.8,232.5 682.1,234.2 690.3,236.6 701.4,237.4 714.3,237.8 733.5,237.1 740.7,236.4 746.5,235.8 752.8,236.0 759.3,236.6 764.9,238.2 770.9,241.4" fill="none" stroke="#000" stroke-width="1.7" stroke-linejoin="round"/>
<polygon points="658.6,232.9 662.0,228.3 665.4,232.9" fill="#000"/>
<polygon points="665.1,232.9 668.5,227.3 671.9,232.9" fill="#000"/>
<polygon points="672.1,233.0 675.5,226.3 678.9,233.0" fill="#000"/>
<polygon points="743.3,236.3 746.5,230.1 749.7,236.3" fill="#000"/>
<line x1="544.3" y1="211.7" x2="544.3" y2="398.8" stroke="#222" stroke-width="1.3"/>
<line x1="770.9" y1="211.7" x2="770.9" y2="392.8" stroke="#222" stroke-width="1.3"/>
<line x1="544.3" y1="392.8" x2="770.9" y2="392.8" stroke="#777" stroke-width="1.3"/>
<line x1="538.7" y1="242.2" x2="544.3" y2="242.2" stroke="#333" stroke-width="1.1"/>
<line x1="770.9" y1="242.2" x2="776.2" y2="242.2" stroke="#333" stroke-width="1.1"/>
<text x="537.0" y="246.0" font-size="10.50" text-anchor="end" font-weight="normal" fill="#1a1a1a" stroke="#1a1a1a" stroke-width="0.22" font-family="Liberation Sans, sans-serif" >0</text>
<line x1="538.7" y1="317.5" x2="544.3" y2="317.5" stroke="#333" stroke-width="1.1"/>
<line x1="770.9" y1="317.5" x2="776.2" y2="317.5" stroke="#333" stroke-width="1.1"/>
<text x="537.0" y="321.3" font-size="10.50" text-anchor="end" font-weight="normal" fill="#1a1a1a" stroke="#1a1a1a" stroke-width="0.22" font-family="Liberation Sans, sans-serif" >-5</text>
<line x1="538.7" y1="392.8" x2="544.3" y2="392.8" stroke="#333" stroke-width="1.1"/>
<line x1="770.9" y1="392.8" x2="776.2" y2="392.8" stroke="#333" stroke-width="1.1"/>
<text x="537.0" y="396.6" font-size="10.50" text-anchor="end" font-weight="normal" fill="#1a1a1a" stroke="#1a1a1a" stroke-width="0.22" font-family="Liberation Sans, sans-serif" >-10</text>
<line x1="544.3" y1="392.8" x2="544.3" y2="398.6" stroke="#333" stroke-width="1.1"/>
<text x="544.3" y="409.2" font-size="10.50" text-anchor="middle" font-weight="normal" fill="#1a1a1a" stroke="#1a1a1a" stroke-width="0.22" font-family="Liberation Sans, sans-serif" >0</text>
<line x1="619.8" y1="392.8" x2="619.8" y2="398.6" stroke="#333" stroke-width="1.1"/>
<text x="619.8" y="409.2" font-size="10.50" text-anchor="middle" font-weight="normal" fill="#1a1a1a" stroke="#1a1a1a" stroke-width="0.22" font-family="Liberation Sans, sans-serif" >5</text>
<line x1="695.4" y1="392.8" x2="695.4" y2="398.6" stroke="#333" stroke-width="1.1"/>
<text x="695.4" y="409.2" font-size="10.50" text-anchor="middle" font-weight="normal" fill="#1a1a1a" stroke="#1a1a1a" stroke-width="0.22" font-family="Liberation Sans, sans-serif" >10</text>
<line x1="770.9" y1="392.8" x2="770.9" y2="398.6" stroke="#333" stroke-width="1.1"/>
<text x="770.9" y="409.2" font-size="10.50" text-anchor="middle" font-weight="normal" fill="#1a1a1a" stroke="#1a1a1a" stroke-width="0.22" font-family="Liberation Sans, sans-serif" >15</text>
<text x="547.2" y="222.6" font-size="10.10" text-anchor="start" font-weight="bold" fill="#1a1a1a" font-family="Liberation Sans, sans-serif" >A3</text>
<text x="768.1" y="219.7" font-size="10.10" text-anchor="end" font-weight="bold" fill="#1a1a1a" font-family="Liberation Sans, sans-serif" >B3</text>
<text x="667.8" y="220.5" font-size="10.50" text-anchor="middle" font-weight="normal" fill="#1a1a1a" stroke="#1a1a1a" stroke-width="0.22" font-family="Liberation Sans, sans-serif" >Cer</text>
<text x="745.8" y="225.1" font-size="10.50" text-anchor="middle" font-weight="normal" fill="#1a1a1a" stroke="#1a1a1a" stroke-width="0.22" font-family="Liberation Sans, sans-serif" >Sc</text>
<rect x="548.0" y="367.2" width="61.2" height="23.0" fill="#ffffff" fill-opacity="0.6"/>
<text x="548.9" y="377.1" font-size="10.20" text-anchor="start" font-weight="normal" fill="#333" stroke="#333" stroke-width="0.22" font-family="Liberation Sans, sans-serif" >S-anomalies,</text>
<text x="548.9" y="388.3" font-size="10.20" text-anchor="start" font-weight="normal" fill="#333" stroke="#333" stroke-width="0.22" font-family="Liberation Sans, sans-serif" >Section 3</text>
<clipPath id="cp20"><polygon points="33.9,447.6 46.0,447.0 59.0,446.3 70.2,445.1 76.7,444.4 91.3,443.1 105.5,441.7 118.5,440.5 129.5,438.6 135.0,436.1 139.7,435.5 145.0,435.4 150.2,435.5 154.8,436.5 158.6,439.2 161.7,441.5 166.9,443.6 175.9,444.3 184.8,444.6 200.1,444.7 207.7,444.7 218.7,444.6 224.3,443.3 228.7,441.7 236.5,438.2 241.7,435.5 243.5,434.9 245.4,435.5 252.5,439.1 264.5,441.6 271.6,442.8 271.6,597.4 33.9,597.4"/></clipPath>
<g clip-path="url(#cp20)">
<path d="M143.6 427.7l6.1 -.2 3.6 1.1 2.6 1.5 2.6 2.4 2.1 3.2 1.1 2.9 .4 3.6 -.7 26.6 -5.2 22.9 -1 2.4 -2.2 2.5 -3.3 1.6 -3.6 .6 -3.7 -.4 -2.4 -1.1 -2.4 -2 -1.2 -1.9 -5.3 -24.6 .7 -26.6 .5 -3.6 1.6 -3.6 2.5 -3.2 3.6 -2.7zM95.1 515.7l3.7 .3 2.3 2.3 -1.1 3 -2.4 1.9 -4.9 -.6 -2.4 -1.7 -.9 -1.4 2.1 -2.5z" fill="#050a6e" stroke="#050a6e" stroke-width=".5"/>
<path d="M143.6 426.4l3.7 -.3 3.6 .4 6.1 2.9 2.4 2.3 2.2 3.3 1.3 3.6 .5 3.6 -.8 26.6 -5.5 24.1 -1.3 2.4 -2.6 2.5 -3.5 1.5 -3.6 .5 -6.1 -1.2 -2.9 -2 -1.8 -2.5 -5.5 -25.3 .7 -26.6 .9 -4.8 1.8 -3.6 3.1 -3.7 3.7 -2.4zM143.6 427.7l-3.6 1.4 -3.6 2.7 -2.5 3.2 -1.6 3.6 -.5 3.6 -.7 26.6 5.3 24.6 1.2 1.9 2.4 2 2.4 1.1 3.7 .4 3.6 -.6 3.3 -1.6 2.2 -2.5 1 -2.4 5.2 -22.9 .7 -26.6 -.4 -3.6 -1.1 -2.9 -2.1 -3.2 -2.6 -2.4 -2.6 -1.5 -3.6 -1.1zM95.1 504.9l2.5 .8 2.4 2.3 3.6 5.9 2 4.4 -2 7.1 -2.4 4.7 -2.4 2.5 -2.4 .8 -4.9 -.7 -2.4 -1.9 -2.4 -4 -2.2 -7.3 2.2 -7.7 2.4 -4.2 2.4 -1.8zM94.4 515.9l-4.1 2 -.9 1.6 .7 1.2 1.4 1.4 2.4 .9 2.5 .4 2.4 -.8 1.5 -1.9 .8 -2.4 -2.5 -2.4 -2.2 -.4z" fill="#0a3296" stroke="#0a3296" stroke-width=".5"/>
<path d="M143.6 425.2l3.7 -.3 3.6 .4 3.7 1.2 3.6 2.3 2.5 2.5 2.3 3.7 1.2 3.6 .4 3.6 -.8 26.6 -5.6 24.1 -2 3.7 -2.9 2.3 -3.6 1.4 -3.6 .4 -3.7 -.3 -3.6 -1.2 -2.2 -1.4 -2.1 -2.5 -1.4 -3.6 -.3 -3.6 -4.3 -19.3 .8 -26.6 .8 -4.8 2.4 -4.9 2.7 -2.9 3.6 -2.6zM143.4 426.5l-3.4 1.2 -3.7 2.4 -3.1 3.7 -1.8 3.6 -.9 4.8 -.7 26.6 5.5 25.3 1.8 2.5 2.9 2 6.1 1.2 3.6 -.5 3.5 -1.5 2.6 -2.5 1.3 -2.4 5.5 -24.1 .8 -26.6 -.5 -3.6 -1.3 -3.6 -2.2 -3.3 -2.4 -2.3 -6.1 -2.9 -3.6 -.4zM89.1 497.5l1.2 -.3 2.4 .8 6.1 4.9 4.3 5.7 5.1 9.7 -2 8.4 -4.8 13.3 -3.8 19 -1.2 2.6 -1.3 .9 -2.4 -.5 -1.2 -2 -1.2 -4.3 -2.8 -15.7 -4.4 -14.5 -1.3 -6 3.6 -15.6 1.6 -3.7zM94.4 505l-4.1 1.5 -2.4 2.8 -2.2 5.4 -1.2 4.8 2.2 7.3 2.4 4 2.4 1.9 4.9 .7 2.4 -.8 2.4 -2.5 2.4 -4.7 2 -7.1 -2 -4.4 -3.6 -5.9 -2.4 -2.3z" fill="#0a64be" stroke="#0a64be" stroke-width=".5"/>
<path d="M140 425l3.1 -.9 8.1 0 5.8 2.3 3.2 2.5 2.9 3.6 1.7 3.7 1 4.8 -.9 27.8 -4.8 19.3 -.8 4.8 -1.8 3.7 -2.5 2.4 -4.1 1.9 -3.6 .7 -4.9 -.2 -4.2 -1.2 -3 -1.9 -2.4 -3 -1 -2.4 -.5 -4.8 -4.2 -19.3 .9 -26.6 .8 -4.8 1.5 -3.6 2.6 -3.7 3.5 -3.1zM143.3 425.3l-4.5 1.7 -3.6 2.6 -2.7 2.9 -2.4 4.9 -.8 4.8 -.8 26.6 4.3 19.3 .3 3.6 1.4 3.6 2.1 2.5 2.2 1.4 3.6 1.2 3.7 .3 3.6 -.4 3.6 -1.4 2.9 -2.3 2 -3.7 5.6 -24.1 .7 -27.8 -.6 -3.6 -1.5 -3.6 -2.7 -3.7 -2.7 -2.2 -6.1 -2.6 -3.6 -.4zM87.9 491.6l1.2 .2 2.4 1.5 7.3 7.2 4.8 6.4 6.9 11.4 -6.1 24.1 -4.4 49.6 -1.9 3.6 -3 1.4 -3.6 -.8 -2.5 -3 -4.9 -53.2 -4.4 -20.5 4.8 -24.2 1.1 -2.4zM88.8 497.8l-2.1 3 -1.3 3.1 -3.6 15.6 1.3 6 4.4 14.5 2.8 15.7 1.2 4.3 1.2 2 2.4 .5 1.3 -.9 1.2 -2.6 3.8 -19 4.8 -13.3 2 -8.4 -5.1 -9.7 -5.5 -7 -4.9 -3.6 -2.4 -.8z" fill="#1490d8" stroke="#1490d8" stroke-width=".5"/>
<path d="M137.6 424.8l1.4 -.7 4.1 0 -4.3 1.5 -4.9 3.4 -3.6 4.8 -1.8 4.8 -1.4 30.2 5.1 25.3 2.4 3.7 3 2.1 4.8 1.5 6.1 0 4.8 -1.5 3.7 -2.7 2.3 -4.3 .8 -4.8 4.6 -18.1 1.1 -27.8 -.6 -4.8 -2.1 -4.9 -2.9 -3.6 -4.4 -3.2 -4.6 -1.6 4.1 0 5.5 3.6 4.4 6.1 1.8 6 -.8 29 -5 19.3 -.7 4.8 -1.6 3.7 -2.2 2.4 -3.4 2 -4.8 1.3 -4.9 .2 -5.8 -1.1 -3.9 -2 -2.7 -2.8 -1.6 -3.7 -.3 -4.8 -3.7 -18.1 1 -27.8 .8 -4.8 1.5 -3.6 2.3 -3.7 2.7 -2.8zM86.7 489.2l3.6 1 4.8 4.1 7.1 8.3 5.2 8.4 4.2 4.9 1.3 2.4 -4.7 16.9 -1.2 6 -4.4 52 -.9 2.4 -1.7 2 -2.4 1.6 -2.5 .6 -3.6 -.5 -2.4 -1.3 -2.1 -2.4 -.9 -2.4 -4.2 -52 -4.3 -21.7 4.4 -25.4 2.1 -3.6zM87.4 491.7l-1.8 1.2 -1.1 2.4 -4.8 24.2 4.4 20.5 4.9 53.2 2.5 3 3.6 .8 3 -1.4 1.9 -3.6 4.4 -49.6 6.1 -24.1 -6.9 -11.4 -4.8 -6.4 -7.7 -7.6 -2 -1.1z" fill="#10b8f0" stroke="#10b8f0" stroke-width=".5"/>
<path d="M135.2 424.6l.7 -.5 3.1 0 -4.1 2.4 -3.7 3.6 -2.3 3.7 -1.8 4.8 -1.6 30.2 3.8 19.3 .7 6 2.1 3.7 4.3 3 3.6 1.2 4.9 .6 7.2 -1.1 3.7 -1.8 2.1 -1.9 2.6 -4.9 .7 -4.8 5 -19.3 .9 -27.8 -.9 -4.8 -2.4 -4.9 -3.2 -3.7 -5.3 -3.5 3 0 4.7 3.9 3.2 4.5 2 6.1 .3 3.6 -.9 26.6 -5.2 19.3 -1 6 -1.9 3.7 -2.5 2.4 -3.7 1.9 -3.6 1 -7.3 .4 -7.2 -1.3 -9.7 -3.1 -1.4 -2.5 -.3 -3.7 1.1 -6 .3 -4.8 -1.6 -13.3 1.8 -29 .9 -3.6 2.3 -4.9 2.9 -3.7zM84.2 487.8l2.5 -.4 2.7 .7 3.3 2 3.7 3.3 6.6 8 6.7 10.5 4.9 4 1.1 1.2 .2 1.2 -5 14.8 -1.8 8.1 -4.5 52 -2.2 4.8 -2.9 2.4 -10.3 0 -3.8 -3.6 -1.3 -3.6 -4.5 -53.2 -4.1 -20.5 4 -25.4 1.6 -3.6zM86.4 489.3l-2.3 1.2 -2.1 3.6 -3.5 19.4 -.8 7.2 4.2 20.5 4.2 52 .9 2.4 2.1 2.4 2.4 1.3 3.6 .5 2.5 -.6 2.4 -1.6 1.7 -2 .9 -2.4 4.4 -52 1.2 -6 4.7 -16.9 -1.3 -2.4 -4.2 -4.9 -5.2 -8.4 -7.1 -8.3 -4.8 -4.1 -2.4 -.9z" fill="#28ccfa" stroke="#28ccfa" stroke-width=".5"/>
<path d="M131.5 425.3l1.5 -1.2 2.9 0 -4.4 3.5 -2.9 3.7 -2.3 4.9 -1.1 4.8 -1.6 27.8 1.6 13.3 -.3 4.8 -1.1 6 .4 4.5 1.3 1.7 8.4 2.8 6.1 1.3 6.1 .3 4.8 -.7 4.9 -1.8 2.6 -2 2.5 -3.7 6.7 -26.5 .9 -27.8 -.9 -4.8 -2.1 -4.9 -2.7 -3.6 -4.5 -3.6 2.9 0 4.7 4.8 3.1 6.1 1.2 6 -1 27.8 -5.4 19.3 -.9 6 -2.6 4.9 -2.1 1.9 -3.6 1.9 -7.3 1.7 -12.1 0 -3.7 1.4 -8 8.8 -5.3 8 -4.9 10.3 -2 8.2 -5.1 53.2 -1.5 3.6 -2.1 2.4 -3.1 0 2.9 -2.4 2.2 -4.8 4.5 -52 1.8 -8.1 5 -14.8 -.2 -1.2 -1.1 -1.2 -4.9 -4 -7.6 -11.7 -5 -6.1 -3.8 -3.6 -3 -2 -3.6 -1.1 -3.2 .7 -2.4 2.4 -1.6 3.6 -4 25.4 4.1 20.5 4.5 53.2 1.3 3.6 3.8 3.6 -3.1 0 -2.8 -3.6 -1.1 -3.6 -4.7 -53.2 -4.5 -20.5 .9 -9.7 2.6 -15.7 2.3 -4.8 3 -2.8 3.6 -.8 3.7 .9 4.8 2.7 5.3 4.8 7.5 9.7 3.5 6 1.9 2.3 2.4 1.4 2.5 .4 2.4 -.6 1.4 -1 1.1 -2.5 .4 -2.4 -1.2 -6 -.5 -8.5 1.1 -14.5 -.5 -9.6 2.2 -27.8 1.1 -4.8 1.4 -3.7 2.3 -3.6zM256.4 429.6l2.4 -.1 1.3 .7 2.4 3 3.6 9 2.4 10.2 2.5 16.4 1.2 13.6 .8 17.8 .1 18.1 -.6 18.1 -1.3 15.7 -1.4 11.2 -2.5 12.3 -2.4 8 -3.6 7.1 -3.7 3.3 -3.6 .9 -4.9 -1 -3.6 -2.2 -3.6 -4.4 -2.5 -5.4 -2.4 -9.3 -1.4 -9.6 -.9 -13.3 -.2 -14.5 .8 -15.7 1.7 -15.6 8.5 -47 2.4 -10.5 2.5 -7.8 2.4 -5.2 1.4 -2.1zM195.8 503.6l12.1 -.8 3.6 .7 2.3 1.5 2.1 2.4 2.8 6.1 .7 39.8 -1.1 47.1 -30.1 0 -.8 -38.6 .4 -47.1 .8 -3.7 1.9 -3.6 2.2 -2.4z" fill="#64dcff" stroke="#64dcff" stroke-width=".5"/>
<path d="M129.1 424.6l.5 -.5 3.4 0 -3.8 3.6 -3.3 4.8 -1.8 4.9 -.8 4.8 -2.1 26.6 .5 9.6 -1.1 14.5 .5 8.5 1.2 6 -.4 2.4 -1.1 2.5 -1.4 1 -2.4 .6 -2.5 -.4 -2.4 -1.4 -1.9 -2.3 -3.5 -6 -7.5 -9.7 -5.3 -4.8 -4.8 -2.7 -3.7 -.9 -3.6 .8 -3 2.8 -2.3 4.8 -2.6 15.7 -.9 9.7 4.5 20.5 4.7 53.2 1.1 3.6 2.8 3.6 -2.8 0 -2.2 -3.6 -1 -3.6 -4.4 -47.6 -1.7 -11.6 -4.7 -13.3 -2 -9.9 -1.6 -2.2 -6.9 -5.2 -1.5 -3.2 .2 -2.4 1.4 -2.5 3.5 -2.6 8.5 -2.8 8.5 -5.6 2.4 -.6 2.4 .2 6.1 2 7.4 4.6 3.9 3.6 9 10.9 2.7 5.1 2.5 1.1 2.4 -1 1.1 -1.6 .4 -2.4 -.7 -3.6 -.1 -4.8 .5 -13.3 -.4 -18.1 1.9 -25.4 2.5 -8.5 2.9 -4.8zM161.8 424.1l2.7 0 4 4.8 2.7 6.1 1.1 6 -.8 27.8 -5.8 19.3 -1.1 7.2 -2.7 4.9 -4.9 3.1 -7.3 2.1 -10.9 1 -3.6 1.3 -4 4.6 -5.7 10.7 -6.1 6 -2.4 3.3 -2.5 5.8 -1.2 6.1 -5 50.2 -1.3 3.6 -1.6 2.4 -2.8 0 2.7 -3.6 1.2 -3.6 5 -53.2 1.8 -7 3.7 -8.1 6.5 -10.2 8 -8.8 3.7 -1.4 10.9 .1 7.2 -1.4 5.8 -3 2.1 -2.4 1.3 -2.5 1.3 -7.2 5.4 -19.3 1 -26.6 -.5 -4.8 -1.7 -4.9 -3 -4.8 -3.8 -3.6zM239.4 424.1l34.5 0 .7 5.4 0 170.9 -46.8 0 -.5 -.8 -1.3 .8 -7.7 0 1.1 -42.3 -.5 -43.4 -1.5 -4.9 -2.4 -3.6 -3.5 -2.7 -3.6 -.7 -13.3 1.1 -3.7 2.9 -2.6 5.5 -.6 4.8 -.3 31.4 .8 51.9 -5.2 0 -1.1 -26.6 -.2 -27.7 .7 -30.2 1.1 -6.1 1.6 -3.6 2.2 -3.3 1.7 -1.5 1.9 -.7 12.2 .4 10.9 -1.6 2.5 .7 6 4.4 1.2 .4 1.2 -.5 1.4 -3.1 3.6 -18.1 3 -12.1 4 -25.4 1.9 -21.7zM255.5 430.1l-2.7 3.3 -2.9 6.4 -3.2 11.5 -2.4 11.7 -7.6 43.2 -1.6 15.7 -.6 15.7 .2 13.3 1.1 13.3 1.2 8.4 2.4 9.3 2.5 5.4 3.6 4.4 3.6 2.2 4.9 1 3.6 -.9 3.7 -3.3 3.6 -7.1 2.4 -8 2.5 -12.3 1.6 -13.6 1.2 -15.7 .5 -18.1 -.9 -33.5 -1.2 -13.6 -2.5 -16.4 -2.4 -10.2 -3.6 -9 -1.2 -1.8 -2.5 -1.9 -1.2 -.2z" fill="#96e6ff" stroke="#96e6ff" stroke-width=".5"/>
<path d="M124.2 424.1l5.4 0 -3.3 3.6 -2.3 3.6 -2 4.9 -1.1 4.8 -1.9 25.4 .4 18.1 -.5 13.3 .1 4.8 .7 3.6 -.4 2.4 -1.1 1.6 -2.4 1 -2.5 -1.1 -2.7 -5.1 -9 -10.9 -3.9 -3.6 -7.4 -4.6 -6.1 -2 -2.4 -.2 -2.4 .6 -8.5 5.6 -8.5 2.8 -3.5 2.6 -1.4 2.5 -.2 2.4 1.5 3.2 6.9 5.2 1.6 2.2 2 9.9 2.8 7.1 2.4 8.6 5.6 56.8 1 3.6 2.2 3.6 -3.8 0 -2.3 -6 -5.3 -49.5 -1 -6.7 -1.9 -5.4 -1.7 -2.9 -3.7 -3.4 -13.3 -7.1 -8.4 -5.9 -5.1 -4.9 -5.9 -7.3 0 -65.2 7.3 -4.8 3.6 -1.3 4.8 -1 4.9 0 3.6 .7 3.7 1.2 3.6 2 2 3.3 2.1 10.8 4.4 12.9 3.8 13.7 1.2 2.4 4.7 4.3 11.7 5.4 6.5 3.6 4.6 3.6 6.3 6.8 2.4 1.8 2.4 .6 1.3 -.8 .7 -2.3 1.3 -14.5 -1.3 -37.5 .3 -8.4 2.4 -7.3zM165.5 424.1l3.9 0 3.9 6 2.4 7.3 .6 4.8 .1 18.8 1 7.8 -.6 6 .8 .8 2.4 -2 1.2 -.2 1.2 1.1 1.3 2.3 1.9 6.5 0 4.8 .9 3.6 2.2 3.6 4.7 3 7.2 1.3 7.3 -1 3.6 -1.5 2.5 -1.8 13.8 -20.5 5.3 -32.6 -.5 -7.2 -3 -10.9 9.2 0 -1.9 21.7 -2.8 18.1 -8 38.1 -1.2 2.5 -1.2 .5 -2.5 -1.2 -4.7 -3.6 -2.5 -.7 -10.9 1.6 -12.2 -.4 -1.9 .7 -1.4 1.2 -3.1 4.8 -2 7.3 -.7 21.7 .1 33.8 1.1 30.2 -12.2 0 -1.9 -33.8 .2 -48.3 -.8 -6 -1.7 -4.9 -2.3 -2.5 -3.7 -.2 -19.4 3.6 -3.3 1.5 -4 5.2 -7.2 15.1 -6.4 7.5 -2.1 4.1 -2.4 13.5 -4.3 39.2 -2.3 6 -3.8 0 1.6 -2.4 1.3 -3.6 5 -50.2 1.2 -6.1 2.5 -5.8 2.4 -3.3 6.1 -6 5.7 -10.7 4 -4.6 3.6 -1.3 10.9 -1 7.3 -2.1 4.9 -3.1 2.7 -4.9 1.1 -7.2 5.8 -19.3 .9 -26.6 -.3 -3.6 -1.3 -4.8 -2.3 -4.9 -4 -4.8zM274.6 424.1l0 5.4 -.7 -5.4zM226.1 600l1.2 -.4 .5 .8 -1.8 0z" fill="#c8f0ff" stroke="#c8f0ff" stroke-width=".5"/>
<path d="M32.1 424.1l44.2 0 -3.2 3.6 -2.5 4.8 -1.2 4.9 -.2 4.8 .8 4.8 8.3 26.6 3.7 4.8 3.2 2.5 14.9 7.2 5.6 3.6 4 3.6 2.4 .6 1.2 -.5 1.2 -2 1.7 -7.7 -.9 -26.6 -3.8 -25.3 -2.3 -4.9 -4.3 -4.8 19.3 0 -2.9 3.6 -2.7 4.8 -1.9 7.3 1.1 44.7 -1 12.1 -1 4.7 -1.3 .8 -2.4 -.6 -3.6 -2.9 -5.1 -5.7 -3.4 -2.7 -7.7 -4.5 -11.7 -5.4 -4.7 -4.3 -1.2 -2.4 -3.8 -13.7 -4.4 -12.9 -2.1 -10.8 -2 -3.3 -3.6 -2 -3.7 -1.2 -3.6 -.7 -4.9 0 -4.8 1 -3.6 1.3 -7.3 4.8 0 -12zM170.3 424.1l26.6 0 -4.6 4.8 -3 6.1 -4 28.9 3.5 19.4 -.1 4.8 .9 3.6 1.4 2.4 2.4 2.1 3.6 1.4 3.6 .4 6.1 -.8 4.8 -2.7 14.2 -20.9 4.7 -26.6 .5 -6 -.6 -4.8 -1.6 -4.9 -2 -3.6 -3.1 -3.6 6 0 3 10.9 .5 7.2 -5 31.4 -2.5 4.8 -8.6 12.1 -2 3.6 -3.5 3 -4.8 1.8 -6.1 .7 -5 -.6 -4.7 -1.8 -2.2 -1.9 -2.2 -3.6 -.9 -3.6 0 -4.8 -1.9 -6.5 -1.3 -2.3 -1.2 -1.1 -1.2 .2 -2.4 2 -.8 -.8 .6 -6 -1 -7.8 -.3 -21.2 -2.3 -8.5 -4.4 -7.2zM30.9 501.4l5.9 7.2 5.1 4.9 8.4 5.9 13.3 7.1 3.7 3.4 1.7 2.9 1.9 5.4 1 6.7 5.3 49.5 2.3 6 -48.6 0zM159.4 504.8l3.6 -.2 2.5 1.1 2.1 4.1 1.4 6.1 -.1 51.9 1.9 32.6 -5.9 0 -.9 -31.4 0 -41 -.4 -10.9 -1 -3.6 -2 -3.3 -2.2 -1.6 -2.6 -.3 -8.5 1.5 -3.1 1.2 -3 2.3 -6 9.4 -5.6 12.5 -1.4 6 -.8 10.9 -.3 48.3 -17.9 0 2.3 -6 4.3 -39.2 1.6 -10.3 2 -6 7.3 -8.8 7.2 -15.1 3.7 -4.9 3.6 -1.8z" fill="#f4f8fc" stroke="#f4f8fc" stroke-width=".5"/>
<path d="M75.7 424.6l.6 -.5 5 0 -4.8 3.6 -3.4 4.8 -1.6 4.9 -.2 6 .7 3.6 8.5 26.6 3.7 4.7 3.7 2.7 21.8 9.3 1.2 0 1.6 -1 1.4 -2.4 .5 -2.4 .3 -8.5 -1 -16.9 -3.3 -19.3 -1.6 -6 -4 -6 -5 -3.7 5.1 0 2.5 2.4 2.5 3.6 2 4.9 1.8 12 1.6 12.1 .8 15.7 .1 10.9 -1.7 7.7 -1.2 2 -1.2 .5 -2.4 -.6 -4 -3.6 -4.5 -3 -16 -7.8 -3.2 -2.5 -3.7 -4.8 -8.3 -26.6 -.8 -4.8 .2 -4.8 1.2 -4.9 2.5 -4.8zM195.8 425l1.1 -.9 5.7 0 -3.2 1.8 -3.4 3 -3.7 6.1 -1 3.6 -3.6 26.6 3.4 19.3 0 4.8 1.7 3.6 3.2 2.4 3.4 .9 3.7 0 3.6 -.8 2.4 -1.4 14.8 -20.4 5.1 -29 .1 -4.8 -1 -4.8 -2.4 -4.9 -3.2 -3.6 -3.8 -2.4 4.9 0 2.2 2.4 3.4 6 1.5 6.1 -.1 7.2 -5.4 29 -11.2 15.7 -2 3.6 -3.4 2.5 -5.5 1.4 -4.9 -.2 -3.6 -1 -2.5 -1.5 -1.9 -2.4 -1.3 -3.6 -.1 -6 -3.5 -19.4 3.6 -27.7 2.5 -6.1zM153.3 508.5l4.9 .1 2.1 1.2 1.7 2.5 1.6 4.8 .4 10.9 0 41 .9 31.4 -4.8 0 -1 -35 -.1 -36.2 -.8 -5.8 -1.2 -4.1 -1.2 -1.8 -1.2 -.7 -2.5 .5 -10.9 7.3 -3.7 4.6 -2.7 6 -1.2 6 -.6 9.7 -.3 49.5 -5.6 0 .3 -47.1 .6 -10.9 1.2 -6 4.7 -11.4 3.7 -6.6 3.5 -4.9 3.8 -2.7z" fill="#dcdcd2" stroke="#dcdcd2" stroke-width=".5"/>
<path d="M79.4 425.2l1.9 -1.1 5.5 0 -5 1.8 -4.8 4 -3 5.1 -1.1 4.8 .4 6 8.3 26.6 3.8 5 4.9 3.5 6.1 2.4 12.1 3 2.4 -1 1.2 -2.1 1 -8.4 -.7 -14.5 -4.2 -22.9 -2 -4.9 -2.8 -3.6 -4.6 -3.3 -4.5 -1.5 5.5 0 1.4 .7 3.6 3 3.5 4.7 1.9 6.1 3.7 21.7 .7 21.8 -.7 4.8 -1.8 2.9 -1.2 .5 -2.4 -.3 -18.6 -7.9 -5.5 -3.7 -3.9 -4.8 -8.5 -26.6 -.8 -4.8 .3 -4.8 1.6 -4.9 2.6 -4zM200.6 425.1l2 -1 16.1 0 1.3 .7 3.7 2.8 2.8 3.7 1.9 4.9 .8 4.8 -.4 4.8 -4.9 27.8 -13.7 19.3 -3.5 2.5 -4.9 .9 -6 -1 -2.4 -1.8 -1.4 -1.8 -1.1 -3.4 .2 -3.8 -3.4 -19.3 4.2 -29 3.1 -6.1 2.2 -2.4zM205 425.3l-3.2 1.4 -3.6 2.8 -2.4 3 -1.8 3.7 -4.4 29 2.5 14 1.8 6.5 .3 3.6 1.5 2.4 1.3 .9 3.6 .9 3.7 -.4 2.9 -1.4 8 -9.1 6.7 -9 5.6 -30.2 -.2 -4.8 -1 -3.6 -1.9 -3.7 -3.2 -3.3 -3.6 -2.2 -3.6 -1.1 -4.9 -.3zM153.3 516.8l2.5 .7 1.2 1.8 1.2 4.1 .8 5.8 .1 36.2 1 35 -27.4 0 .2 -45.9 .4 -10.8 .9 -6.1 2.2 -6.3 3.6 -5.5 3.6 -3.1zM145.4 529.2l-1.1 1.2 -1 2.4 -1.4 7.2 -.9 33.8 .7 2.5 1.9 2.3 3.7 .8 3.5 -1.9 1.4 -3.7 -.3 -36.2 -1 -7.4 -1.2 -1.4 -1.2 -.4z" fill="#b4b49a" stroke="#b4b49a" stroke-width=".5"/>
<path d="M84.2 424.8l2.6 -.7 7.5 0 3.3 1 3.6 2 2.4 2.1 3.8 5.8 1.8 7.2 3.2 18.1 .7 12.1 -.7 9.7 -.9 2.4 -1.8 1.6 -4.9 -.5 -9.7 -2.7 -4.8 -2 -4.9 -3.5 -3.8 -5 -8 -25.4 -.8 -6 .8 -4.8 2.3 -4.9 3.5 -3.7zM84.4 426.5l-4.1 2.4 -3.3 3.6 -1.8 3.7 -.8 4.8 .5 4.8 7.9 25.4 3.9 5.4 4.8 3.4 7.3 2.1 6 .6 2.5 -.3 2.2 -1.5 1.2 -2.5 .6 -8.4 -.4 -9.4 -4.8 -24.8 -3.7 -5.5 -4.8 -3.4 -6.1 -1.5 -3.6 .2zM205.5 425.1l3.6 -.7 4.9 .3 3.6 1.1 3.6 2.2 3.2 3.3 1.9 3.7 1 3.6 .2 4.8 -5.6 30.2 -6.7 9 -8 9.1 -2.9 1.4 -3.7 .4 -3.6 -.9 -1.3 -.9 -1.5 -2.4 -.3 -3.6 -1.8 -6.5 -2.5 -14 3.6 -25.4 1.3 -4.8 2.1 -3.7 2.2 -2.4 3 -2.2zM207.7 426.5l-3.4 1.1 -3.7 2.2 -2.6 2.7 -2 3.7 -.9 3.6 -3.5 25.4 1.8 9 2.4 6.4 1.2 1.4 2.4 1.3 7.3 1.4 2.4 -.5 3.7 -2.5 4.8 -5.2 2.9 -4.1 5.4 -30.2 -1 -6.2 -1.8 -3.5 -2.1 -2.4 -2.2 -1.6 -3.6 -1.6 -3.7 -.7zM146.1 528.7l2.4 -.3 1.2 .4 1.3 1.6 .5 2.4 .7 39.8 -.2 2.5 -1.2 2.4 -2.3 1.6 -2.4 .3 -2.5 -.8 -1.2 -1.1 -1.2 -2.4 -.2 -2.5 .9 -32.6 1.8 -8.4 1.2 -2z" fill="#96966e" stroke="#96966e" stroke-width=".5"/>
<path d="M85.4 426.1l6.1 -.7 6.1 1.5 4.8 3.4 2.4 3.1 1.4 2.8 4.7 24.4 .4 9.4 -.6 8.4 -1.2 2.5 -2.2 1.5 -2.5 .3 -6 -.6 -7.3 -2.1 -4.8 -3.4 -3.9 -5.4 -7.9 -25.4 -.5 -4.8 .8 -4.8 2.7 -4.9 3.9 -3.5zM85.9 427.7l-4.1 2.1 -2.8 2.7 -2.1 3.7 -1 4.8 .6 4.8 8 25.4 3.9 4.8 4.3 2.7 6.1 1.1 6 -.9 2.5 -1.7 1.2 -2.2 .9 -7.4 -.5 -9.7 -3.8 -20.5 -2.7 -4.9 -4.8 -3.9 -6.1 -1.6zM207.9 426.5l3.6 -.3 3.7 .7 3.6 1.6 2.2 1.6 2.1 2.4 1.8 3.5 1 6.2 -5.4 30.2 -2.9 4.1 -4.8 5.2 -3.7 2.5 -2.4 .5 -7.3 -1.4 -2.4 -1.3 -1.2 -1.4 -2.4 -6.4 -1.8 -9 3.5 -25.4 .9 -3.6 2 -3.7 2.6 -2.7 3.7 -2.2zM206.4 428.9l-3.3 1.7 -2.4 1.9 -2.9 4.9 -4 29 2 5.8 2.6 3.8 3.4 1.8 6.1 1.1 4.9 -1.6 5.4 -4.9 4.3 -20.5 1.5 -10.9 -1.7 -6 -2.3 -3 -2.3 -1.9 -4.9 -1.7 -3.7 -.1z" fill="#6e6e36" stroke="#6e6e36" stroke-width=".5"/>
<path d="M86.7 427.5l6 -.4 4.9 1.5 4.8 3.9 2.7 4.9 3.8 20.5 .5 9.7 -.9 7.4 -1.2 2.2 -2.5 1.7 -6 .9 -6.7 -1.4 -4.2 -2.9 -3.7 -5.2 -7.7 -24.5 -.6 -4.8 1 -4.8 2.1 -3.7 4 -3.5zM88.1 428.9l-5.1 2.2 -3.5 3.9 -1.8 4.8 .1 4.8 6.1 19.3 2.8 7 2.4 2.8 3.4 2.3 2.6 .6 3.7 -.3 3.4 -1.5 2.6 -2.4 1.4 -2.4 .8 -3.6 .4 -7.3 -2.8 -18.1 -2.2 -5.9 -3.6 -3.8 -4.9 -2.3zM206.7 428.8l6.1 -.4 3.6 1.1 2.4 1.4 3.7 4.4 1.5 5.7 -1.5 10.9 -4.3 20.5 -5.4 4.9 -4.9 1.6 -6.1 -1.1 -3.4 -1.8 -2.6 -3.8 -2 -5.8 4 -29 2.9 -4.9 3 -2.4zM207.6 431.3l-4.5 2.7 -2.9 4.6 -2.9 27.8 1.6 4.8 1.7 2.9 1.2 1 3.7 1.1 3.6 -.8 5.6 -4.2 4.1 -15.2 2.8 -13.8 -1 -4.8 -3 -4.1 -4.8 -2.2z" fill="#5e6228" stroke="#5e6228" stroke-width=".5"/>
<path d="M89.1 428.8l6 .6 4.9 2.8 3 4 1.8 6 2.6 16.9 -.6 8.5 -1.1 3.6 -1.9 2.4 -2.6 1.8 -3.6 1.2 -3.7 -.1 -2.4 -.9 -2.4 -1.9 -2.4 -2.8 -2.8 -7 -6.1 -19.3 .2 -6 2.3 -4.8 3.9 -3.5zM86.5 431.3l-3.7 2.5 -2.5 3.6 -.9 3.6 .4 4.8 5.8 18.1 2.5 4.9 2.2 2.5 2.4 1.6 3.7 .2 3.6 -1.2 2.4 -1.7 1.7 -2.6 1.2 -3.7 .4 -4.8 -2.5 -18.1 -1.8 -4.8 -3.8 -3.8 -4.9 -1.8 -3.6 0zM207.9 431.2l4.9 -.1 4.8 2.2 3 4.1 1 4.8 -2.8 13.8 -4.1 15.2 -5.6 4.2 -3.6 .8 -3.7 -1.1 -1.2 -1 -1.7 -2.9 -1.6 -4.8 2.9 -27.8 2.9 -4.6zM208.5 435l-1.8 .6 -2.2 1.8 -1.9 3.6 -2.6 26.6 .6 2.4 1.2 2.2 1.3 .9 3.6 .9 3.4 -1.6 1.5 -2.4 5.5 -18.1 2 -8.5 -.6 -3.6 -2.1 -3 -3.6 -1.9z" fill="#4c5020" stroke="#4c5020" stroke-width=".5"/>
<path d="M86.7 431.3l2.4 -.7 3.6 0 4.9 1.8 3.8 3.8 1.8 4.8 2.5 18.1 -.4 4.8 -1.2 3.7 -1.7 2.6 -2.4 1.7 -3.6 1.2 -3.7 -.2 -2.4 -1.6 -2.2 -2.5 -2.5 -4.9 -6.1 -19.3 .1 -4.8 1.4 -3.6 2 -2.6zM88.9 432.5l-3.5 1.6 -3 3.3 -1.3 3.6 0 3.6 6.2 19.3 4.2 5.5 2.4 1.1 2.5 -.1 4.8 -2.4 1.2 -1.7 1.3 -3.6 .5 -3.6 -2.3 -18.1 -1.4 -3.6 -2.9 -3.2 -3.7 -1.7zM209.1 434.8l3.7 .1 3.6 1.9 2.1 3 .6 3.6 -2 8.5 -5.5 18.1 -1.5 2.4 -3.4 1.6 -3.6 -.9 -1.3 -.9 -1.2 -2.2 -.6 -2.4 2.6 -26.6 1 -2.4 1.9 -2.1zM208.2 437.4l-2.7 2 -1.3 2.8 -2.1 25.4 1 2.8 3.6 1.3 1.2 -.2 1.5 -1.5 5 -15.7 2.9 -10.9 -.9 -3.3 -2.4 -2.4 -2.5 -.8z" fill="#3a4410" stroke="#3a4410" stroke-width=".5"/>
<path d="M89.1 432.5l4.8 0 3.7 1.7 2.9 3.2 1.4 3.6 2.3 18.1 -.5 3.6 -1.3 3.6 -1.2 1.7 -4.8 2.4 -2.5 .1 -2.4 -1.1 -4.2 -5.5 -6.2 -19.3 0 -3.6 1.3 -3.6 3 -3.3zM87.4 435l-2.9 2.4 -1.4 2.4 -.5 2.4 .3 3.6 6.3 18.1 3.5 3.5 1.2 .5 2.5 -.3 2.4 -1 1.8 -1.4 1.9 -4.9 -1.9 -19.3 -1.8 -3.7 -3.7 -2.7 -3.6 -.7zM209.1 437l3.7 .2 2.4 1.4 1.6 2.4 .5 2.4 -2.9 10.9 -5 15.7 -1.5 1.5 -1.2 .2 -2.4 -.6 -1.6 -1.1 -.6 -2.4 .4 -6.1 1.7 -19.3 2.1 -3.6zM207.6 439.8l-1.1 1.2 -.6 2.4 -.7 13.3 .3 3.7 1.2 1.7 1.2 .1 1.2 -.9 2.4 -5 4.1 -12.9 -.7 -2.4 -2.1 -1.9 -2.5 -.4z" fill="#552800" stroke="#552800" stroke-width=".5"/>
<path d="M87.9 434.7l3.6 -.8 4.5 1.1 2.9 2.4 1.7 3.6 1.9 19.3 -1.9 4.9 -1.8 1.4 -2.4 1 -2.5 .3 -1.2 -.5 -3.5 -3.5 -6.3 -18.1 -.3 -3.6 .5 -2.4 2.3 -3.5zM88.7 436.2l-2 1.3 -1.8 2.3 -.8 2.4 .1 2.4 6.5 18.1 2 1.6 2.4 .2 3.7 -1.5 1.7 -2.7 -1 -18.1 -1.5 -3.6 -2.9 -2.4 -3.6 -.7zM207.9 439.5l2.4 -.8 2.5 .4 2.1 1.9 .7 2.4 -4.1 12.9 -2.4 5 -1.2 .9 -1.2 -.1 -1.2 -1.7 -.3 -4.9 .8 -13.3zM210.2 442.2l-.6 1.2 .7 .6 1.2 .1 .4 -.7 -.4 -1.1z" fill="#801a0a" stroke="#801a0a" stroke-width=".5"/>
<path d="M89.1 436l3.6 -.4 2.4 .6 2.9 2.4 1.5 3.6 1 18.1 -1.7 2.7 -3.7 1.5 -2.4 -.2 -2 -1.6 -6.5 -18.1 -.1 -2.4 .8 -2.4 1.8 -2.3zM91.3 437.4l-2.2 .7 -2 1.7 -1 2.4 0 2.4 4.2 10 2.4 3.2 1.2 .5 2.5 -1 1.2 -2.5 .4 -5.3 -.2 -7.3 -1.1 -2.4 -1.2 -1.2 -1.6 -.9zM210.3 442.1l1.2 .2 .4 1.1 -.4 .7 -1.2 -.1 -.7 -.6z" fill="#900808" stroke="#900808" stroke-width=".5"/>
<path d="M91.5 437.4l2.4 .3 1.6 .9 1.2 1.2 1.1 2.4 .2 7.3 -.4 5.3 -1.2 2.5 -2.5 1 -1.2 -.5 -2.4 -3.2 -4.2 -10 0 -2.4 1 -2.4 2 -1.7z" fill="#a80000" stroke="#a80000" stroke-width=".5"/>
</g>
<line x1="56.6" y1="447.5" x2="56.6" y2="490.4" stroke="#111" stroke-width="1.4" stroke-dasharray="1.3 1.7" fill="none"/>
<line x1="33.9" y1="490.4" x2="56.6" y2="490.4" stroke="#111" stroke-width="1.4" stroke-dasharray="1.3 1.7" fill="none"/>
<line x1="56.6" y1="521.3" x2="56.6" y2="596.6" stroke="#111" stroke-width="1.4" stroke-dasharray="1.3 1.7" fill="none"/>
<line x1="33.9" y1="521.3" x2="56.6" y2="521.3" stroke="#111" stroke-width="1.4" stroke-dasharray="1.3 1.7" fill="none"/>
<line x1="33.9" y1="596.6" x2="56.6" y2="596.6" stroke="#111" stroke-width="1.4" stroke-dasharray="1.3 1.7" fill="none"/>
<line x1="85.3" y1="444.7" x2="85.3" y2="490.4" stroke="#111" stroke-width="1.4" stroke-dasharray="1.3 1.7" fill="none"/>
<line x1="109.4" y1="442.3" x2="109.4" y2="490.4" stroke="#111" stroke-width="1.4" stroke-dasharray="1.3 1.7" fill="none"/>
<line x1="85.3" y1="490.4" x2="109.4" y2="490.4" stroke="#111" stroke-width="1.4" stroke-dasharray="1.3 1.7" fill="none"/>
<line x1="85.3" y1="521.3" x2="85.3" y2="596.6" stroke="#111" stroke-width="1.4" stroke-dasharray="1.3 1.7" fill="none"/>
<line x1="109.4" y1="521.3" x2="109.4" y2="596.6" stroke="#111" stroke-width="1.4" stroke-dasharray="1.3 1.7" fill="none"/>
<line x1="85.3" y1="521.3" x2="109.4" y2="521.3" stroke="#111" stroke-width="1.4" stroke-dasharray="1.3 1.7" fill="none"/>
<line x1="85.3" y1="596.6" x2="109.4" y2="596.6" stroke="#111" stroke-width="1.4" stroke-dasharray="1.3 1.7" fill="none"/>
<line x1="138.2" y1="436.7" x2="138.2" y2="490.4" stroke="#111" stroke-width="1.4" stroke-dasharray="1.3 1.7" fill="none"/>
<line x1="162.3" y1="442.7" x2="162.3" y2="490.4" stroke="#111" stroke-width="1.4" stroke-dasharray="1.3 1.7" fill="none"/>
<line x1="138.2" y1="490.4" x2="162.3" y2="490.4" stroke="#111" stroke-width="1.4" stroke-dasharray="1.3 1.7" fill="none"/>
<line x1="138.2" y1="521.3" x2="138.2" y2="596.6" stroke="#111" stroke-width="1.4" stroke-dasharray="1.3 1.7" fill="none"/>
<line x1="162.3" y1="521.3" x2="162.3" y2="596.6" stroke="#111" stroke-width="1.4" stroke-dasharray="1.3 1.7" fill="none"/>
<line x1="138.2" y1="521.3" x2="162.3" y2="521.3" stroke="#111" stroke-width="1.4" stroke-dasharray="1.3 1.7" fill="none"/>
<line x1="138.2" y1="596.6" x2="162.3" y2="596.6" stroke="#111" stroke-width="1.4" stroke-dasharray="1.3 1.7" fill="none"/>
<line x1="191.0" y1="445.6" x2="191.0" y2="490.4" stroke="#111" stroke-width="1.4" stroke-dasharray="1.3 1.7" fill="none"/>
<line x1="215.2" y1="445.6" x2="215.2" y2="490.4" stroke="#111" stroke-width="1.4" stroke-dasharray="1.3 1.7" fill="none"/>
<line x1="191.0" y1="490.4" x2="215.2" y2="490.4" stroke="#111" stroke-width="1.4" stroke-dasharray="1.3 1.7" fill="none"/>
<line x1="191.0" y1="521.3" x2="191.0" y2="596.6" stroke="#111" stroke-width="1.4" stroke-dasharray="1.3 1.7" fill="none"/>
<line x1="215.2" y1="521.3" x2="215.2" y2="596.6" stroke="#111" stroke-width="1.4" stroke-dasharray="1.3 1.7" fill="none"/>
<line x1="191.0" y1="521.3" x2="215.2" y2="521.3" stroke="#111" stroke-width="1.4" stroke-dasharray="1.3 1.7" fill="none"/>
<line x1="191.0" y1="596.6" x2="215.2" y2="596.6" stroke="#111" stroke-width="1.4" stroke-dasharray="1.3 1.7" fill="none"/>
<line x1="243.9" y1="436.0" x2="243.9" y2="490.4" stroke="#111" stroke-width="1.4" stroke-dasharray="1.3 1.7" fill="none"/>
<line x1="268.9" y1="443.3" x2="268.9" y2="490.4" stroke="#111" stroke-width="1.4" stroke-dasharray="1.3 1.7" fill="none"/>
<line x1="243.9" y1="490.4" x2="268.9" y2="490.4" stroke="#111" stroke-width="1.4" stroke-dasharray="1.3 1.7" fill="none"/>
<line x1="243.9" y1="521.3" x2="243.9" y2="596.6" stroke="#111" stroke-width="1.4" stroke-dasharray="1.3 1.7" fill="none"/>
<line x1="268.9" y1="521.3" x2="268.9" y2="596.6" stroke="#111" stroke-width="1.4" stroke-dasharray="1.3 1.7" fill="none"/>
<line x1="243.9" y1="521.3" x2="268.9" y2="521.3" stroke="#111" stroke-width="1.4" stroke-dasharray="1.3 1.7" fill="none"/>
<line x1="243.9" y1="596.6" x2="268.9" y2="596.6" stroke="#111" stroke-width="1.4" stroke-dasharray="1.3 1.7" fill="none"/>
<polyline points="33.9,447.6 46.0,447.0 59.0,446.3 70.2,445.1 76.7,444.4 91.3,443.1 105.5,441.7 118.5,440.5 129.5,438.6 135.0,436.1 139.7,435.5 145.0,435.4 150.2,435.5 154.8,436.5 158.6,439.2 161.7,441.5 166.9,443.6 175.9,444.3 184.8,444.6 200.1,444.7 207.7,444.7 218.7,444.6 224.3,443.3 228.7,441.7 236.5,438.2 241.7,435.5 243.5,434.9 245.4,435.5 252.5,439.1 264.5,441.6 271.6,442.8" fill="none" stroke="#000" stroke-width="1.7" stroke-linejoin="round"/>
<polygon points="137.4,436.0 140.0,430.7 142.6,436.0" fill="#000"/>
<polygon points="142.4,435.9 145.0,430.7 147.6,435.9" fill="#000"/>
<polygon points="147.6,436.0 150.2,430.7 152.8,436.0" fill="#000"/>
<polygon points="208.5,445.2 210.7,440.5 212.9,445.2" fill="#000"/>
<line x1="33.9" y1="416.2" x2="33.9" y2="603.4" stroke="#222" stroke-width="1.3"/>
<line x1="271.6" y1="416.2" x2="271.6" y2="597.4" stroke="#222" stroke-width="1.3"/>
<line x1="33.9" y1="597.4" x2="271.6" y2="597.4" stroke="#333" stroke-width="1.3"/>
<line x1="28.3" y1="446.7" x2="33.9" y2="446.7" stroke="#333" stroke-width="1.1"/>
<line x1="271.6" y1="446.7" x2="276.9" y2="446.7" stroke="#333" stroke-width="1.1"/>
<text x="26.6" y="450.5" font-size="10.50" text-anchor="end" font-weight="normal" fill="#1a1a1a" stroke="#1a1a1a" stroke-width="0.22" font-family="Liberation Sans, sans-serif" >0</text>
<line x1="28.3" y1="522.0" x2="33.9" y2="522.0" stroke="#333" stroke-width="1.1"/>
<line x1="271.6" y1="522.0" x2="276.9" y2="522.0" stroke="#333" stroke-width="1.1"/>
<text x="26.6" y="525.8" font-size="10.50" text-anchor="end" font-weight="normal" fill="#1a1a1a" stroke="#1a1a1a" stroke-width="0.22" font-family="Liberation Sans, sans-serif" >-5</text>
<line x1="28.3" y1="597.4" x2="33.9" y2="597.4" stroke="#333" stroke-width="1.1"/>
<line x1="271.6" y1="597.4" x2="276.9" y2="597.4" stroke="#333" stroke-width="1.1"/>
<text x="26.6" y="601.2" font-size="10.50" text-anchor="end" font-weight="normal" fill="#1a1a1a" stroke="#1a1a1a" stroke-width="0.22" font-family="Liberation Sans, sans-serif" >-10</text>
<line x1="33.9" y1="597.4" x2="33.9" y2="603.2" stroke="#333" stroke-width="1.1"/>
<text x="33.9" y="613.8" font-size="10.50" text-anchor="middle" font-weight="normal" fill="#1a1a1a" stroke="#1a1a1a" stroke-width="0.22" font-family="Liberation Sans, sans-serif" >0</text>
<line x1="109.4" y1="597.4" x2="109.4" y2="603.2" stroke="#333" stroke-width="1.1"/>
<text x="109.4" y="613.8" font-size="10.50" text-anchor="middle" font-weight="normal" fill="#1a1a1a" stroke="#1a1a1a" stroke-width="0.22" font-family="Liberation Sans, sans-serif" >5</text>
<line x1="185.0" y1="597.4" x2="185.0" y2="603.2" stroke="#333" stroke-width="1.1"/>
<text x="185.0" y="613.8" font-size="10.50" text-anchor="middle" font-weight="normal" fill="#1a1a1a" stroke="#1a1a1a" stroke-width="0.22" font-family="Liberation Sans, sans-serif" >10</text>
<line x1="260.5" y1="597.4" x2="260.5" y2="603.2" stroke="#333" stroke-width="1.1"/>
<text x="260.5" y="613.8" font-size="10.50" text-anchor="middle" font-weight="normal" fill="#1a1a1a" stroke="#1a1a1a" stroke-width="0.22" font-family="Liberation Sans, sans-serif" >15</text>
<text x="35.9" y="425.4" font-size="10.10" text-anchor="start" font-weight="bold" fill="#1a1a1a" font-family="Liberation Sans, sans-serif" >A1</text>
<text x="266.7" y="425.7" font-size="10.10" text-anchor="end" font-weight="bold" fill="#1a1a1a" font-family="Liberation Sans, sans-serif" >B1</text>
<text x="144.5" y="424.5" font-size="10.50" text-anchor="middle" font-weight="normal" fill="#1a1a1a" stroke="#1a1a1a" stroke-width="0.22" font-family="Liberation Sans, sans-serif" >Cer</text>
<text x="210.4" y="435.8" font-size="10.50" text-anchor="middle" font-weight="normal" fill="#1a1a1a" stroke="#1a1a1a" stroke-width="0.22" font-family="Liberation Sans, sans-serif" >Lc</text>
<rect x="37.6" y="571.8" width="61.2" height="23.0" fill="#ffffff" fill-opacity="0.6"/>
<text x="38.5" y="581.7" font-size="10.20" text-anchor="start" font-weight="normal" fill="#333" stroke="#333" stroke-width="0.22" font-family="Liberation Sans, sans-serif" >Vp/Vs ratio,</text>
<text x="38.5" y="592.9" font-size="10.20" text-anchor="start" font-weight="normal" fill="#333" stroke="#333" stroke-width="0.22" font-family="Liberation Sans, sans-serif" >Section 1</text>
<clipPath id="cp21"><polygon points="293.7,446.5 299.7,445.1 305.3,444.2 314.9,443.7 325.4,443.2 339.0,443.3 351.7,443.4 363.2,442.9 370.8,442.1 376.8,440.6 382.8,440.1 390.4,440.4 398.0,440.7 402.5,440.1 411.1,437.4 415.9,436.3 422.1,436.1 429.7,435.9 437.2,435.8 441.8,435.8 448.1,438.9 454.6,441.3 459.9,442.3 467.5,443.2 478.0,443.7 488.6,444.1 496.3,444.6 512.5,445.3 520.3,444.9 520.3,597.4 293.7,597.4"/></clipPath>
<g clip-path="url(#cp21)">
<path d="M407 427.5l6.1 0 3.6 1.2 2.4 1.5 4.1 4.8 1.8 6 -1 30.2 .5 14.5 -.5 3.6 -1.5 3.6 -2.1 2.6 -3.7 2.2 -4.8 1.1 -6.1 -.5 -4.8 -2 -3.7 -4 -1.6 -5.4 .4 -14.5 -.9 -32.6 1.7 -4.8 2.8 -3.7 3.7 -2.6zM518.5 431.1l4.9 .3 0 62.9 -6.1 7.5 -4.8 4.4 -3.7 2.1 -3.6 .2 -5.1 -2.3 -3.2 -2.4 -.7 -1.2 0 -2.4 1.7 -3.6 7.8 -10.9 4.3 -7.3 -.7 -1.2 .1 -37.4 .8 -2.4 2.3 -3.2 2.4 -1.8zM313.7 483l1.2 -.4 .8 1.9 -1.4 2.4 0 1.2 3 7.9 .6 4.2 -.2 3.6 -1.2 3.6 -1.6 1.7 -4.8 .5 -2.5 -1.4 -1.2 -2.2 -.6 -3.4 .2 -4.8 1.6 -5.7 1.3 -2.1 3.7 -3.1 -.6 -2.4z" fill="#050a6e" stroke="#050a6e" stroke-width=".5"/>
<path d="M407 426.4l3.7 -.2 3.6 .5 3.6 1.5 2.5 1.7 4 5.1 1.7 6 -1.2 31.4 .5 13.3 -.6 4.8 -1.7 3.6 -2.7 2.9 -3.7 1.8 -4.8 .9 -7.3 -.7 -5.2 -2.4 -3 -3.7 -1.6 -6 .4 -13.3 -1.2 -31.4 .4 -3.6 1.3 -3.6 2.8 -4 3.7 -2.8zM406.1 427.7l-3.9 1.7 -3.7 3.1 -2.2 3.7 -1.1 3.6 .9 32.6 -.4 14.5 1.6 5.4 3.7 4 4.8 2 6.1 .5 4.8 -1.1 3.7 -2.2 2.1 -2.6 1.5 -3.6 .5 -3.6 -.5 -14.5 1 -30.2 -1.8 -6 -4.2 -4.9 -5.9 -2.6 -3.7 -.3zM518.5 430.1l4.9 .2 0 1.1 -4.9 -.3 -3.9 1.4 -3.3 3.1 -1.9 4.2 -.1 37.4 .7 1.2 -4.3 7.3 -7.8 10.9 -1.7 3.6 0 2.4 2 2.4 4.1 2.4 2.9 1.1 2.4 .1 3.7 -1.5 3.6 -2.9 8.5 -9.9 0 2.8 -7.3 8.9 -6.1 4.8 -3.6 .7 -7.3 -1.8 -6 2.7 -2.5 .1 -1.2 -.8 -1 -1.9 -.2 -2.4 .9 -2.4 2.8 -2.9 2.3 -4.3 9.6 -12.1 4.7 -7.3 -.4 -36.2 .5 -3.6 1.4 -3 2.5 -2.8 2.4 -1.6zM310.1 438l1.2 -.1 .6 .7 1.8 13.3 .3 7.2 -.7 10.9 4.2 8.4 1 6.1 .1 4.8 2.1 13.3 -.6 7.2 -2 4.9 0 16.9 -2 29.5 -1.2 7.5 -1.2 3 -1.2 .5 -1.2 -.6 -1.2 -1.5 -2 -9.4 -1.7 -18.8 -1 -22.3 .2 -4.8 -2 -4.9 -.7 -6 .5 -6 2.5 -13.3 2.4 -8.5 -1.7 -13.3 -.2 -7.2 1.2 -9.7 1.3 -5.6zM313.4 483.3l-1.4 1.2 .6 2.4 -3.7 3.1 -1.3 2.1 -1.8 6.9 0 3.6 .6 3.4 1.2 2.2 2.5 1.4 4.8 -.5 1.6 -1.7 1.2 -3.6 .2 -3.6 -.6 -4.2 -3 -7.9 0 -1.2 1.4 -2.4 -.8 -1.9zM358.5 521.4l2.5 -.5 2.4 .8 2 2.6 .4 2.4 -2 41.1 -1.6 2.2 -1.2 .3 -2.5 -1.2 -.6 -1.3 -2.8 -39.8 .4 -3.7 .7 -1.2z" fill="#0a3296" stroke="#0a3296" stroke-width=".5"/>
<path d="M408.2 425.2l3.7 0 3.6 .8 5.3 2.9 2.5 2.4 1.9 3 1.3 3.1 .6 3.6 -1.2 31.4 .5 14.5 -.7 4.8 -1.7 3.6 -2.4 2.5 -3.7 1.8 -6 1.1 -7.3 -.7 -6.1 -2.5 -2.1 -2.2 -1.4 -2.4 -1.3 -6 .5 -13.3 -1.2 -31.4 .4 -3.6 1.8 -4.8 3.3 -4.2 4.9 -3.1zM406.7 426.5l-4.5 1.7 -3.7 2.8 -2.8 4 -1.3 3.6 -.4 3.6 1.2 31.4 -.4 13.3 1.6 6 3 3.7 5.2 2.4 7.3 .7 4.8 -.9 3.7 -1.8 2.7 -2.9 1.7 -3.6 .6 -4.8 -.5 -13.3 1.2 -31.4 -.7 -3.6 -1.4 -3.2 -2.1 -2.9 -2.8 -2.3 -6 -2.6zM516.1 429.7l4.8 -.7 2.5 .3 0 1 -4.9 -.2 -3.8 1.2 -3.4 2.7 -2.7 4.6 -.5 3.6 .4 36.2 -4.7 7.3 -9.6 12.1 -2.3 4.3 -2.8 2.9 -.9 2.4 .2 2.4 1 1.9 2.5 1 7.2 -3 7.3 1.8 2.4 -.3 2.5 -1.1 3.6 -2.9 8.5 -10.1 0 3.6 -7.3 9.5 -3.6 3.2 -2.5 1.3 -4.8 .6 -6.1 -.6 -8.5 2.8 -2.4 -.1 -4.8 -1.3 -3.7 52.8 -2.4 19.4 -1.2 4.3 -2.4 3.8 -3.7 1.5 -6 -.1 -2.4 -1.1 -2.5 -3.4 -1.2 -4.1 -.8 -5.7 -1.7 -47.1 -.1 -13.3 .4 -3.6 1.8 -3.6 2.3 -2.4 3 -1.7 3.6 -1.1 3.6 -.2 3.4 .5 9.1 3.7 1.6 -7.3 1.7 -3.6 13.3 -14.6 6.4 -8.3 2.3 -3.7 -.7 -1.2 .2 -36.2 1.3 -3.6 1.6 -2.4 2.6 -2.5zM310.1 433.3l2.4 -.1 1.7 .6 1.4 1.2 1.2 2.4 .8 32.6 1.8 9.6 1 9.7 2.6 12.1 .6 6 -.6 7.3 .4 7.2 -1.3 62.8 -.7 6.1 -1.4 4.8 -1.4 2.6 -2.7 2.2 -8.2 0 -1.3 -.8 -2.8 -4 -1.7 -7.3 -1.2 -73.6 -.6 -8.5 5.3 -30.2 -.5 -19.3 .7 -18.1 1.7 -3.6zM309.5 438.6l-1.9 7.2 -1.2 10.9 .2 6 1.7 13.3 -2.4 8.5 -2.5 13.3 -.5 6 .7 6 2 4.9 -.2 4.8 1 22.3 1.7 18.8 2 9.4 1.2 1.5 1.2 .6 1.2 -.5 1.2 -3 1.2 -7.5 2 -29.5 0 -16.9 2 -4.9 .6 -7.2 -2.1 -13.3 -.1 -4.8 -1 -6.1 -4.2 -8.4 .6 -14.5 -1.7 -15.7 -.9 -1.9 -1.2 .1zM353.7 508.6l3.6 -.6 2.5 .3 4.3 1.5 2.9 2 1.9 2.9 1.2 8.4 -.7 64 -1 6.1 -1.4 3.1 -2.4 2.2 -2.4 .6 -7.3 0 -3.3 -1.1 -1.8 -2.4 -1.2 -6.1 -.5 -14.4 -.2 -45.9 -.8 -9.7 .6 -4.8 1.2 -2.4 2.4 -2.5zM357.5 521.9l-1.4 1.4 -1 2.2 .7 13.3 2.1 29 .6 1.3 2.5 1.2 1.2 -.3 1.6 -2.2 2 -41.1 -.4 -2.4 -2 -2.6 -2.4 -.8z" fill="#0a64be" stroke="#0a64be" stroke-width=".5"/>
<path d="M404.6 424.9l3.6 -.8 4.9 .2 3.6 1 3.7 1.9 2.4 2 2.7 3.3 1.7 3.7 .9 3.6 -1.2 32.6 .6 14.5 -.4 4.8 -1.1 3.6 -2 2.8 -3.6 2.1 -4.9 1.2 -8.5 .1 -4.8 -.9 -3.7 -1.4 -2.4 -1.6 -1.8 -2.3 -1.5 -4.8 .4 -16.9 -1.3 -31.4 .4 -3.6 1.7 -4.8 2.5 -3.7 3.3 -2.9zM407.6 425.3l-5.4 1.7 -3.7 2.6 -3.3 4.2 -1.8 4.8 -.4 3.6 1.2 31.4 -.5 13.3 1.3 6 1.4 2.4 2.1 2.2 6.1 2.5 7.3 .7 6 -1.1 3.7 -1.8 2.4 -2.5 1.7 -3.6 .7 -4.8 -.5 -14.5 1.2 -31.4 -.6 -3.6 -1.3 -3.1 -1.9 -3 -2.5 -2.4 -2.9 -1.9 -3.6 -1.4zM516.1 428.6l6.1 -.5 1.2 .2 0 1 -4.9 -.2 -4.8 1.7 -3.7 3.1 -2.4 4.7 -.5 3.6 0 33.8 .5 1.7 -7.3 10.1 -10.7 12.4 -3.8 3.6 -1.7 3.6 -1.6 7.3 -10 -3.9 -3.7 -.3 -3.9 .5 -3.3 1.3 -3.1 2.4 -2.4 3.6 -.8 3.6 1.2 50.7 1.4 16.6 1.2 4.1 2.6 3.5 3.5 1.2 6.1 -.4 2.4 -1.2 2.1 -3.2 1.5 -4.9 1 -6 2.7 -28.5 2.4 -37.7 4.8 1.3 2.4 .1 8.5 -2.8 6.1 .6 4.8 -.6 2.5 -1.3 3.6 -3.2 7.3 -9.5 0 6.8 -1.7 4.8 -.6 3.6 -.5 15.7 -.9 8.3 -2.1 5 -5.1 4.5 -3 3.9 -3.6 8.5 -1.7 8.4 -1.4 21.8 -1.2 2.5 -1.3 .7 -1.2 -.2 -1.3 -1.8 -.4 -6.1 .5 -6.1 4.2 -25.3 3.9 -30.2 -.6 -2.4 -1.8 -2.4 -2 -1.3 -2.5 -.5 -3.6 .8 -3.8 2.2 -1.8 2.4 -.8 2.4 -7.5 60.4 -1.8 8.5 -1.9 4.8 -23.3 0 -2.7 -2 -6.5 -2.8 -2 -2.6 -1.4 -4.7 -.6 -12 1.2 -50.8 -1 -12 .4 -3.7 1.4 -1.6 3.6 -1.3 13.4 -.3 18.1 -1.9 9.7 -6.8 9.7 -9.4 8.7 -11.3 -.5 -1.2 0 -33.8 .5 -3.6 1.5 -3.6 1.9 -2.6 2.5 -2zM311.3 431.3l2.4 .3 2.4 1.2 1.7 2.2 .7 2.4 1 32.6 2.3 18.1 2.8 9.9 2.4 5.3 1.2 1.5 1.3 .9 2.4 .6 9.7 .1 10.9 -2.7 6 -.2 14.3 5.1 1.8 1.2 .8 1.2 .4 2.5 -.6 12 .7 58 -1.1 9.7 -3 7.2 -24.7 0 -1.1 -6 -.6 -8.5 -.4 -57.9 -1.1 -3.7 -2.3 -3.2 -2.4 -1.4 -3.7 -.6 -3.6 .9 -2.4 1.7 -2 2.6 -1 3.7 -.5 55.5 -1.4 14 -1 2.9 -7.7 0 2.7 -2.2 1.4 -2.6 1.4 -4.8 .7 -6.1 1.3 -62.8 -.4 -7.2 .6 -7.3 -.6 -6 -2.6 -12.1 -1 -9.7 -1.8 -9.6 -.8 -21.8 .2 -9.6 -.6 -2.4 -1.5 -1.9 -3.6 -1.2 -3.7 1.5 -1.2 1.6 -.8 2.4 -.7 18.1 .5 19.3 -2.1 13.3 -2.6 12.1 -.6 6 .6 7.3 1.3 74.8 2.2 7.3 1.8 2.4 1.7 1.2 -8.9 0 -2.1 -1.4 -3.7 -1 0 -91.8 2.5 -1.5 2.4 -4 3.5 -10.2 1.7 -9.6 .7 -8.5 .3 -35 1 -2.4 1.3 -1.7 2.5 -1.5zM353.6 508.6l-2.3 1.2 -2.4 2.5 -1.2 2.4 -.6 4.8 .8 9.7 .2 45.9 .5 14.4 1.2 6.1 1.8 2.4 3.3 1.1 7.3 0 2.4 -.6 2.4 -2.2 1.4 -3.1 1 -6.1 .7 -64 -1.2 -8.4 -1.9 -2.9 -2.9 -2 -4.3 -1.5 -3.7 -.2z" fill="#1490d8" stroke="#1490d8" stroke-width=".5"/>
<path d="M401 425.2l2.4 -1.1 5.4 0 -5.4 1.2 -4.9 2.8 -3.8 4.4 -2.4 6.1 -.4 3.6 1.3 31.4 -.6 13.3 .8 6 1.8 3.7 2.9 2.4 5.3 1.9 6 .8 7.3 -.5 4.9 -1.5 2.8 -1.9 2.1 -3.7 1 -6 -.6 -14.5 1.2 -33.8 -1.9 -6 -3.7 -4.9 -4.6 -3.1 -6.6 -1.7 5.4 0 4.9 2.6 3.5 3.4 2.9 4.9 1.2 4.8 -1.3 35 1.1 23 -.2 1.6 -1.2 1.1 -10.9 2.1 -10.9 -.1 -10.2 -2.3 -2.2 -1.2 -1.6 -2.4 -.6 -7.3 1 -16.9 -1.2 -32.6 1.2 -4.8 1.9 -3.7 3.2 -3.6zM516.1 427.6l6.1 -.5 1.2 .2 0 1 -4.9 -.2 -4.8 1.5 -3.7 2.8 -2.5 3.8 -1.4 6 0 33.8 .5 1.2 -8.7 11.3 -9.7 9.4 -9.7 6.8 -18.1 1.9 -13.4 .3 -3.6 1.3 -1.4 1.6 -.4 3.7 1 12 -1.2 50.8 .6 12 1.4 4.7 2 2.6 6.5 2.8 2.7 2 -15.9 0 -2.1 -6 -.7 -8.5 .8 -62.8 -1.2 -6 -4.8 -12.1 -.6 -3.6 1.4 -1.2 3.4 -.7 10.9 -.8 3.6 .6 9.7 3.6 6.1 .2 19.4 -6.3 3.6 -2 4.9 -3.7 6 -6 6.1 -7.9 -.1 -35 .4 -3.6 1.4 -3.6 2.7 -3.7 2.9 -2.2zM310.1 430l3.6 0 2.4 1 1.9 1.5 1.3 2.5 .6 3.6 0 9.6 2.1 31.4 1.6 9.7 1.3 3.6 2.1 3.5 2.5 1.6 2.4 .5 18.2 .3 6 .7 3.7 1.1 6 3.3 2.4 .7 2.5 -.5 4.8 -2.9 3.7 -1.1 4.8 .4 1.5 .9 .8 1.2 -.1 2.4 -4.2 10.9 -1.6 7.2 .8 62.8 -.8 9.1 -2 5.4 -6.6 0 3 -7.2 1.1 -9.7 -.7 -58 .6 -12 -.4 -2.5 -.8 -1.2 -1.8 -1.2 -14.3 -5.1 -6 .2 -10.9 2.7 -9.7 -.1 -2.4 -.6 -1.3 -.9 -1.2 -1.5 -2.4 -5.3 -2.8 -9.9 -2.3 -18.1 -1 -32.6 -.7 -2.4 -1.7 -2.2 -2.4 -1.2 -2.4 -.3 -2.4 .5 -2.5 1.5 -1.3 1.7 -1 2.4 -.3 35 -.7 8.5 -1.7 9.6 -3.5 10.2 -2.4 4 -2.5 1.5 0 91.8 3.7 1 2.1 1.4 -8.1 0 0 -101.9 3.6 -.5 2.4 -1.8 2 -3.3 1.3 -3.6 2.3 -14.5 .3 -37.4 .8 -2.4 1.8 -2.5 2.4 -1.7zM523.4 507.5l0 92.9 -3.5 0 -1 -3.6 2.7 -10.9 .1 -6 -1 -6.1 -2.5 -6 -2.1 -1.9 -1.2 -.2 -2.6 2.1 -1.2 2.4 -1.2 4.9 -.6 7.2 .5 13.3 -1.1 4.8 -16.1 0 -.4 -1.2 -.9 -6 .3 -8.5 8.3 -55.5 -.3 -3.7 -1.7 -1.4 -1.2 .2 -1.2 1 -1.5 3.9 -7.6 50.7 -2.6 13.3 -2.5 7.2 -3.4 0 1.9 -4.8 1.8 -8.5 6.9 -56.7 1.4 -6.1 1.8 -2.4 1.8 -1.2 3.2 -1.4 2.4 -.4 2.5 .5 2 1.3 2.2 3.6 -.2 6.1 -8.2 55.5 .4 7.3 1.3 1.8 1.2 .2 1.3 -.8 1.4 -3.6 1.3 -21.8 2.4 -9.6 3.3 -6.9 2.5 -3.1 5.1 -4.5 2.1 -4.9 .9 -7.2 .6 -18.1zM334.3 519.3l3.6 0 3.7 1.8 2.3 3.2 1.1 3.7 .4 57.9 .6 8.5 1.1 6 -2.5 0 -1.6 -10.9 -1.4 -61.5 -1.1 -2.5 -1.3 -1.2 -3.7 -.9 -3.6 1.7 -1.6 2.9 -1.6 61.5 -1.9 10.9 -3.2 0 1.6 -6 .7 -8.5 .6 -57.9 1 -3.7 1.8 -2.4 2.6 -1.9z" fill="#10b8f0" stroke="#10b8f0" stroke-width=".5"/>
<path d="M398.5 425.2l1.8 -1.1 3.1 0 -4.9 2.6 -3.5 3.4 -2.8 4.9 -1.2 4.8 1.2 33.8 -1 15.7 .3 6 1 2.6 3.1 2.3 6.6 1.8 8.5 .8 7.2 -.4 6.4 -1 4.1 -1.2 .6 -1.2 -.1 -9.7 -1 -14.5 1.5 -32.6 -.4 -3.6 -1.6 -4.8 -2.3 -3.7 -3.5 -3.4 -4.9 -2.6 3.1 0 4.9 3.6 3.5 4.8 1.8 4.9 .6 4.8 -1.4 35 .9 7.7 1.9 6.8 2.9 2 13.3 .9 8.5 4.8 6.1 1.4 6 -1.2 8.5 -4.9 7.3 -1.4 3.6 -1.3 6.1 -4.2 6 -6.2 4 -5.6 -.5 -1.2 .2 -33.8 1.1 -4.8 3 -4.9 4.4 -3.4 4.8 -1.8 6.1 0 0 1.2 -6.1 0 -4.8 1.8 -3.7 3.1 -2.5 4 -1.2 4.8 .1 36.2 -6.1 7.9 -7.2 7 -7.3 4.7 -19.4 6.3 -6.1 -.2 -9.7 -3.6 -3.6 -.6 -10.9 .8 -3.4 .7 -1.4 1.2 .6 3.6 4.8 12.1 1.2 6 -.8 62.8 .7 8.5 2.1 6 -4.4 0 -1.4 -7.2 -.4 -14.5 .9 -53.2 -.6 -4.8 -1.5 -4.8 -4.2 -7.3 -1.9 -2.1 -2.4 -1.5 -3.7 -.7 -20.6 -.9 -3.6 .6 -3.6 2.9 -4.4 6.6 -2.6 7.2 -.6 6 .9 49.6 -.3 15.7 -1.5 8.4 -4.4 0 2 -5.4 .8 -9.1 -.8 -62.8 1.6 -7.2 4.2 -10.9 .1 -2.4 -.8 -1.2 -1.5 -.9 -4.8 -.4 -3.7 1.1 -4.8 2.9 -2.5 .5 -2.4 -.7 -6 -3.3 -3.7 -1.1 -6 -.7 -18.2 -.3 -2.4 -.5 -2.5 -1.6 -2.1 -3.5 -1.3 -3.6 -1.8 -10.9 -2.2 -42.2 -1.6 -3.7 -3.1 -2.1 -3.6 -.6 -3.7 1 -2.4 1.7 -2.3 3.7 -.5 2.4 -.1 35 -1.7 13.3 -1.4 5 -2.5 4.3 -2.4 1.8 -3.6 .5 0 -4.6 3.6 -.6 2.4 -1.8 1.8 -3.4 1.7 -7.2 .8 -9.7 .1 -32.6 .4 -2.4 1.3 -2.8 2.4 -2.7 2.4 -1.4 3.7 -.8 3.6 .5 2.4 1.1 1.4 1.2 1.5 2.5 .7 4.8 -.1 8.4 1.1 8.5 1.4 24.1 1.8 8.5 1.1 2.4 2 2.3 3.7 1.1 14.5 .4 7.3 1 6.1 2.4 7.2 4.8 1.2 .1 8.5 -5.8 9.7 -3.1 1.2 -.9 1.3 -2.3 2 -12.1 -1.2 -36.2 .3 -3.6 .9 -3.6 1.7 -3.7 2.8 -3.6zM333.1 524.2l3.6 -.7 2.5 .8 1.3 1.2 1.1 2.5 .9 54.3 .8 10.9 1.3 7.2 -3.4 0 -2 -1.9 -3.7 -.3 -2.4 .2 -2.6 2 -3.7 0 1.3 -6 .9 -9.7 1.1 -55.5 .6 -2.5zM496.7 524.3l1.2 -.2 1.2 .6 .8 3.3 -8.3 56.7 -.3 9.7 1.3 6 -11.3 0 2.5 -7.2 1.6 -7.3 8.6 -56.7 1.3 -3.7zM513.7 566.3l2.4 -.4 2.1 1.9 1.8 3.6 1.3 4.9 .3 9.6 -2.7 10.9 1 3.6 -11.2 0 1.1 -4.8 -.5 -13.3 .4 -6 1.6 -6.4z" fill="#28ccfa" stroke="#28ccfa" stroke-width=".5"/>
<path d="M396.1 425.1l1.4 -1 2.8 0 -3.5 2.4 -3.1 3.3 -2.3 4 -1.1 3.6 -.6 4.8 1.2 26.6 -.1 10.8 -2 11 -1.2 2.2 -1.2 .9 -9.7 3.1 -8.5 5.8 -1.2 -.1 -7.2 -4.8 -6.1 -2.4 -7.3 -1 -14.5 -.4 -3.7 -1.1 -2 -2.3 -1.1 -2.4 -1.8 -8.5 -1.4 -24.1 -1.1 -8.5 .1 -8.4 -.7 -4.8 -1.5 -2.5 -1.4 -1.2 -2.4 -1.1 -3.6 -.5 -3.7 .8 -2.4 1.4 -2.4 2.7 -1.3 2.8 -.4 2.4 -.1 32.6 -.8 9.7 -1.7 7.2 -1.8 3.4 -2.4 1.8 -3.6 .6 0 -4.1 3.6 -.7 2.2 -2.2 1.4 -3.7 1.1 -4.8 .7 -10.8 0 -29 .8 -3.6 2.1 -3.7 2.6 -2.3 3.7 -1.6 3.6 -.3 3.6 .8 2.5 1.4 1.9 2 1 2.5 .2 13.2 1.5 9.7 1.1 19.3 1 6.1 1.7 4.8 1.2 1.5 2.5 1.3 15.7 .9 6.1 1.3 5.1 2.2 9.4 6.4 1.2 .2 11 -8.4 6 -3 2.4 -3.2 1.3 -4 .7 -7.3 -1 -35 .9 -4.8 1.5 -3.7 2.4 -3.6zM420.4 424.1l2.2 0 4.1 3.6 3.2 4.8 1.6 4.9 .6 4.8 -1.5 33.8 .7 6.3 1.8 4.6 .9 1.2 2.1 1.3 8.5 .7 4.8 1.4 7.3 5.3 2.4 1.1 3.7 .5 3.6 -.5 2.4 -.9 8.5 -5.9 9.7 -1.9 3.6 -1.4 4.9 -3.5 4.8 -5.1 2.6 -3.2 -.2 -35 1.5 -6 3.4 -5 2.4 -2.1 3.7 -2.1 3.6 -1 3.6 -.3 2.5 .3 0 1.3 -6.1 0 -4.8 1.8 -4.4 3.4 -3 4.9 -1.1 4.8 -.2 33.8 .5 1.2 -4 5.6 -6 6.2 -6.1 4.2 -3.6 1.3 -7.3 1.4 -8.5 4.9 -6 1.2 -6.1 -1.4 -8.5 -4.8 -13.3 -.9 -2.9 -2 -1.9 -6.8 -.9 -7.7 1.4 -35 -.3 -3.6 -1 -3.6 -2.6 -4.9 -3.3 -3.6 -3.6 -2.4zM396.1 503.7l21.8 .5 4.9 .8 2.4 1.5 2.4 2.8 4.1 7.8 1.7 8.4 -.9 59.2 .5 9.7 1.3 6 -3 0 -1.3 -8.4 .7 -65.3 -1.1 -7.2 -3.6 -7.2 -2 -2.5 -3.1 -2.4 -5.4 -1.6 -10.9 -.5 -6.1 .7 -4.2 2.6 -4.8 6.1 -2.4 6 -.7 6 .7 64.1 -1.3 9.6 -3 0 1.3 -6 .5 -8.5 -.7 -62.8 1.4 -6 3 -6.1 4.2 -5.3zM331.9 599l2.4 -.8 3.6 0 1.3 .3 2 1.9 -10.7 0z" fill="#64dcff" stroke="#64dcff" stroke-width=".5"/>
<path d="M393.7 424.7l.6 -.6 3.2 0 -2.9 2.4 -3 3.6 -1.7 3.7 -1.2 4.8 -.3 3.6 1.2 31.4 -.3 6 -1.1 4.9 -1.7 3.6 -1.3 1.2 -6 3 -11 8.4 -1.2 -.2 -9.4 -6.4 -5.1 -2.2 -6.1 -1.3 -15.7 -.9 -2.5 -1.3 -1.2 -1.5 -1.7 -4.8 -1 -6.1 -1.1 -19.3 -1.5 -9.7 -.2 -13.2 -1 -2.5 -1.9 -2 -4.9 -2.1 -4.8 .2 -3.5 1.5 -2.8 2.4 -2.1 3.7 -.8 3.6 -.1 30.2 -.8 10.8 -1.7 6.1 -1.5 2.4 -2.5 1.4 -2.4 .3 0 -4.6 2.4 -.6 2.4 -2.3 1.8 -6.3 .7 -9.6 .1 -27.8 .6 -3.6 2.7 -4.9 3.8 -3 3.7 -1.4 4.8 -.1 3.6 1 2.5 1.6 1.8 1.9 1.1 2.4 -.1 14.5 1.8 9.7 1.4 18.1 1.2 5.7 1.2 2.5 1.3 1.4 2.4 1.1 12.1 1.1 6.1 1.6 7.2 3.7 9.7 6.5 1.2 0 6.9 -5.5 4.1 -4.3 4.8 -3.5 2.4 -3.3 1.1 -4.6 .3 -4.8 -.7 -32.6 1.9 -8.5 2 -3.6zM422.8 424.1l3 0 3 3.2 3.2 5.2 1.4 4.9 .4 4.8 -1.4 30.2 .5 6 1.2 3.7 2.5 2.4 8 2.3 9.4 4.9 3.9 2.9 4.9 1 4.8 -.9 4.2 -3 9.2 -4.8 10.9 -3.3 3.6 -2.4 4.8 -5 1.2 -1.4 -.8 -1.2 .3 -32.6 1.4 -6 1.9 -3.7 2.1 -2.5 6.1 -4.3 1.1 -.4 9.8 0 0 .7 -6.1 0 -4.8 1.6 -4.9 3.6 -3.4 5 -1.5 6 .2 35 -2.6 3.2 -4.8 5.1 -4.9 3.5 -3.6 1.4 -9.7 1.9 -8.5 5.9 -2.4 .9 -3.6 .5 -3.7 -.5 -2.4 -1.1 -6 -4.6 -2.5 -1.2 -3.6 -.9 -8.6 -.8 -2.3 -1.5 -1.2 -1.9 -1.3 -3.8 -.6 -7.3 1.5 -32.6 -.3 -3.6 -1.4 -4.8 -1.9 -3.7zM398.5 506l8.5 -.7 7.3 .4 4.8 .9 3.6 2 2.4 2.4 4.1 7.3 1.5 7.2 -.9 59.2 .4 9.7 1.1 6 -2.6 0 -1.1 -9.6 .6 -64.1 -.6 -5.2 -3 -6.8 -4.7 -4.9 -5.6 -2.2 -7.3 -.6 -6 .8 -4.9 2.8 -4.4 5.3 -2.4 6 -.5 4.8 .7 64.1 -1.2 9.6 -2.5 0 1 -6 .4 -8.5 -.6 -62.8 1.7 -6 2.8 -4.8 3.8 -4.2z" fill="#96e6ff" stroke="#96e6ff" stroke-width=".5"/>
<path d="M304 424.8l1.5 -.7 12.4 0 3.1 1.7 2.8 3.1 .9 3.6 -1.3 4.9 0 9.6 2.6 10.9 2.2 15.4 1.3 3.4 1.2 1.6 2.4 1.3 8.5 2.1 6 2.5 19.4 12.1 1.2 -.1 5.7 -4.5 8 -10.8 2 -3.7 1.4 -8.4 .1 -26.6 .7 -10.9 1.1 -3.6 2.5 -3.6 4.6 0 -2.4 2.4 -2.4 3.6 -1.3 3.7 -.9 4.8 -.3 3.6 .7 32.6 -1 6.1 -1.5 3 -6 4.7 -4.1 4.3 -6.9 5.5 -1.2 0 -9.7 -6.5 -7.2 -3.7 -6.1 -1.6 -12.1 -1.1 -2.4 -1.1 -2.5 -3.9 -1.2 -5.8 -1.4 -18 -1.8 -9.7 .1 -14.5 -1.1 -2.4 -3 -2.8 -3.7 -1.5 -3.6 -.4 -3.7 .6 -3.6 1.9 -3.5 3.4 -1.8 3.7 -.6 3.6 -.1 29 -.9 9.6 -.9 3.7 -1.4 2.4 -1.7 1.3 -2.4 .6 0 -8 1.2 -.5 1.6 -1.9 1.4 -6 .5 -30.2 .5 -3.6 1.5 -3.7 1.7 -2.4zM426.4 424.1l4.1 0 3.3 4.8 1.7 4.9 .7 8.4 -.8 27.8 .6 4.8 1.3 3.6 2.4 2.5 14.6 9.1 3.6 1.5 4.9 .6 4.8 -.6 3.7 -1.3 23 -14 3.5 -2.6 -.6 -1.2 .9 -8.5 .1 -22.9 1.2 -6 3.2 -6.1 3.8 -4 1.2 -.8 6 0 -3.6 1.7 -3.7 3.1 -2.7 3.6 -2 4.9 -.6 3.6 -.3 32.6 .8 1.2 -4.8 5.3 -4.2 3.2 -12.8 4.2 -7.9 4.2 -3 2.4 -3.6 1.3 -6.1 -.4 -12.1 -7.1 -10.9 -3.7 -2.4 -2.9 -1.2 -6.5 1.3 -32.6 -.4 -4.8 -2.6 -7.3 -5 -6zM403.4 507.3l9.7 .1 6 2 4.9 4.5 3.4 6.8 .8 6 -.7 60.4 1.2 13.3 -2.3 0 -1.2 -9.6 .4 -67.7 -2.4 -6 -4.1 -4.7 -4.8 -2.6 -6.1 -.8 -6 1 -4.9 2.9 -3.6 4.4 -2.2 5.8 .3 67.7 -1.1 9.6 -2.4 0 1 -6 .3 -8.5 -.5 -62.8 2 -6 3.3 -4.8 4.1 -3.4z" fill="#c8f0ff" stroke="#c8f0ff" stroke-width=".5"/>
<path d="M291.9 424.1l13.6 0 -3.9 2.3 -2.4 2.4 -1.8 2.5 -1.5 3.7 -.5 3.6 0 21.7 -.6 9.7 -.5 2.7 -1.2 2.9 -2.4 1.6 0 -53.1zM318.6 424.1l71.1 0 -2.5 3.6 -1.1 3.6 -.7 10.9 -.1 26.6 -1 7.2 -1.6 3.6 -8.8 12.1 -5.7 4.5 -1.2 .1 -19.4 -12.1 -6 -2.5 -8.5 -2.1 -2.2 -1.2 -1.1 -1.2 -1.6 -3.9 -2.2 -15.4 -2.6 -10.9 0 -9.6 1.2 -3.6 0 -2.5 -1.7 -3.6 -1.9 -1.9 -3.1 -1.7zM341.6 431.3l-8.5 .2 -3.6 .7 -2.5 1.9 -2.4 3.5 -.2 9.4 5.9 18.2 2.9 4.8 5.4 4.8 22.4 15.7 6 3.6 1.2 -.3 3.7 -2.5 2.3 -3.2 4.4 -8.5 2.1 -6 2 -13.3 1.6 -22.9 -.5 -2.4 -2.2 -2.3 -3.7 -.8zM431.3 424.1l15 0 -4.6 6 -1.9 7.3 0 24.1 1.5 13.3 1.6 4.8 7.4 6.1 6.4 3.6 6.1 .7 3.6 -.1 3.6 -1 7.2 -4.4 5.8 -4.9 1.9 -6 1.7 -12.1 .8 -21.7 -.9 -4.8 -1.5 -3.7 -2.2 -3.6 -3.2 -3.6 28 0 -2.9 2.4 -3 3.6 -1.9 3.7 -1.1 3.6 -.5 3.6 -.1 24.2 -.9 7.2 .6 1.2 -25.3 15.9 -3.7 1.7 -3.6 .8 -4.8 -.1 -4.9 -1.3 -17 -10.6 -2.2 -4 -.9 -6 .8 -27.8 -.3 -6 -1.5 -6.1 -3.9 -6zM403.4 509.6l7.3 -.5 3.6 .7 2.8 1.2 3.3 2.5 2 2.4 2.9 6 .6 4.8 -.8 59.2 .4 8.5 .9 6 -2.3 0 -1.3 -10.9 .6 -62.8 -.3 -3.6 -2 -4.8 -3.2 -3.6 -4.8 -2.7 -4.9 -.7 -4.8 .9 -4.2 2.5 -3.2 3.6 -2 4.8 -.4 3.6 .7 62.8 -1.3 10.9 -2.3 0 .9 -6 .4 -9.7 -.7 -60.4 1.3 -4.8 3 -4.8 4.2 -3.6z" fill="#f4f8fc" stroke="#f4f8fc" stroke-width=".5"/>
<path d="M445.8 424.5l.5 -.4 7.6 0 -3.8 2.4 -3.4 3.6 -2.1 3.7 -1.5 4.8 -.3 3.6 .7 20.5 1.4 13.3 .9 3.6 1.2 1.3 6.1 4.7 4.8 2.1 7.3 .4 4.8 -1.1 3.7 -2 5.2 -4.1 1.2 -1.3 .6 -2.4 1.7 -14.5 .8 -20.5 -.3 -3.6 -1.5 -4.8 -2.2 -3.7 -3.1 -3.3 -4.2 -2.7 7.7 0 4.1 4.8 2.4 4.9 1.4 7.2 -.3 9.7 -1.1 15.7 -2.2 10.8 -.9 2.4 -2.7 2.5 -6.6 4.8 -4.9 2.5 -3.6 .6 -4.8 0 -4.9 -1.2 -8.4 -5.5 -4.2 -3.7 -.5 -1.2 -1.6 -6 -.8 -7.2 -.3 -26.6 .7 -4.8 1.3 -3.7zM342.8 431.3l35.1 .6 3.7 .8 2.2 2.3 .5 2.4 -1.6 22.9 -2 13.3 -2.1 6 -4.4 8.5 -2.3 3.2 -3.7 2.5 -1.2 .3 -6 -3.6 -22.4 -15.7 -5.5 -5 -3.6 -6.5 -5.1 -16.3 .2 -9.4 2.4 -3.5 2.5 -1.9 3.6 -.7zM328.5 436.2l-2.9 2.4 -.4 7.2 3 9 5.3 9.1 8.5 9.7 13 10.9 7.2 4.7 4.8 2.4 2.7 -1.1 2.2 -2.4 2.8 -4.8 3.5 -10.9 3 -20.5 1.4 -14.5 -.8 -1.2 -5.1 -.8 -29.1 -.4 -14.5 .2zM403.4 512.2l6 -.9 6.1 1.7 2.4 1.7 2.5 2.5 2.7 5.9 .3 3.6 -.7 58 .4 9.7 1 6 -2.6 0 -1.5 -10.9 .5 -65.2 -1.4 -3.8 -2.7 -3.4 -4.3 -2.4 -3.9 -.6 -3.6 .7 -3.9 2.3 -2.8 3.6 -1.3 3.6 .5 65.2 -1.6 10.9 -2.5 0 1.1 -7.2 .3 -8.5 -.6 -60.4 1 -3.6 2 -3.6 3 -2.9z" fill="#dcdcd2" stroke="#dcdcd2" stroke-width=".5"/>
<path d="M451.9 425.3l2 -1.2 18 0 3.8 2.4 2.8 2.8 2.9 4.5 1.2 3.6 .6 4.8 -.7 19.3 -.8 9.7 -1.3 7.2 -.3 1.2 -4 3.7 -3.6 2.5 -3.7 1.7 -7.2 .6 -4.9 -.7 -6.9 -4.1 -4 -3.7 -.3 -1.2 -1.9 -13.2 -.7 -25.4 1.1 -4.8 1.9 -3.7 2.9 -3.6zM459 425.3l-4.7 1.8 -3.6 2.8 -3 3.9 -1.5 3.6 -.6 4.8 1.3 30.2 1.4 7.2 3.6 3.2 6 3 8.5 .2 4.9 -1.5 6.3 -4.9 1.8 -13.2 .7 -26.6 -.9 -3.6 -1.8 -3.7 -4.9 -4.8 -6.1 -2.5 -3.6 -.4zM329.5 435.8l4.8 -.6 18.2 -.2 24.2 .4 5.1 .8 .8 1.2 -1.4 14.5 -3 20.5 -3.5 10.9 -2.8 4.8 -2.2 2.4 -2.7 1.1 -4.8 -2.4 -7.2 -4.7 -13 -10.9 -8.5 -9.7 -5.3 -9.1 -3 -9 .4 -7.2 1.4 -1.5zM335 437.4l-5.5 .6 -2.5 1.4 -.6 1.6 -.1 4.8 .7 2.4 4.9 9.6 9.5 12.2 10.2 9.6 5.7 4.4 4.9 2.9 4.8 1.7 1.2 -.6 2.5 -2.2 1.7 -2.5 3.1 -8.5 2.5 -13.3 2.8 -22.9 -.4 -.6 -4.9 -.4zM405.8 514.4l4.9 -.1 4.8 2.1 3 3.1 2 4.8 -.6 60.4 .4 8.5 1.2 7.2 -3.1 0 -1.6 -6 -.8 -7.3 .8 -61.6 -.6 -2.4 -1.9 -2.7 -2.4 -1.7 -3.7 -.7 -3.6 1 -2.2 1.7 -1.5 2.4 -.7 2.4 -.6 10.9 1.5 36.2 0 14.5 -.8 7.3 -1.7 6 -3.1 0 1.3 -7.2 .4 -8.5 -.7 -59.2 .8 -3.6 2.2 -3.6 2.7 -2.3z" fill="#b4b49a" stroke="#b4b49a" stroke-width=".5"/>
<path d="M459.1 425.3l3.7 -.5 3.6 .4 6.1 2.5 4.9 4.8 1.8 3.7 .9 3.6 -.7 26.6 -1.8 13.2 -6.3 4.9 -4.9 1.5 -8.5 -.2 -6 -3 -3.6 -3.2 -1.4 -7.2 -1.3 -30.2 .6 -4.8 1.5 -3.6 3 -3.9 3.6 -2.8zM460.1 427.7l-3.6 1.2 -3.6 2.4 -2.8 3.7 -1.5 3.6 -.4 6.7 1.2 27.1 1.4 7.2 2.3 1.9 4.8 2.2 8.5 .2 2.9 -.6 3.2 -1.6 2.6 -2.1 .3 -1.2 1.5 -12 .8 -25.4 -1.9 -6 -1.7 -2.5 -2.7 -2.4 -5 -2.2zM335.5 437.4l40 .2 4.9 .4 .4 .6 -2.8 22.9 -2.5 13.3 -3.1 8.5 -1.7 2.5 -2.5 2.2 -1.2 .6 -4.8 -1.7 -4.9 -2.9 -5.7 -4.4 -10.2 -9.6 -9.5 -12.2 -4.9 -9.6 -.7 -2.4 .1 -4.8 .6 -1.6 2.5 -1.4zM331.2 439.8l-3 1.2 -.5 3.6 .5 2.6 3.7 7.1 9 12.1 8 8.3 8.4 6.6 3.7 1.9 4.8 1.5 2.4 -1.2 2.4 -2.6 1.3 -2.4 2.4 -8.4 3.6 -24.7 .5 -4.4 -.5 -.9 -27.8 -.8zM407 518.1l3.7 .2 2.6 1.2 2.3 2.4 1.2 3.6 -1 58 .6 8.5 2 8.4 -5.7 0 -2 -1.1 -2.5 -.3 -2.4 .5 -1.4 .9 -5.8 0 1.9 -7.2 .8 -9.7 -1.7 -47.1 .6 -10.9 .7 -2.4 1.5 -2.4 2.2 -1.7zM405.5 532.8l-1.4 2.4 -.2 2.4 1.9 20.6 1.2 5.9 1.2 -2.7 1.2 -7.4 2.1 -17.6 -.7 -2.4 -1.4 -1.5 -2.4 -.5z" fill="#96966e" stroke="#96966e" stroke-width=".5"/>
<path d="M460.4 427.7l6 .2 5 2.2 2.7 2.4 1.7 2.5 1.9 6 -.8 25.4 -1.5 12 -.3 1.2 -2.6 2.1 -3.2 1.6 -2.9 .6 -8.5 -.2 -4.8 -2.2 -2.3 -1.9 -1.4 -7.2 -1.2 -27.1 .4 -6.7 1.5 -3.6 2.8 -3.7 3.8 -2.5zM457.9 431.3l-2.4 1.5 -2.4 2.6 -1.2 2.2 -.9 3.4 .5 22.9 1.1 10.9 1.4 4.8 2.2 1.3 4.2 .8 7.2 -.2 4.3 -1.9 1.6 -6 1 -13.3 .2 -20.5 -2.2 -4.9 -4.5 -3.6 -5.2 -1.1zM331.9 439.7l19.4 -.4 26.6 .8 .5 .9 -.5 4.4 -3.6 24.7 -2.4 8.4 -1.3 2.4 -2.4 2.6 -2.4 1.2 -4.8 -1.5 -3.7 -1.9 -8.4 -6.6 -8.5 -8.9 -8.5 -11.5 -3.7 -7.3 -.5 -2.4 .5 -3.6zM336.5 442.2l-5.8 1 -.8 1.4 4.4 8.9 8.5 11.8 7.3 7.2 7.2 4.7 6.1 1.5 1.2 -.1 2.4 -1.5 2.5 -3.2 2.4 -7.6 1.5 -9.6 1.2 -13.3 -20.9 -1.5zM405.8 532.5l1.2 -.5 2.4 .5 1.4 1.5 .7 2.4 -2.1 17.6 -1.2 7.4 -1.2 2.7 -1.2 -5.9 -1.9 -20.6 .6 -3.6zM407 599.1l3.7 .2 2 1.1 -8.3 0z" fill="#6e6e36" stroke="#6e6e36" stroke-width=".5"/>
<path d="M457.9 431.3l4.9 -1.1 5.2 1.1 4.5 3.6 2.2 4.9 -.2 20.5 -1 13.3 -1.6 6 -4.3 1.9 -7.2 .2 -4.2 -.8 -2.2 -1.3 -1.4 -4.8 -1.1 -10.9 -.5 -22.9 .9 -3.4 1.2 -2.2 2.4 -2.6zM459.5 435l-3 2.4 -1.5 3.6 .4 20.5 .8 8.5 1.8 7.2 1.1 1.7 2.5 .9 2.4 -.9 3.3 -2.9 1.8 -3.6 1.3 -8.5 .5 -21.7 -.8 -3.6 -2.5 -2.9 -3.6 -1.4zM336.7 442.2l17 -.3 20.9 1.5 -1.2 13.3 -1.5 9.6 -2.4 7.6 -2.5 3.2 -2.4 1.5 -1.2 .1 -6.1 -1.5 -7.2 -4.7 -7.3 -7.2 -8.5 -11.8 -4.4 -8.9 .8 -1.4zM345.1 448.2l-3.5 .9 -1 1.6 .7 4.8 2.7 4.9 3.6 4 3.7 2.4 3.6 .9 3.7 -1.3 2 -2.5 1.2 -3.6 -.1 -3.6 -1.4 -3.6 -2.5 -2.4 -2.9 -1.5 -4.8 -1.1z" fill="#5e6228" stroke="#5e6228" stroke-width=".5"/>
<path d="M460.4 434.6l3.6 -.3 3.6 1.4 2.5 2.9 .8 3.6 -.5 21.7 -1.3 8.5 -1.8 3.6 -3.3 2.9 -2.4 .9 -1.2 -.2 -1.8 -1.2 -1.6 -4.8 -1.3 -7.2 -.5 -9.7 .1 -16.9 2.3 -3.6zM460.4 450.7l-1.1 1.2 -.1 1.2 .2 19.3 .3 4.8 1.9 1.3 1.6 -1.3 .1 -1.2 .5 -22.9 -.1 -1.2 -.9 -1.1 -1.2 -.5zM345.2 448.2l4.9 -.1 4.8 1.1 2.9 1.5 2.5 2.4 1.4 3.6 .1 3.6 -1.2 3.6 -2 2.5 -3.7 1.3 -3.6 -.9 -3.7 -2.4 -3.6 -4 -2.7 -4.9 -.7 -4.8 1 -1.6z" fill="#4c5020" stroke="#4c5020" stroke-width=".5"/>
<path d="M461.6 450.3l2.1 1.6 .1 1.2 -.5 22.9 -.1 1.2 -1.6 1.3 -1.2 -.5 -.8 -2 -.4 -22.9 .1 -1.2 1.1 -1.2zM460.8 451.9l-.6 1.2 .2 15.9 .5 7 .7 1.4 .7 -6.2 .3 -18.1 -.5 -1.2z" fill="#3a4410" stroke="#3a4410" stroke-width=".5"/>
<path d="M461.6 451.5l1 1.6 -.3 18.1 -.7 6.2 -.7 -1.4 -.4 -4.8 -.3 -18.1 .6 -1.2z" fill="#552800" stroke="#552800" stroke-width=".5"/>
<polygon points="289.2,476.8 297.5,479.9 298.2,507.0 301.3,537.1 302.8,601.9 289.2,601.9" fill="#ffffff"/>
</g>
<line x1="316.4" y1="444.6" x2="316.4" y2="490.4" stroke="#111" stroke-width="1.4" stroke-dasharray="1.3 1.7" fill="none"/>
<line x1="293.7" y1="490.4" x2="316.4" y2="490.4" stroke="#111" stroke-width="1.4" stroke-dasharray="1.3 1.7" fill="none"/>
<line x1="316.4" y1="521.3" x2="316.4" y2="596.6" stroke="#111" stroke-width="1.4" stroke-dasharray="1.3 1.7" fill="none"/>
<line x1="293.7" y1="521.3" x2="316.4" y2="521.3" stroke="#111" stroke-width="1.4" stroke-dasharray="1.3 1.7" fill="none"/>
<line x1="293.7" y1="596.6" x2="316.4" y2="596.6" stroke="#111" stroke-width="1.4" stroke-dasharray="1.3 1.7" fill="none"/>
<line x1="345.1" y1="444.3" x2="345.1" y2="490.4" stroke="#111" stroke-width="1.4" stroke-dasharray="1.3 1.7" fill="none"/>
<line x1="369.2" y1="443.3" x2="369.2" y2="490.4" stroke="#111" stroke-width="1.4" stroke-dasharray="1.3 1.7" fill="none"/>
<line x1="345.1" y1="490.4" x2="369.2" y2="490.4" stroke="#111" stroke-width="1.4" stroke-dasharray="1.3 1.7" fill="none"/>
<line x1="345.1" y1="521.3" x2="345.1" y2="596.6" stroke="#111" stroke-width="1.4" stroke-dasharray="1.3 1.7" fill="none"/>
<line x1="369.2" y1="521.3" x2="369.2" y2="596.6" stroke="#111" stroke-width="1.4" stroke-dasharray="1.3 1.7" fill="none"/>
<line x1="345.1" y1="521.3" x2="369.2" y2="521.3" stroke="#111" stroke-width="1.4" stroke-dasharray="1.3 1.7" fill="none"/>
<line x1="345.1" y1="596.6" x2="369.2" y2="596.6" stroke="#111" stroke-width="1.4" stroke-dasharray="1.3 1.7" fill="none"/>
<line x1="398.0" y1="441.7" x2="398.0" y2="490.4" stroke="#111" stroke-width="1.4" stroke-dasharray="1.3 1.7" fill="none"/>
<line x1="422.1" y1="437.1" x2="422.1" y2="490.4" stroke="#111" stroke-width="1.4" stroke-dasharray="1.3 1.7" fill="none"/>
<line x1="398.0" y1="490.4" x2="422.1" y2="490.4" stroke="#111" stroke-width="1.4" stroke-dasharray="1.3 1.7" fill="none"/>
<line x1="398.0" y1="521.3" x2="398.0" y2="596.6" stroke="#111" stroke-width="1.4" stroke-dasharray="1.3 1.7" fill="none"/>
<line x1="422.1" y1="521.3" x2="422.1" y2="596.6" stroke="#111" stroke-width="1.4" stroke-dasharray="1.3 1.7" fill="none"/>
<line x1="398.0" y1="521.3" x2="422.1" y2="521.3" stroke="#111" stroke-width="1.4" stroke-dasharray="1.3 1.7" fill="none"/>
<line x1="398.0" y1="596.6" x2="422.1" y2="596.6" stroke="#111" stroke-width="1.4" stroke-dasharray="1.3 1.7" fill="none"/>
<line x1="450.8" y1="440.9" x2="450.8" y2="490.4" stroke="#111" stroke-width="1.4" stroke-dasharray="1.3 1.7" fill="none"/>
<line x1="475.0" y1="444.6" x2="475.0" y2="490.4" stroke="#111" stroke-width="1.4" stroke-dasharray="1.3 1.7" fill="none"/>
<line x1="450.8" y1="490.4" x2="475.0" y2="490.4" stroke="#111" stroke-width="1.4" stroke-dasharray="1.3 1.7" fill="none"/>
<line x1="450.8" y1="521.3" x2="450.8" y2="596.6" stroke="#111" stroke-width="1.4" stroke-dasharray="1.3 1.7" fill="none"/>
<line x1="475.0" y1="521.3" x2="475.0" y2="596.6" stroke="#111" stroke-width="1.4" stroke-dasharray="1.3 1.7" fill="none"/>
<line x1="450.8" y1="521.3" x2="475.0" y2="521.3" stroke="#111" stroke-width="1.4" stroke-dasharray="1.3 1.7" fill="none"/>
<line x1="450.8" y1="596.6" x2="475.0" y2="596.6" stroke="#111" stroke-width="1.4" stroke-dasharray="1.3 1.7" fill="none"/>
<line x1="503.7" y1="445.9" x2="503.7" y2="490.4" stroke="#111" stroke-width="1.4" stroke-dasharray="1.3 1.7" fill="none"/>
<line x1="503.7" y1="490.4" x2="520.3" y2="490.4" stroke="#111" stroke-width="1.4" stroke-dasharray="1.3 1.7" fill="none"/>
<line x1="503.7" y1="521.3" x2="503.7" y2="596.6" stroke="#111" stroke-width="1.4" stroke-dasharray="1.3 1.7" fill="none"/>
<line x1="503.7" y1="521.3" x2="520.3" y2="521.3" stroke="#111" stroke-width="1.4" stroke-dasharray="1.3 1.7" fill="none"/>
<line x1="503.7" y1="596.6" x2="520.3" y2="596.6" stroke="#111" stroke-width="1.4" stroke-dasharray="1.3 1.7" fill="none"/>
<polyline points="293.7,446.5 299.7,445.1 305.3,444.2 314.9,443.7 325.4,443.2 339.0,443.3 351.7,443.4 363.2,442.9 370.8,442.1 376.8,440.6 382.8,440.1 390.4,440.4 398.0,440.7 402.5,440.1 411.1,437.4 415.9,436.3 422.1,436.1 429.7,435.9 437.2,435.8 441.8,435.8 448.1,438.9 454.6,441.3 459.9,442.3 467.5,443.2 478.0,443.7 488.6,444.1 496.3,444.6 512.5,445.3 520.3,444.9" fill="none" stroke="#000" stroke-width="1.7" stroke-linejoin="round"/>
<polygon points="335.3,443.8 337.5,439.5 339.7,443.8" fill="#000"/>
<polygon points="369.9,442.2 372.3,437.3 374.7,442.2" fill="#000"/>
<polygon points="418.6,436.6 421.2,431.3 423.8,436.6" fill="#000"/>
<polygon points="426.6,436.4 429.2,431.3 431.8,436.4" fill="#000"/>
<polygon points="434.0,436.3 436.6,431.3 439.2,436.3" fill="#000"/>
<polygon points="481.1,444.4 483.5,438.9 485.9,444.4" fill="#000"/>
<line x1="293.7" y1="416.2" x2="293.7" y2="603.4" stroke="#222" stroke-width="1.3"/>
<line x1="520.3" y1="416.2" x2="520.3" y2="597.4" stroke="#222" stroke-width="1.3"/>
<line x1="293.7" y1="597.4" x2="520.3" y2="597.4" stroke="#333" stroke-width="1.3"/>
<line x1="288.1" y1="446.7" x2="293.7" y2="446.7" stroke="#333" stroke-width="1.1"/>
<line x1="520.3" y1="446.7" x2="525.6" y2="446.7" stroke="#333" stroke-width="1.1"/>
<text x="286.4" y="450.5" font-size="10.50" text-anchor="end" font-weight="normal" fill="#1a1a1a" stroke="#1a1a1a" stroke-width="0.22" font-family="Liberation Sans, sans-serif" >0</text>
<line x1="288.1" y1="522.0" x2="293.7" y2="522.0" stroke="#333" stroke-width="1.1"/>
<line x1="520.3" y1="522.0" x2="525.6" y2="522.0" stroke="#333" stroke-width="1.1"/>
<text x="286.4" y="525.8" font-size="10.50" text-anchor="end" font-weight="normal" fill="#1a1a1a" stroke="#1a1a1a" stroke-width="0.22" font-family="Liberation Sans, sans-serif" >-5</text>
<line x1="288.1" y1="597.4" x2="293.7" y2="597.4" stroke="#333" stroke-width="1.1"/>
<line x1="520.3" y1="597.4" x2="525.6" y2="597.4" stroke="#333" stroke-width="1.1"/>
<text x="286.4" y="601.2" font-size="10.50" text-anchor="end" font-weight="normal" fill="#1a1a1a" stroke="#1a1a1a" stroke-width="0.22" font-family="Liberation Sans, sans-serif" >-10</text>
<line x1="293.7" y1="597.4" x2="293.7" y2="603.2" stroke="#333" stroke-width="1.1"/>
<text x="293.7" y="613.8" font-size="10.50" text-anchor="middle" font-weight="normal" fill="#1a1a1a" stroke="#1a1a1a" stroke-width="0.22" font-family="Liberation Sans, sans-serif" >0</text>
<line x1="369.2" y1="597.4" x2="369.2" y2="603.2" stroke="#333" stroke-width="1.1"/>
<text x="369.2" y="613.8" font-size="10.50" text-anchor="middle" font-weight="normal" fill="#1a1a1a" stroke="#1a1a1a" stroke-width="0.22" font-family="Liberation Sans, sans-serif" >5</text>
<line x1="444.8" y1="597.4" x2="444.8" y2="603.2" stroke="#333" stroke-width="1.1"/>
<text x="444.8" y="613.8" font-size="10.50" text-anchor="middle" font-weight="normal" fill="#1a1a1a" stroke="#1a1a1a" stroke-width="0.22" font-family="Liberation Sans, sans-serif" >10</text>
<line x1="520.3" y1="597.4" x2="520.3" y2="603.2" stroke="#333" stroke-width="1.1"/>
<text x="520.3" y="613.8" font-size="10.50" text-anchor="middle" font-weight="normal" fill="#1a1a1a" stroke="#1a1a1a" stroke-width="0.22" font-family="Liberation Sans, sans-serif" >15</text>
<text x="299.5" y="425.7" font-size="10.10" text-anchor="start" font-weight="bold" fill="#1a1a1a" font-family="Liberation Sans, sans-serif" >A2</text>
<text x="518.0" y="424.3" font-size="10.10" text-anchor="end" font-weight="bold" fill="#1a1a1a" font-family="Liberation Sans, sans-serif" >B2</text>
<text x="336.2" y="435.4" font-size="10.50" text-anchor="middle" font-weight="normal" fill="#1a1a1a" stroke="#1a1a1a" stroke-width="0.22" font-family="Liberation Sans, sans-serif" >Rc</text>
<text x="369.3" y="433.1" font-size="10.50" text-anchor="middle" font-weight="normal" fill="#1a1a1a" stroke="#1a1a1a" stroke-width="0.22" font-family="Liberation Sans, sans-serif" >Tc</text>
<text x="427.6" y="426.1" font-size="10.50" text-anchor="middle" font-weight="normal" fill="#1a1a1a" stroke="#1a1a1a" stroke-width="0.22" font-family="Liberation Sans, sans-serif" >Cer</text>
<text x="480.2" y="435.4" font-size="10.50" text-anchor="middle" font-weight="normal" fill="#1a1a1a" stroke="#1a1a1a" stroke-width="0.22" font-family="Liberation Sans, sans-serif" >Wc</text>
<rect x="297.4" y="571.8" width="61.2" height="23.0" fill="#ffffff" fill-opacity="0.6"/>
<text x="298.3" y="581.7" font-size="10.20" text-anchor="start" font-weight="normal" fill="#333" stroke="#333" stroke-width="0.22" font-family="Liberation Sans, sans-serif" >Vp/Vs ratio,</text>
<text x="298.3" y="592.9" font-size="10.20" text-anchor="start" font-weight="normal" fill="#333" stroke="#333" stroke-width="0.22" font-family="Liberation Sans, sans-serif" >Section 2</text>
<clipPath id="cp22"><polygon points="544.3,446.1 556.4,445.4 567.7,444.5 580.6,443.1 594.0,441.8 609.4,442.3 623.3,440.7 635.0,440.4 648.0,440.2 654.6,438.7 660.0,436.9 662.2,436.9 675.8,437.0 682.1,438.7 690.3,441.1 701.4,441.9 714.3,442.3 733.5,441.6 740.7,440.9 746.5,440.3 752.8,440.5 759.3,441.1 764.9,442.7 770.9,445.9 770.9,597.4 544.3,597.4"/></clipPath>
<g clip-path="url(#cp22)">
<path d="M656.4 428.7l6.1 -.5 3 .7 3 1.6 4.4 4.5 2.3 6 1.6 20.5 -.1 18.1 -5.7 6.8 -2.5 1.6 -2.4 .7 -8.5 -1.4 -3.6 -1.2 -3.6 -2.8 -3 -3.7 -.7 -39.8 1.1 -3.6 2.5 -3.7 2.5 -2.1zM548.5 432.4l4.9 .4 2.4 1.1 2.4 2.3 1.4 2.4 2.1 7.2 2.2 3.7 .5 2.4 -.7 33.8 -2.3 6 -1.4 12.1 -1.9 8.5 -2.3 2.9 -3.6 1.2 -2.7 -.5 -2.7 -2.4 -3.1 -7.8 -2.4 -8.5 0 -58.9 2.4 -3.5 2.4 -1.6z" fill="#050a6e" stroke="#050a6e" stroke-width=".5"/>
<path d="M656.4 427.7l3.6 -.6 3.7 .3 3.6 1.2 2.4 1.5 4.4 4.9 2.1 6 1.6 20.5 -.1 18.1 -6 7.3 -3.2 2.1 -2.4 .7 -8.5 -1.4 -3.6 -1.2 -3.6 -2.7 -3.9 -4.8 -.8 -39.8 1.1 -3.6 2.3 -3.8 3.7 -3.1zM655.8 428.9l-3 1.5 -2.5 2.1 -2.5 3.7 -1.1 3.6 .7 39.8 3 3.7 3.6 2.8 3.6 1.2 8.5 1.4 2.4 -.7 2.5 -1.6 5.7 -6.8 .1 -18.1 -1.6 -20.5 -2.3 -6 -1.9 -2.5 -3 -2.4 -5.5 -1.9 -3.7 0zM546.1 432.3l3.7 -.9 2.4 .1 3.6 1.4 2.4 1.9 1.9 2.6 2.3 7.2 2.9 6.1 0 33.8 -2.8 8.4 -1.6 18.1 -.7 2.5 -2 2.5 -2.4 1.7 -3.6 .9 -3.7 -.8 -2.4 -1.8 -1.2 -1.7 -3.6 -12.3 0 -4.8 2.4 8.5 3.6 8.5 2.5 1.8 2.4 .4 2.4 -.5 1.8 -1.2 2 -3.7 1.6 -7.2 1.4 -12.1 2.5 -7.2 .4 -33.8 -3.1 -6.1 -2.2 -7.2 -1.9 -2.4 -2.5 -1.7 -3.6 -1 -3.7 .5 -3.7 2.2 -2.3 3.3 0 -2.1 2.3 -2.4z" fill="#0a3296" stroke="#0a3296" stroke-width=".5"/>
<path d="M657.6 426.4l6.1 0 6.1 2.5 2.8 2.4 2 2.7 1.7 3.4 1 3.6 1.7 20.5 -.2 18.1 -6.6 8 -6.1 3.7 -1.2 .2 -10.9 -3.4 -4.6 -3.6 -3.9 -4.9 -1 -37.4 .4 -3.6 1.4 -3.6 2.8 -4.1 3.7 -2.7zM656.3 427.7l-3.5 1.6 -3.7 3.1 -2.3 3.8 -1.1 3.6 .8 39.8 3.9 4.8 3.6 2.7 3.6 1.2 8.5 1.4 2.4 -.7 3.2 -2.1 6 -7.3 .1 -18.1 -1.6 -20.5 -1 -3.6 -1.8 -3.5 -2.2 -2.6 -2.7 -2 -6 -2.1zM546.1 431.3l2.4 -.6 3.7 0 3.6 1.2 2.6 1.9 2.9 3.6 2.4 7.2 2.7 6.1 .6 33.8 -2.8 9.6 .5 10.9 -.6 7.3 -1 2.4 -2 2.4 -4.1 2.6 -3.6 1.1 -4.9 -.6 -2.4 -1.4 -2.4 -2.8 -1.1 -2.5 -1.3 -5.7 0 -5.8 3.2 11.5 2.8 3.6 2.5 1.2 3.6 .2 3.5 -1.4 2.5 -2.4 1.5 -3.7 1.8 -19.3 2.6 -7.2 0 -33.8 -2.9 -6.1 -2.3 -7.2 -1.7 -2.4 -2.6 -2.1 -3.6 -1.4 -3.7 0 -3.6 1.4 -3.6 3.3 0 -1.4 1 -1zM610.4 519.3l3.6 .6 1.9 2 -1 49.5 -.9 2.7 -2.4 1.1 -2.5 -1.3 -.7 -2.5 -1.5 -45.9 .1 -3.6 1 -1.2z" fill="#0a64be" stroke="#0a64be" stroke-width=".5"/>
<path d="M658.8 425.2l4.9 .2 3.6 1.1 4.1 2.4 3.5 3.6 2 3.7 1.2 3.6 1.8 16.9 .5 9.7 -.3 13.2 -6.7 8.2 -3.7 2.7 -2 2.4 -2.8 1 -2.4 -.4 -4.5 -3 -5.5 -2.4 -4.2 -3.6 -3.7 -4.9 -1.1 -37.4 .7 -4.8 2.3 -4.9 3.4 -3.6 4.1 -2.4zM657.1 426.5l-4.3 1.7 -3.7 2.7 -2.8 4.1 -1.4 3.6 -.4 3.6 1 37.4 3.9 4.9 4.6 3.6 10.9 3.4 1.2 -.2 6.1 -3.7 6.6 -8 .2 -18.1 -1.7 -20.5 -1 -3.6 -1.7 -3.4 -2 -2.7 -2.8 -2.4 -6.1 -2.5zM547.3 430.1l4.9 -.3 4.8 1.8 3.9 3.4 3 4.8 1.3 4.8 2.5 6.1 3 30.2 .9 5.1 1.2 3.1 27.9 22.5 2.4 1.1 10.9 2.4 3.6 2.3 2.5 2.6 .4 3.1 -1.2 77.3 -15.8 0 -2.2 -3.6 -1.8 -7.2 -6.5 -45.9 -4.6 -26.6 -1.2 -2.4 -2.3 -1.2 -2.4 .3 -1.8 2.1 -.3 1.2 -8.8 62.8 -2.2 12.1 -1.5 4.5 -2.4 3.5 -2.9 .4 -4.4 -4.4 -1.2 -.6 -7.7 .2 -.4 -66.4 -.6 -2.5 -4.6 -5.8 -2.4 -4.4 0 -8.7 2.3 8.1 2.5 2.9 2.4 1.4 3.7 .6 3.6 -.6 3.6 -1.9 2.9 -2.4 1.4 -2.4 .6 -2.5 .4 -6 -.7 -7.2 .3 -4.9 2.6 -7.2 .2 -15.7 -.7 -19.3 -2.7 -6.1 -2.4 -7.2 -1.7 -2.4 -2.6 -2.3 -4.8 -2 -3.7 0 -2.4 .6 -4.8 3.5 0 -1.3 1.1 -1zM609.8 519.5l-2.8 2.4 -.1 3.6 1.5 45.9 .7 2.5 2.5 1.3 2.4 -1.1 .9 -2.7 1 -49.5 -.8 -1.2 -1.9 -1.2z" fill="#1490d8" stroke="#1490d8" stroke-width=".5"/>
<path d="M654 425.3l3.6 -1 4.9 -.2 3.6 .8 3.7 1.6 3.6 2.7 2.8 3.3 1.9 3.7 1.4 4.8 2.3 20.5 0 18.1 -5.8 7.3 -4.3 3.6 -2 2.8 -2.4 1.7 -2.4 .6 -3.6 -.2 -3.7 -1.8 -2.8 -3.1 -6.4 -4.8 -4.8 -6.1 -1.2 -37.4 .4 -3.6 1.7 -4.8 2.2 -3.3 3.7 -3.3zM658.2 425.3l-5.4 1.7 -3.7 2.5 -3.3 4.3 -1.9 4.8 -.4 3.6 1.1 37.4 3.7 4.9 4.2 3.6 5.5 2.4 4.5 3 2.4 .4 2.8 -1 2 -2.4 3.7 -2.7 6.7 -8.2 .3 -13.2 -.6 -10.9 -1.7 -15.7 -1.2 -3.6 -2 -3.7 -3.5 -3.6 -4.1 -2.4 -4.8 -1.3zM549.8 428.8l3.6 .4 3.6 1.4 4.2 3.2 4.4 4.8 1.2 4.8 2.4 6.1 4 15.7 4.7 13.2 1.4 2.5 30.2 24.1 14.3 13.3 .4 4.8 -.3 77.3 -4.6 0 1.2 -77.3 -.7 -3.6 -2.5 -2.4 -3.3 -2 -10.9 -2.4 -2.4 -1.1 -27.9 -22.5 -1.2 -3.1 -.9 -5.1 -3 -30.2 -5.1 -13.3 -4.4 -4.9 -2.4 -1.5 -3.6 -1.2 -3.7 0 -2.4 .6 -4.8 3.1 0 -1.3 2.4 -1.6 2.4 -1.1zM582.5 513.8l3.6 0 2 2.1 4.7 26.5 6.7 47.2 1.8 7.2 2.2 3.6 -6.6 0 -1.1 -3.6 -9.3 -79.7 -1.6 -1.7 -1.2 0 -1.5 1.7 -8.3 79.7 -1.1 3.6 -8.1 0 1.6 -1.2 1.5 -2.4 2.1 -7.3 2.9 -17.5 7.6 -54.9 .3 -1.2zM541.5 517.1l2.2 3.8 3.9 4.6 1.3 3.7 0 65.2 .9 1.4 7.2 -.4 1.2 .6 4.4 4.4 -21.3 0 0 -83.9z" fill="#10b8f0" stroke="#10b8f0" stroke-width=".5"/>
<path d="M651.6 425.1l2.2 -1 5.6 0 -5.4 1.2 -4.9 2.8 -3.9 4.4 -2.1 4.9 -.7 4.8 1.2 37.4 6.1 7.3 5.1 3.6 2.8 3.1 3.6 1.7 3.7 .3 3.6 -1.3 1.6 -1.4 1.6 -2.4 5.3 -4.8 4.8 -6.1 .3 -8.4 -.9 -15.7 -1.7 -14.5 -1.4 -4.8 -2.8 -4.9 -3.7 -3.6 -4.3 -2.4 -5.4 -1.2 5.6 0 6 3.6 4.8 6.1 2.5 7.2 3.4 22.9 .5 15.7 -6.1 7.3 -4.4 3.6 -2.9 3.6 -5.2 2.7 -4.8 .2 -4.9 -2.1 -2 -2 -1.4 -2.4 -5.8 -4.8 -4.7 -6.1 -1.2 -37.4 .3 -3.6 1.1 -3.6 1.9 -3.7 3.2 -3.6zM546.1 428.5l4.9 -.6 3.6 .6 3.6 1.7 8.5 6 .9 1.2 14.6 41 11.2 9.1 8.5 7.8 10.5 7.3 14.5 14.5 .1 83.3 -3.1 0 .3 -77.3 -.4 -4.8 -14.3 -13.3 -30.2 -24.1 -1.4 -2.5 -4.7 -13.2 -4 -15.7 -2.4 -6.1 -1.2 -4.8 -6.1 -6.3 -2.5 -1.7 -3.6 -1.4 -6.1 0 -3.6 1.4 -2.4 1.6 0 -1.3zM583.7 515.4l1.2 0 1.6 1.7 8.3 73.7 2.1 9.6 -4.2 0 -1.3 -6 -5.3 -70.1 -.6 -7.2 -.6 -.6 -1.2 0 -.6 1.8 -5.6 78.5 -.8 3.6 -3.9 0 2 -9.6 3.7 -41.1 3.5 -31.4 .2 -1.2zM708.5 522.4l4.9 -.2 2.4 .9 2.4 5.1 1 4.6 0 50.7 -1 4.8 -5.9 12.1 -1.3 -.8 -.3 -1.6 -5.8 -8.8 -1.7 -5.7 0 -50.7 1.7 -5.5 2.4 -4z" fill="#28ccfa" stroke="#28ccfa" stroke-width=".5"/>
<path d="M649.1 424.9l1.4 -.8 3.3 0 -4.7 2.5 -3.6 3.5 -2.8 4.9 -1.3 4.8 1.1 39.8 4.7 6.1 5.8 4.8 1.4 2.4 2 2 3.6 1.8 3.7 .4 3.6 -.6 4 -2.4 2.9 -3.6 4.4 -3.6 6.1 -7.3 -.6 -16.9 -3.9 -24.1 -1.9 -4.8 -2.5 -3.7 -3.6 -3.5 -4.7 -2.5 3.3 0 3.8 2.7 3.1 3.3 2.2 3.7 1.8 4.8 2.6 12.4 5.8 20.2 2.1 13.3 3.8 10.8 .2 2.5 -.8 3.6 -1.4 2.1 -1.2 .7 -7.3 3.2 -2.4 .1 -2.4 -2.6 -2.6 -7.1 -2.3 -2.4 -2.4 .1 -8.5 2.8 -3.6 0 -3.7 -1.1 -3.6 -2.7 -2.5 -4 -5.5 -4.8 -4.9 -6.1 -1.1 -39.8 1.2 -4.8 1.7 -3.7 2.9 -3.6zM546.1 427.3l4.9 -.5 3.6 .5 3.6 1.5 6.1 3.7 4.9 1.6 15 41.9 11.6 10.1 7.3 7.6 12.1 7.4 14.6 14.8 .1 84.5 -2.9 0 -.1 -83.3 -14.5 -14.5 -10.5 -7.3 -8.5 -7.8 -11.2 -9.1 -14.6 -41 -.9 -1.2 -8.5 -6 -4.8 -2 -6.1 0 -6 2.7 0 -1.4zM702.5 505.9l2.4 -.5 13.3 0 2.4 .7 2.5 3.1 2.4 7.1 1.2 6.8 0 77.3 -14.4 0 5.9 -12.1 1 -4.8 .1 -49.5 -1.1 -5.8 -2.4 -5.1 -1.2 -.6 -3.6 -.4 -2.5 .3 -1.2 .9 -2.4 4 -1.7 5.5 0 49.5 .5 3.6 1.2 3.3 6.9 11.2 -14.4 0 -.3 -78.5 2 -12.1 1.4 -2.4zM583.7 516.5l1.2 0 .7 1.8 5.2 70 .8 7.3 1.1 4.8 -5.2 0 -2.6 -4.3 -1.2 .1 -2.5 4.2 -4.5 0 1.3 -8.4 4.5 -66.5 .7 -8.4z" fill="#64dcff" stroke="#64dcff" stroke-width=".5"/>
<path d="M646.7 424.4l3.8 -.3 -3.8 2.7 -3 3.3 -2.5 4.9 -1.2 4.8 1.1 39.8 4.9 6.1 5.5 4.8 1.2 2.4 2.1 2.4 4 2.4 4.9 .7 3.9 -.6 5.8 -2.3 2.4 -.1 2.3 2.4 2.6 7.1 2.4 2.6 2.4 -.1 7.3 -3.2 1.2 -.7 1.4 -2.1 .8 -3.6 -.2 -2.5 -3.8 -10.8 -2.1 -13.3 -5.8 -20.2 -2.6 -12.4 -1.8 -4.8 -2.2 -3.7 -3.1 -3.3 -3.8 -2.7 3.3 0 4.9 4.8 4 7.3 3.7 12.7 6.1 14.5 1.3 5.4 2 13.3 3 9.6 2.4 4.9 3.4 3.1 6.1 1.8 6 -.8 7.3 -3.8 1.6 .9 2.8 9.6 1.8 14.5 0 78.5 -3.8 0 0 -77.3 -1.2 -6.8 -2.4 -7.1 -2.5 -3.1 -2.4 -.7 -12.1 0 -3.6 .5 -2.5 2.1 -1.3 3 -1.1 6.4 -.5 4.5 .3 78.5 -3.8 0 -.1 -67.6 -.5 -7.3 -1.4 -5.5 -1.3 -1.8 -1.2 -.6 -4.8 .1 -2.4 -1.6 -2.5 -3.5 -4.2 -11.2 -1.7 -2.4 -2.5 -.4 -8.5 1 -6.1 -1.6 -3.3 -2.7 -3.1 -4.8 -5.6 -4.8 -4.9 -6.1 -1.4 -37.4 .3 -3.6 1.3 -4.8 1.9 -3.7zM544.9 426.1l4.9 -.7 4.8 .4 9.7 4 6.1 1.1 1.2 1 15.5 42.9 11.1 10.9 5.2 6 4.5 3 7.3 2.8 2.4 1.5 14.6 14.6 .7 2.3 .1 84.5 -3.1 0 -.1 -84.5 -14.6 -14.8 -12.1 -7.4 -7.3 -7.6 -11.6 -10.1 -15 -41.9 -4.9 -1.6 -7.3 -4.3 -3.6 -1.1 -6.1 -.1 -6 2.5 0 -1.9zM583.7 596.2l1.2 -.1 2.6 4.3 -6.3 0z" fill="#96e6ff" stroke="#96e6ff" stroke-width=".5"/>
<path d="M542.5 424.1l17 0 9.7 .9 3.6 1 2.4 1.7 1.8 2.4 2.6 7.3 5.6 18.1 4.4 16.9 1.3 2.4 14.6 16.3 3.1 1.8 3 1 7.2 .6 2.5 .7 9.7 9.3 3.6 4.5 1.2 2.8 .4 2.9 .6 85.7 -3.8 0 -.1 -84.5 -.7 -2.3 -14.6 -14.6 -2.4 -1.5 -7.3 -2.8 -4.5 -3 -5.2 -6 -11.1 -10.9 -15.5 -42.9 -1.2 -1 -6.1 -1.1 -6.1 -2.7 -4.8 -1.5 -6.1 0 -6 2 0 -3.5zM641.9 424.6l.5 -.5 4.8 0 -2.9 2.6 -2.7 3.4 -1.9 3.7 -1.3 4.8 -.3 3.6 1.4 37.4 4.9 6.1 5.6 4.8 3.1 4.8 3.3 2.7 6.1 1.6 8.5 -1 2.5 .4 1.7 2.4 4.2 11.2 2.5 3.5 2.4 1.6 4.8 -.1 1.3 .7 1.4 2.4 1.2 4.8 .5 8.5 .1 66.4 -4.3 0 -.1 -60.4 -.4 -6 -.9 -3.7 -1.2 -1.6 -3.6 -2.3 -2.4 -3.4 -7.3 -17.8 -2.3 -3.8 -2.6 -.6 -8.5 -.4 -4.8 -1.8 -3.8 -3.3 -3.3 -4.8 -5.1 -3.6 -6.5 -7.3 -1.3 -39.8 .8 -4.8 1.3 -3.7zM674.6 424.1l4.4 0 3.9 4.8 3.2 6.1 7.5 16.9 2.8 10.8 2.1 18.2 2.6 9.6 2.5 4.8 2.5 2.3 2.4 1.2 2.5 .5 3.6 -.3 4.8 -2.5 6.1 -7.2 1.2 .2 .8 1 1.6 3.6 .9 4.9 3.4 10.8 1.3 10.9 .1 79.7 -4.3 0 0 -78.5 -1.6 -13.3 -2.2 -8.6 -1.2 -2.9 -1.2 -.2 -7.3 3.8 -3.6 .7 -3.7 -.1 -4.8 -1.6 -3.4 -3.1 -2.4 -4.9 -3 -9.6 -2 -13.3 -1.3 -5.4 -6.1 -14.5 -3.3 -11.5 -3.5 -7.3 -5.8 -6zM769.1 456.6l1.2 .2 1.1 1.1 .2 1.2 -.1 32.6 -.3 1.2 -.9 .8 -1.2 .1 -1.1 -.9 -.3 -1.2 -.4 -32.6 .2 -1.2z" fill="#c8f0ff" stroke="#c8f0ff" stroke-width=".5"/>
<path d="M560.7 424.1l38 0 -4.1 2.9 -2.7 3.1 -2 3.7 -1.2 4.8 .1 6 3.4 25.4 1.5 4.8 7 8.3 6.2 6.2 2.2 1.4 3.7 .8 2.4 -.4 2.7 -1.8 2 -4.8 6.7 -12.1 1.3 -15.7 1.1 -14.5 -.8 -6 -1.4 -3.7 -2.4 -3.6 -3.1 -3 -2.9 -1.8 24 0 -3 3.6 -2.1 3.6 -2 7.3 1.2 41 6.5 7.3 5.1 3.6 3.3 4.8 3.8 3.3 4.8 1.8 8.5 .4 2.6 .6 2.3 3.8 7.3 17.8 2.4 3.4 3.6 2.3 1.2 1.6 .9 3.7 .4 6 .1 60.4 -9.4 0 .6 -61.6 -1.2 -8.4 -3.8 -14.5 -4.4 -9.7 -2 -2.4 -2.4 -1.2 -6.7 -.9 -3.6 -1.1 -3.6 -2.1 -4.9 -4.6 -2.4 -1.5 -2 .5 -1.6 1.9 -1.3 3 -.7 3.6 -.9 15.7 .9 83.3 -3.1 0 -.6 -85.7 -.6 -3.7 -3.4 -5.3 -10.8 -10.4 -2.6 -.8 -8.4 -.9 -5.6 -3.1 -13.9 -15.7 -1.3 -2.4 -5.4 -20.5 -7.2 -21.8 -1.8 -2.4 -3.6 -2.2 -12.1 -1.4zM679.4 424.1l94.6 0 0 176.3 -39.2 0 -.1 -79.7 -1.3 -10.9 -3.4 -10.8 -.9 -4.9 -1.6 -3.6 -.8 -1 -1.2 -.2 -6.1 7.3 -3.6 2.1 -3.6 .6 -4.9 -1 -2.4 -1.7 -2.2 -2.5 -1.6 -3.6 -2.6 -9.6 -2.1 -18.2 -2.3 -9.6 -9.1 -20.6 -2.9 -4.8 -3.1 -3.6zM708 428.9l-4.3 2.2 -2.7 2.7 -2 3.6 -.8 3.6 1.8 36.2 3.2 13.3 1.7 3.2 2.4 2.2 3.7 1.3 3.6 -.3 2.9 -1.6 2.3 -2.4 3.3 -7.7 2.4 -3.5 1.2 -.1 1.2 1.3 3.3 6.4 2.8 11.2 3.6 8.9 13.6 21 5.8 21.6 1.2 -2.1 7 -28 -.5 -48.3 -18.5 -14.5 -.8 -1.2 -4.4 -22.9 -1 -.6 -10.9 -.1 -1.1 .7 -1.3 2 -1.2 -.4 -4.9 -5.3 -3.6 -2.1 -4.8 -.9zM769 456.7l-1.5 1.2 -.2 6 .4 27.8 .3 1.2 1.1 .9 1.2 -.1 .9 -.8 .3 -1.2 .1 -32.6 -.2 -1.2 -1.1 -1.1z" fill="#f4f8fc" stroke="#f4f8fc" stroke-width=".5"/>
<path d="M597 425.1l1.7 -1 19.7 0 2.9 1.8 3.1 3 2.4 3.6 1.4 3.7 .8 6 -2.4 30.2 -6.7 12.1 -1.2 3.6 -1.1 1.5 -2.4 1.5 -3.6 .3 -4.9 -2.2 -7.2 -7.4 -5.8 -7 -1.2 -3.6 -3.6 -25.4 -.2 -7.2 .8 -3.6 1.6 -3.7 2.8 -3.6zM604.4 426.5l-3.7 1.5 -3.7 2.8 -3 4.2 -1.2 3.6 -.4 3.6 2.4 26.6 1.3 6 5.8 6.7 4.8 3.3 6.1 1.7 2.4 -1.7 2.4 -2.8 5.1 -9.6 1.9 -32.6 -2.2 -6 -2.3 -3 -2.5 -2 -6 -2.5 -3.7 -.3zM708.5 428.7l4.9 -.4 4.8 1.4 3.7 2.6 3.6 4.3 1.2 .4 1.3 -2 1.1 -.7 10.9 .1 1 .6 4.4 22.9 .8 1.2 18.5 14.5 .5 48.3 -7 28 -1.2 2.1 -5.8 -21.6 -13.6 -21 -3.6 -8.9 -2.8 -11.2 -3.3 -6.4 -1.2 -1.3 -1.2 .1 -2.4 3.5 -3.3 7.7 -2.3 2.4 -2.9 1.6 -3.6 .3 -3.7 -1.3 -2.4 -2.2 -1.7 -3.2 -3.2 -13.3 -1.8 -36.2 1.3 -4.8 1.8 -2.8 3.6 -3.1zM710.3 431.3l-3 .9 -2.4 1.6 -2.1 2.4 -1.5 3.6 .1 31.4 .8 8.4 3.4 10.9 2.9 3.4 3.7 1 2.4 -.5 2.2 -1.5 2.2 -3.6 3.7 -10.9 2 -16.9 -.9 -7.2 -.7 -13.3 -1.1 -3.6 -2.6 -3.4 -2.4 -1.6 -3.6 -1.1zM644.3 492.5l2.4 .5 6.1 5.5 3.6 2.1 12.1 2.7 2.6 2.9 4.4 9.7 3.8 14.5 1.2 8.4 -.6 61.6 -3.4 0 .5 -62.8 -1 -9.6 -2.8 -12.1 -4.5 -8.5 -2.4 -2.4 -9.9 -2.8 -7.3 -4.3 -2.4 -.7 -1.2 .6 -1.3 2.4 -2.6 15.7 .8 84.5 -2.5 0 -.8 -84.5 1.1 -16.9 1.7 -4.2z" fill="#dcdcd2" stroke="#dcdcd2" stroke-width=".5"/>
<path d="M605.5 426.3l6.1 0 6 2.5 2.5 2 2.3 3 2.2 6 -1.9 32.6 -5.1 9.6 -2.4 2.8 -2.4 1.7 -6.1 -1.7 -4.8 -3.3 -5.8 -6.7 -1.3 -6 -2.4 -26.6 .4 -3.6 1.2 -3.6 3 -4.2 3.7 -2.8zM603.8 430.1l-3.1 1.8 -2 1.9 -1.7 2.4 -1.2 3.6 .1 7.2 1.9 24.2 .9 3.6 4.4 4.6 3.6 1.8 4.9 .6 2.4 -.9 1.5 -1.3 2.1 -2.8 2.2 -4.4 1.5 -32.6 -2 -4.8 -4.1 -3.9 -2.4 -1.1 -3.7 -.7zM711 431.2l3.6 .3 2.4 .9 2.4 1.6 2.6 3.4 1.1 3.6 .7 13.3 .9 7.2 -2 16.9 -3.7 10.9 -2.2 3.6 -2.2 1.5 -2.4 .5 -3.3 -.8 -2.6 -2.4 -3.4 -9.6 -1.3 -7.3 -.5 -16.9 -.1 -15.7 .6 -3.6 1.2 -2.4 2.1 -2.4 2.4 -1.6zM709.1 433.8l-2.3 1.2 -1.9 1.8 -1.7 4.2 .2 33.8 .9 4.8 1.8 4.3 4.1 6.6 2 1 1.2 -.1 1.2 -.6 1 -1.5 3.9 -8.4 1.3 -4.9 .5 -14.5 -.4 -20.5 -1.3 -3.6 -2.6 -2.6 -3.6 -1.4zM646.7 497.2l2.4 .7 7.3 4.3 9.9 2.8 2.4 2.4 4.5 8.5 2.8 12.1 1 9.6 -.5 62.8 -2.7 0 .5 -62.8 -.9 -9.6 -2.4 -10.9 -2.5 -4.7 -3.8 -5 -2.2 -1.3 -12.1 -3.6 -1.3 .3 -2 3.4 -3 9.7 .7 84.5 -2.4 0 -.8 -84.5 2.6 -15.7 1.3 -2.4z" fill="#b4b49a" stroke="#b4b49a" stroke-width=".5"/>
<path d="M604.3 429.9l6.1 -.5 4.8 1.7 4.1 3.9 2 4.8 -1.5 32.6 -2.2 4.4 -2.1 2.8 -1.5 1.3 -2.4 .9 -6.1 -1 -3.6 -2.5 -3.2 -3.5 -1.1 -4.8 -1.8 -30.2 1.2 -3.6 1.7 -2.4 2.8 -2.5zM604.7 433.8l-1.9 1.2 -2.1 2.3 -1.3 3.7 1 24.2 .8 7.2 .9 2.4 2.2 1.4 2.4 .8 4.9 0 3.6 -2.2 1.3 -2.4 1.2 -31.4 -1.3 -3.7 -3.6 -3.3 -3.7 -1zM709.7 433.5l3.7 -.1 3.9 1.6 2.9 3.6 .8 3.6 .3 19.3 -.7 15.7 -1.2 3.9 -3.8 8.2 -1 1.5 -2.4 .7 -2 -1 -5 -8.4 -1.3 -3.7 -.6 -4.8 -.1 -32.6 .6 -2.4 1.6 -2.4 1.9 -1.6zM709.1 436.2l-2.8 2.4 -.9 2.4 .1 32.6 .6 3.6 1.2 2.4 4.9 6 1.2 0 3.6 -6 1.5 -4.8 .1 -33.8 -1.6 -3.3 -2 -1.5 -2.8 -.7zM650.4 502.5l12.1 3.6 2.2 1.3 5.9 8.5 1.6 5.9 1.6 8.6 .5 8.4 -.5 61.6 -3.3 0 .5 -61.6 -1.3 -13.1 -2.2 -8.6 -1.4 -2.3 -4.8 -4.3 -2.5 -.9 -3.6 -.4 -2.4 .4 -2.4 1.6 -2.9 4.7 .5 84.5 -3.2 0 -.7 -84.5 3 -9.7 2 -3.4z" fill="#96966e" stroke="#96966e" stroke-width=".5"/>
<path d="M605.5 433.4l4.9 -.3 3.6 1.6 2.4 2.7 1.3 3.6 -1.2 31.4 -1.3 2.4 -3.6 2.2 -4.9 0 -2.4 -.8 -2.4 -1.7 -.9 -3.3 -1.6 -30.2 .6 -2.4 1.5 -2.4zM709.7 435.9l3.7 -.3 2.4 1 2.4 3 .5 2.6 -.2 32.6 -1.5 4.8 -3.6 6 -1.2 0 -4.9 -6 -1.2 -2.4 -.6 -3.6 -.1 -32.6 1.9 -3.6zM712.2 442.2l-.1 12.1 -2.9 6 -.1 9.7 .3 3.6 1.2 3.6 1.6 2.4 1.2 0 1.3 -2.4 .9 -3.6 .2 -12.1 -1.2 -3.4 -2.2 -2.6zM652.8 509.6l2.4 -.4 3.6 .4 2.5 .9 2.4 1.8 3.3 3.6 2.7 9.8 1.3 13.1 -.5 61.6 -22.5 0 -.5 -84.5 2.9 -4.7zM658.1 526.7l-1.7 1.9 -1.1 3 -.7 7.2 .6 3.6 1.2 3.2 1.2 1.6 2.4 1 2.5 -1.3 1.2 -2.1 1.1 -4.8 .1 -4.8 -1 -4.8 -1.4 -2.8 -2.5 -1.5z" fill="#6e6e36" stroke="#6e6e36" stroke-width=".5"/>
<path d="M712.2 442.2l.2 13.3 2.2 2.6 1.2 3.4 -.2 12.1 -.9 3.6 -1.3 2.4 -1.2 0 -1.6 -2.4 -1.2 -3.6 -.3 -3.6 .1 -9.7 2.9 -6zM658.8 526.2l2.5 .3 1.4 1.5 1.6 3.6 .7 4.8 -.3 4.8 -1 3.6 -1.2 2.1 -2.5 1.3 -2.4 -1 -1.2 -1.6 -1.2 -3.2 -.6 -3.6 .2 -4.8 .8 -3.6 1.3 -2.4z" fill="#5e6228" stroke="#5e6228" stroke-width=".5"/>
<polygon points="539.8,497.9 548.8,502.5 551.9,511.5 559.4,522.0 562.4,601.9 539.8,601.9" fill="#ffffff"/>
</g>
<line x1="567.0" y1="445.6" x2="567.0" y2="490.4" stroke="#111" stroke-width="1.4" stroke-dasharray="1.3 1.7" fill="none"/>
<line x1="544.3" y1="490.4" x2="567.0" y2="490.4" stroke="#111" stroke-width="1.4" stroke-dasharray="1.3 1.7" fill="none"/>
<line x1="567.0" y1="521.3" x2="567.0" y2="596.6" stroke="#111" stroke-width="1.4" stroke-dasharray="1.3 1.7" fill="none"/>
<line x1="544.3" y1="521.3" x2="567.0" y2="521.3" stroke="#111" stroke-width="1.4" stroke-dasharray="1.3 1.7" fill="none"/>
<line x1="544.3" y1="596.6" x2="567.0" y2="596.6" stroke="#111" stroke-width="1.4" stroke-dasharray="1.3 1.7" fill="none"/>
<line x1="595.7" y1="442.9" x2="595.7" y2="490.4" stroke="#111" stroke-width="1.4" stroke-dasharray="1.3 1.7" fill="none"/>
<line x1="619.8" y1="442.1" x2="619.8" y2="490.4" stroke="#111" stroke-width="1.4" stroke-dasharray="1.3 1.7" fill="none"/>
<line x1="595.7" y1="490.4" x2="619.8" y2="490.4" stroke="#111" stroke-width="1.4" stroke-dasharray="1.3 1.7" fill="none"/>
<line x1="595.7" y1="521.3" x2="595.7" y2="596.6" stroke="#111" stroke-width="1.4" stroke-dasharray="1.3 1.7" fill="none"/>
<line x1="619.8" y1="521.3" x2="619.8" y2="596.6" stroke="#111" stroke-width="1.4" stroke-dasharray="1.3 1.7" fill="none"/>
<line x1="595.7" y1="521.3" x2="619.8" y2="521.3" stroke="#111" stroke-width="1.4" stroke-dasharray="1.3 1.7" fill="none"/>
<line x1="595.7" y1="596.6" x2="619.8" y2="596.6" stroke="#111" stroke-width="1.4" stroke-dasharray="1.3 1.7" fill="none"/>
<line x1="648.6" y1="441.1" x2="648.6" y2="490.4" stroke="#111" stroke-width="1.4" stroke-dasharray="1.3 1.7" fill="none"/>
<line x1="672.7" y1="438.0" x2="672.7" y2="490.4" stroke="#111" stroke-width="1.4" stroke-dasharray="1.3 1.7" fill="none"/>
<line x1="648.6" y1="490.4" x2="672.7" y2="490.4" stroke="#111" stroke-width="1.4" stroke-dasharray="1.3 1.7" fill="none"/>
<line x1="648.6" y1="521.3" x2="648.6" y2="596.6" stroke="#111" stroke-width="1.4" stroke-dasharray="1.3 1.7" fill="none"/>
<line x1="672.7" y1="521.3" x2="672.7" y2="596.6" stroke="#111" stroke-width="1.4" stroke-dasharray="1.3 1.7" fill="none"/>
<line x1="648.6" y1="521.3" x2="672.7" y2="521.3" stroke="#111" stroke-width="1.4" stroke-dasharray="1.3 1.7" fill="none"/>
<line x1="648.6" y1="596.6" x2="672.7" y2="596.6" stroke="#111" stroke-width="1.4" stroke-dasharray="1.3 1.7" fill="none"/>
<line x1="701.4" y1="442.9" x2="701.4" y2="490.4" stroke="#111" stroke-width="1.4" stroke-dasharray="1.3 1.7" fill="none"/>
<line x1="725.6" y1="442.9" x2="725.6" y2="490.4" stroke="#111" stroke-width="1.4" stroke-dasharray="1.3 1.7" fill="none"/>
<line x1="701.4" y1="490.4" x2="725.6" y2="490.4" stroke="#111" stroke-width="1.4" stroke-dasharray="1.3 1.7" fill="none"/>
<line x1="701.4" y1="521.3" x2="701.4" y2="596.6" stroke="#111" stroke-width="1.4" stroke-dasharray="1.3 1.7" fill="none"/>
<line x1="725.6" y1="521.3" x2="725.6" y2="596.6" stroke="#111" stroke-width="1.4" stroke-dasharray="1.3 1.7" fill="none"/>
<line x1="701.4" y1="521.3" x2="725.6" y2="521.3" stroke="#111" stroke-width="1.4" stroke-dasharray="1.3 1.7" fill="none"/>
<line x1="701.4" y1="596.6" x2="725.6" y2="596.6" stroke="#111" stroke-width="1.4" stroke-dasharray="1.3 1.7" fill="none"/>
<line x1="754.3" y1="441.6" x2="754.3" y2="490.4" stroke="#111" stroke-width="1.4" stroke-dasharray="1.3 1.7" fill="none"/>
<line x1="754.3" y1="490.4" x2="770.9" y2="490.4" stroke="#111" stroke-width="1.4" stroke-dasharray="1.3 1.7" fill="none"/>
<line x1="754.3" y1="521.3" x2="754.3" y2="596.6" stroke="#111" stroke-width="1.4" stroke-dasharray="1.3 1.7" fill="none"/>
<line x1="754.3" y1="521.3" x2="770.9" y2="521.3" stroke="#111" stroke-width="1.4" stroke-dasharray="1.3 1.7" fill="none"/>
<line x1="754.3" y1="596.6" x2="770.9" y2="596.6" stroke="#111" stroke-width="1.4" stroke-dasharray="1.3 1.7" fill="none"/>
<polyline points="544.3,446.1 556.4,445.4 567.7,444.5 580.6,443.1 594.0,441.8 609.4,442.3 623.3,440.7 635.0,440.4 648.0,440.2 654.6,438.7 660.0,436.9 662.2,436.9 675.8,437.0 682.1,438.7 690.3,441.1 701.4,441.9 714.3,442.3 733.5,441.6 740.7,440.9 746.5,440.3 752.8,440.5 759.3,441.1 764.9,442.7 770.9,445.9" fill="none" stroke="#000" stroke-width="1.7" stroke-linejoin="round"/>
<polygon points="658.6,437.4 662.0,432.8 665.4,437.4" fill="#000"/>
<polygon points="665.1,437.4 668.5,431.8 671.9,437.4" fill="#000"/>
<polygon points="672.1,437.5 675.5,430.8 678.9,437.5" fill="#000"/>
<polygon points="743.3,440.8 746.5,434.6 749.7,440.8" fill="#000"/>
<line x1="544.3" y1="416.2" x2="544.3" y2="603.4" stroke="#222" stroke-width="1.3"/>
<line x1="770.9" y1="416.2" x2="770.9" y2="597.4" stroke="#222" stroke-width="1.3"/>
<line x1="544.3" y1="597.4" x2="770.9" y2="597.4" stroke="#333" stroke-width="1.3"/>
<line x1="538.7" y1="446.7" x2="544.3" y2="446.7" stroke="#333" stroke-width="1.1"/>
<line x1="770.9" y1="446.7" x2="776.2" y2="446.7" stroke="#333" stroke-width="1.1"/>
<text x="537.0" y="450.5" font-size="10.50" text-anchor="end" font-weight="normal" fill="#1a1a1a" stroke="#1a1a1a" stroke-width="0.22" font-family="Liberation Sans, sans-serif" >0</text>
<line x1="538.7" y1="522.0" x2="544.3" y2="522.0" stroke="#333" stroke-width="1.1"/>
<line x1="770.9" y1="522.0" x2="776.2" y2="522.0" stroke="#333" stroke-width="1.1"/>
<text x="537.0" y="525.8" font-size="10.50" text-anchor="end" font-weight="normal" fill="#1a1a1a" stroke="#1a1a1a" stroke-width="0.22" font-family="Liberation Sans, sans-serif" >-5</text>
<line x1="538.7" y1="597.4" x2="544.3" y2="597.4" stroke="#333" stroke-width="1.1"/>
<line x1="770.9" y1="597.4" x2="776.2" y2="597.4" stroke="#333" stroke-width="1.1"/>
<text x="537.0" y="601.2" font-size="10.50" text-anchor="end" font-weight="normal" fill="#1a1a1a" stroke="#1a1a1a" stroke-width="0.22" font-family="Liberation Sans, sans-serif" >-10</text>
<line x1="544.3" y1="597.4" x2="544.3" y2="603.2" stroke="#333" stroke-width="1.1"/>
<text x="544.3" y="613.8" font-size="10.50" text-anchor="middle" font-weight="normal" fill="#1a1a1a" stroke="#1a1a1a" stroke-width="0.22" font-family="Liberation Sans, sans-serif" >0</text>
<line x1="619.8" y1="597.4" x2="619.8" y2="603.2" stroke="#333" stroke-width="1.1"/>
<text x="619.8" y="613.8" font-size="10.50" text-anchor="middle" font-weight="normal" fill="#1a1a1a" stroke="#1a1a1a" stroke-width="0.22" font-family="Liberation Sans, sans-serif" >5</text>
<line x1="695.4" y1="597.4" x2="695.4" y2="603.2" stroke="#333" stroke-width="1.1"/>
<text x="695.4" y="613.8" font-size="10.50" text-anchor="middle" font-weight="normal" fill="#1a1a1a" stroke="#1a1a1a" stroke-width="0.22" font-family="Liberation Sans, sans-serif" >10</text>
<line x1="770.9" y1="597.4" x2="770.9" y2="603.2" stroke="#333" stroke-width="1.1"/>
<text x="770.9" y="613.8" font-size="10.50" text-anchor="middle" font-weight="normal" fill="#1a1a1a" stroke="#1a1a1a" stroke-width="0.22" font-family="Liberation Sans, sans-serif" >15</text>
<text x="547.7" y="426.6" font-size="10.10" text-anchor="start" font-weight="bold" fill="#1a1a1a" font-family="Liberation Sans, sans-serif" >A3</text>
<text x="768.1" y="424.4" font-size="10.10" text-anchor="end" font-weight="bold" fill="#1a1a1a" font-family="Liberation Sans, sans-serif" >B3</text>
<text x="668.0" y="425.3" font-size="10.50" text-anchor="middle" font-weight="normal" fill="#1a1a1a" stroke="#1a1a1a" stroke-width="0.22" font-family="Liberation Sans, sans-serif" >Cer</text>
<text x="746.0" y="429.1" font-size="10.50" text-anchor="middle" font-weight="normal" fill="#1a1a1a" stroke="#1a1a1a" stroke-width="0.22" font-family="Liberation Sans, sans-serif" >Sc</text>
<rect x="548.0" y="571.8" width="61.2" height="23.0" fill="#ffffff" fill-opacity="0.6"/>
<text x="548.9" y="581.7" font-size="10.20" text-anchor="start" font-weight="normal" fill="#333" stroke="#333" stroke-width="0.22" font-family="Liberation Sans, sans-serif" >Vp/Vs ratio,</text>
<text x="548.9" y="592.9" font-size="10.20" text-anchor="start" font-weight="normal" fill="#333" stroke="#333" stroke-width="0.22" font-family="Liberation Sans, sans-serif" >Section 3</text>
<text x="10.0" y="91.5" font-size="10.50" text-anchor="middle" font-weight="normal" fill="#1a1a1a" stroke="#1a1a1a" stroke-width="0.22" font-family="Liberation Sans, sans-serif" transform="rotate(-90 10.0 91.5)">depth, km</text>
<text x="10.0" y="302.7" font-size="10.50" text-anchor="middle" font-weight="normal" fill="#1a1a1a" stroke="#1a1a1a" stroke-width="0.22" font-family="Liberation Sans, sans-serif" transform="rotate(-90 10.0 302.7)">depth, km</text>
<text x="10.0" y="507.2" font-size="10.50" text-anchor="middle" font-weight="normal" fill="#1a1a1a" stroke="#1a1a1a" stroke-width="0.22" font-family="Liberation Sans, sans-serif" transform="rotate(-90 10.0 507.2)">depth, km</text>
<text x="151.8" y="627.9" font-size="10.50" text-anchor="middle" font-weight="normal" fill="#1a1a1a" stroke="#1a1a1a" stroke-width="0.22" font-family="Liberation Sans, sans-serif" >distance, km</text>
<text x="406.8" y="627.9" font-size="10.50" text-anchor="middle" font-weight="normal" fill="#1a1a1a" stroke="#1a1a1a" stroke-width="0.22" font-family="Liberation Sans, sans-serif" >distance, km</text>
<text x="657.6" y="627.9" font-size="10.50" text-anchor="middle" font-weight="normal" fill="#1a1a1a" stroke="#1a1a1a" stroke-width="0.22" font-family="Liberation Sans, sans-serif" >distance, km</text>
<rect x="176.00" y="647.00" width="9.74" height="12.50" fill="#722a2a" stroke="#111" stroke-width="0.8"/>
<rect x="185.74" y="647.00" width="9.74" height="12.50" fill="#8c2020" stroke="#111" stroke-width="0.8"/>
<rect x="195.49" y="647.00" width="9.74" height="12.50" fill="#a80808" stroke="#111" stroke-width="0.8"/>
<rect x="205.23" y="647.00" width="9.74" height="12.50" fill="#d40808" stroke="#111" stroke-width="0.8"/>
<rect x="214.97" y="647.00" width="9.74" height="12.50" fill="#ff0a0a" stroke="#111" stroke-width="0.8"/>
<rect x="224.71" y="647.00" width="9.74" height="12.50" fill="#ff4a0a" stroke="#111" stroke-width="0.8"/>
<rect x="234.46" y="647.00" width="9.74" height="12.50" fill="#ff7800" stroke="#111" stroke-width="0.8"/>
<rect x="244.20" y="647.00" width="9.74" height="12.50" fill="#ffa000" stroke="#111" stroke-width="0.8"/>
<rect x="253.94" y="647.00" width="9.74" height="12.50" fill="#ffc800" stroke="#111" stroke-width="0.8"/>
<rect x="263.69" y="647.00" width="9.74" height="12.50" fill="#ffe6a0" stroke="#111" stroke-width="0.8"/>
<rect x="273.43" y="647.00" width="9.74" height="12.50" fill="#dcffff" stroke="#111" stroke-width="0.8"/>
<rect x="283.17" y="647.00" width="9.74" height="12.50" fill="#a0f6ff" stroke="#111" stroke-width="0.8"/>
<rect x="292.91" y="647.00" width="9.74" height="12.50" fill="#40dcf8" stroke="#111" stroke-width="0.8"/>
<rect x="302.66" y="647.00" width="9.74" height="12.50" fill="#20b4f8" stroke="#111" stroke-width="0.8"/>
<rect x="312.40" y="647.00" width="9.74" height="12.50" fill="#5a9cff" stroke="#111" stroke-width="0.8"/>
<rect x="322.14" y="647.00" width="9.74" height="12.50" fill="#7a8ef0" stroke="#111" stroke-width="0.8"/>
<rect x="331.89" y="647.00" width="9.74" height="12.50" fill="#9080e0" stroke="#111" stroke-width="0.8"/>
<rect x="341.63" y="647.00" width="9.74" height="12.50" fill="#9a50d0" stroke="#111" stroke-width="0.8"/>
<rect x="351.37" y="647.00" width="9.74" height="12.50" fill="#7820d8" stroke="#111" stroke-width="0.8"/>
<rect x="361.11" y="647.00" width="9.74" height="12.50" fill="#3c10a8" stroke="#111" stroke-width="0.8"/>
<rect x="370.86" y="647.00" width="9.74" height="12.50" fill="#0a0a64" stroke="#111" stroke-width="0.8"/>
<rect x="176.00" y="647.00" width="204.60" height="12.50" fill="none" stroke="#111" stroke-width="1"/>
<text x="176.0" y="667.8" font-size="6.60" text-anchor="middle" font-weight="normal" fill="#222" font-family="Liberation Sans, sans-serif" >-10</text>
<text x="195.5" y="667.8" font-size="6.60" text-anchor="middle" font-weight="normal" fill="#222" font-family="Liberation Sans, sans-serif" >-8</text>
<text x="215.0" y="667.8" font-size="6.60" text-anchor="middle" font-weight="normal" fill="#222" font-family="Liberation Sans, sans-serif" >-6</text>
<text x="234.5" y="667.8" font-size="6.60" text-anchor="middle" font-weight="normal" fill="#222" font-family="Liberation Sans, sans-serif" >-4</text>
<text x="253.9" y="667.8" font-size="6.60" text-anchor="middle" font-weight="normal" fill="#222" font-family="Liberation Sans, sans-serif" >-2</text>
<text x="273.4" y="667.8" font-size="6.60" text-anchor="middle" font-weight="normal" fill="#222" font-family="Liberation Sans, sans-serif" >0</text>
<text x="292.9" y="667.8" font-size="6.60" text-anchor="middle" font-weight="normal" fill="#222" font-family="Liberation Sans, sans-serif" >2</text>
<text x="312.4" y="667.8" font-size="6.60" text-anchor="middle" font-weight="normal" fill="#222" font-family="Liberation Sans, sans-serif" >4</text>
<text x="331.9" y="667.8" font-size="6.60" text-anchor="middle" font-weight="normal" fill="#222" font-family="Liberation Sans, sans-serif" >6</text>
<text x="351.4" y="667.8" font-size="6.60" text-anchor="middle" font-weight="normal" fill="#222" font-family="Liberation Sans, sans-serif" >8</text>
<text x="370.9" y="667.8" font-size="6.60" text-anchor="middle" font-weight="normal" fill="#222" font-family="Liberation Sans, sans-serif" >10</text>
<text x="276.0" y="676.8" font-size="7.00" text-anchor="middle" font-weight="normal" fill="#222" font-family="Liberation Sans, sans-serif" >velocity anomalies, %</text>
<rect x="418.60" y="647.00" width="10.10" height="12.50" fill="#050a6e" stroke="#111" stroke-width="0.8"/>
<rect x="428.70" y="647.00" width="10.10" height="12.50" fill="#0a3296" stroke="#111" stroke-width="0.8"/>
<rect x="438.81" y="647.00" width="10.10" height="12.50" fill="#0a64be" stroke="#111" stroke-width="0.8"/>
<rect x="448.91" y="647.00" width="10.10" height="12.50" fill="#1490d8" stroke="#111" stroke-width="0.8"/>
<rect x="459.02" y="647.00" width="10.10" height="12.50" fill="#10b8f0" stroke="#111" stroke-width="0.8"/>
<rect x="469.12" y="647.00" width="10.10" height="12.50" fill="#28ccfa" stroke="#111" stroke-width="0.8"/>
<rect x="479.23" y="647.00" width="10.10" height="12.50" fill="#64dcff" stroke="#111" stroke-width="0.8"/>
<rect x="489.33" y="647.00" width="10.10" height="12.50" fill="#96e6ff" stroke="#111" stroke-width="0.8"/>
<rect x="499.44" y="647.00" width="10.10" height="12.50" fill="#c8f0ff" stroke="#111" stroke-width="0.8"/>
<rect x="509.54" y="647.00" width="10.10" height="12.50" fill="#f4f8fc" stroke="#111" stroke-width="0.8"/>
<rect x="519.65" y="647.00" width="10.10" height="12.50" fill="#dcdcd2" stroke="#111" stroke-width="0.8"/>
<rect x="529.75" y="647.00" width="10.10" height="12.50" fill="#b4b49a" stroke="#111" stroke-width="0.8"/>
<rect x="539.86" y="647.00" width="10.10" height="12.50" fill="#96966e" stroke="#111" stroke-width="0.8"/>
<rect x="549.96" y="647.00" width="10.10" height="12.50" fill="#6e6e36" stroke="#111" stroke-width="0.8"/>
<rect x="560.07" y="647.00" width="10.10" height="12.50" fill="#5e6228" stroke="#111" stroke-width="0.8"/>
<rect x="570.17" y="647.00" width="10.10" height="12.50" fill="#4c5020" stroke="#111" stroke-width="0.8"/>
<rect x="580.28" y="647.00" width="10.10" height="12.50" fill="#3a4410" stroke="#111" stroke-width="0.8"/>
<rect x="590.38" y="647.00" width="10.10" height="12.50" fill="#552800" stroke="#111" stroke-width="0.8"/>
<rect x="600.49" y="647.00" width="10.10" height="12.50" fill="#801a0a" stroke="#111" stroke-width="0.8"/>
<rect x="610.59" y="647.00" width="10.10" height="12.50" fill="#900808" stroke="#111" stroke-width="0.8"/>
<rect x="620.70" y="647.00" width="10.10" height="12.50" fill="#a80000" stroke="#111" stroke-width="0.8"/>
<rect x="418.60" y="647.00" width="212.20" height="12.50" fill="none" stroke="#111" stroke-width="1"/>
<text x="418.6" y="667.8" font-size="6.60" text-anchor="middle" font-weight="normal" fill="#222" font-family="Liberation Sans, sans-serif" >1.6</text>
<text x="438.8" y="667.8" font-size="6.60" text-anchor="middle" font-weight="normal" fill="#222" font-family="Liberation Sans, sans-serif" >1.64</text>
<text x="459.0" y="667.8" font-size="6.60" text-anchor="middle" font-weight="normal" fill="#222" font-family="Liberation Sans, sans-serif" >1.68</text>
<text x="479.2" y="667.8" font-size="6.60" text-anchor="middle" font-weight="normal" fill="#222" font-family="Liberation Sans, sans-serif" >1.72</text>
<text x="499.4" y="667.8" font-size="6.60" text-anchor="middle" font-weight="normal" fill="#222" font-family="Liberation Sans, sans-serif" >1.76</text>
<text x="519.6" y="667.8" font-size="6.60" text-anchor="middle" font-weight="normal" fill="#222" font-family="Liberation Sans, sans-serif" >1.8</text>
<text x="539.9" y="667.8" font-size="6.60" text-anchor="middle" font-weight="normal" fill="#222" font-family="Liberation Sans, sans-serif" >1.84</text>
<text x="560.1" y="667.8" font-size="6.60" text-anchor="middle" font-weight="normal" fill="#222" font-family="Liberation Sans, sans-serif" >1.88</text>
<text x="580.3" y="667.8" font-size="6.60" text-anchor="middle" font-weight="normal" fill="#222" font-family="Liberation Sans, sans-serif" >1.92</text>
<text x="600.5" y="667.8" font-size="6.60" text-anchor="middle" font-weight="normal" fill="#222" font-family="Liberation Sans, sans-serif" >1.96</text>
<text x="620.7" y="667.8" font-size="6.60" text-anchor="middle" font-weight="normal" fill="#222" font-family="Liberation Sans, sans-serif" >2</text>
<text x="522.5" y="676.8" font-size="7.00" text-anchor="middle" font-weight="normal" fill="#222" font-family="Liberation Sans, sans-serif" >velocity anomalies, %</text>
</svg>
</body></html>
